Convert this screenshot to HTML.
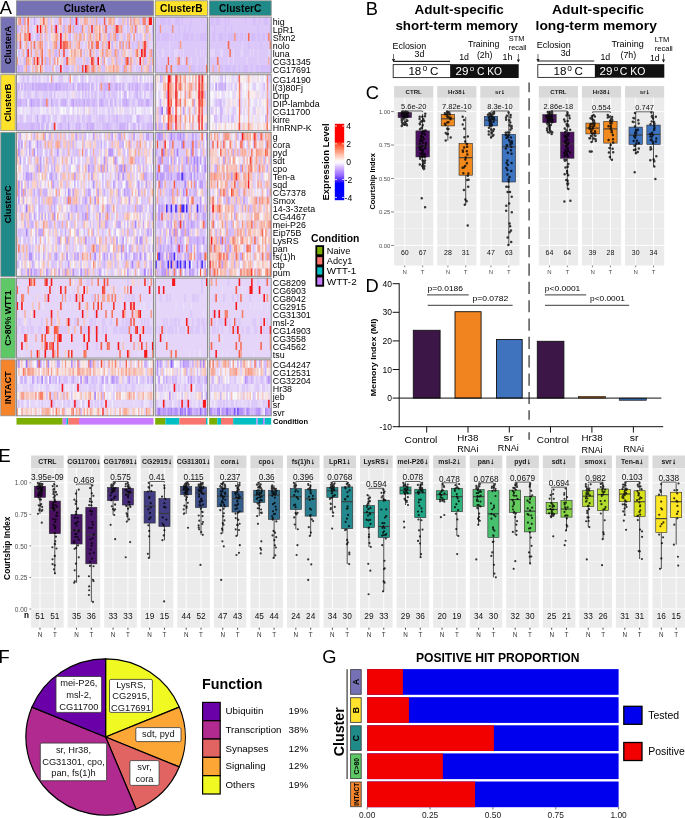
<!DOCTYPE html>
<html><head><meta charset="utf-8"><title>Figure</title>
<style>html,body{margin:0;padding:0;background:#fff}svg{display:block}text{font-family:"Liberation Sans",Arial,sans-serif}</style>
</head><body>
<svg width="685" height="818" viewBox="0 0 685 818">
<rect width="685" height="818" fill="#fff"/>
<rect x="16.5" y="17" width="137" height="56" fill="#dac4f9"/>
<rect x="155.2" y="17" width="52.3" height="56" fill="#dac4f9"/>
<rect x="209.2" y="17" width="62" height="56" fill="#dac4f9"/>
<rect x="16.5" y="74.7" width="137" height="56" fill="#dac4f9"/>
<rect x="155.2" y="74.7" width="52.3" height="56" fill="#dac4f9"/>
<rect x="209.2" y="74.7" width="62" height="56" fill="#dac4f9"/>
<rect x="16.5" y="132.4" width="137" height="144" fill="#dac4f9"/>
<rect x="155.2" y="132.4" width="52.3" height="144" fill="#dac4f9"/>
<rect x="209.2" y="132.4" width="62" height="144" fill="#dac4f9"/>
<rect x="16.5" y="278.1" width="137" height="80" fill="#dac4f9"/>
<rect x="155.2" y="278.1" width="52.3" height="80" fill="#dac4f9"/>
<rect x="209.2" y="278.1" width="62" height="80" fill="#dac4f9"/>
<rect x="16.5" y="359.8" width="137" height="56" fill="#dac4f9"/>
<rect x="155.2" y="359.8" width="52.3" height="56" fill="#dac4f9"/>
<rect x="209.2" y="359.8" width="62" height="56" fill="#dac4f9"/>
<g stroke-width="8" fill="none">
<path stroke="#f9dbd2" d="M16.5 21h1.56M28.95 21h1.56M106.8 21h1.56M128.59 21h1.56M35.18 29h1.56M52.31 29h1.56M58.53 29h1.56M97.45 29h1.56M22.73 37h1.56M42.97 37h1.56M102.12 37h1.56M86.56 45h1.56M109.91 45h1.56M78.77 53h1.56M88.11 53h1.56M99.01 53h1.56M119.25 53h1.56M127.03 53h1.56M21.17 61h1.56M30.51 61h1.56M35.18 61h1.56M106.8 69h1.56M151.94 69h1.56M88.11 110.7h1.56M156.74 78.7h1.54M164.43 78.7h1.54M162.89 94.7h1.54M173.66 94.7h1.54M195.19 94.7h3.08M155.2 102.7h1.54M162.89 102.7h1.54M182.89 102.7h1.54M204.42 102.7h1.54M170.58 110.7h1.54M176.74 110.7h1.54M155.2 118.7h1.54M185.96 118.7h1.54M205.96 118.7h1.54M199.81 126.7h1.54M246.4 78.7h1.55M257.25 78.7h1.55M257.25 94.7h1.55M244.85 102.7h1.55M218.5 126.7h1.55M230.9 126.7h1.55M234 126.7h1.55M246.4 126.7h1.55M263.45 126.7h3.1M39.85 136.4h1.56M52.31 136.4h1.56M77.22 136.4h1.56M97.45 136.4h1.56M74.1 144.4h1.56M86.56 144.4h3.11M92.78 144.4h1.56M127.03 144.4h1.56M131.7 144.4h1.56M141.05 144.4h1.56M150.39 144.4h1.56M99.01 152.4h1.56M133.26 152.4h1.56M18.06 160.4h1.56M56.98 160.4h1.56M88.11 160.4h1.56M58.53 168.4h1.56M144.16 168.4h1.56M42.97 176.4h1.56M94.34 176.4h3.11M116.14 176.4h1.56M19.61 184.4h1.56M38.3 184.4h1.56M61.65 184.4h1.56M133.26 184.4h1.56M147.27 184.4h1.56M150.39 184.4h1.56M25.84 192.4h1.56M28.95 192.4h1.56M49.19 192.4h1.56M100.57 192.4h1.56M30.51 200.4h1.56M77.22 200.4h1.56M92.78 200.4h1.56M108.35 200.4h1.56M116.14 200.4h1.56M123.92 200.4h1.56M130.15 200.4h1.56M18.06 208.4h1.56M60.09 208.4h1.56M103.68 208.4h1.56M111.47 208.4h1.56M142.6 208.4h1.56M39.85 216.4h1.56M97.45 216.4h1.56M100.57 216.4h1.56M109.91 216.4h1.56M148.83 216.4h1.56M21.17 224.4h3.11M86.56 224.4h1.56M120.81 224.4h1.56M36.74 232.4h1.56M53.86 232.4h1.56M78.77 232.4h1.56M119.25 232.4h1.56M144.16 232.4h1.56M95.9 240.4h1.56M114.58 240.4h1.56M127.03 240.4h1.56M50.75 248.4h1.56M74.1 248.4h1.56M85 248.4h1.56M103.68 248.4h1.56M64.76 256.4h1.56M72.55 256.4h1.56M78.77 256.4h1.56M116.14 256.4h3.11M148.83 256.4h1.56M41.41 264.4h1.56M69.43 264.4h1.56M74.1 264.4h1.56M78.77 264.4h1.56M83.44 264.4h1.56M86.56 264.4h1.56M113.02 264.4h1.56M19.61 272.4h1.56M41.41 272.4h1.56M56.98 272.4h1.56M106.8 272.4h1.56M165.97 136.4h1.54M185.96 136.4h1.54M199.81 136.4h1.54M190.58 168.4h1.54M179.81 192.4h1.54M179.81 200.4h1.54M193.66 208.4h1.54M184.43 224.4h1.54M190.58 232.4h1.54M182.89 256.4h1.54M209.2 136.4h1.55M249.5 144.4h1.55M213.85 152.4h1.55M252.6 152.4h1.55M268.1 152.4h1.55M212.3 160.4h3.1M226.25 160.4h1.55M238.65 160.4h1.55M261.9 160.4h1.55M260.35 168.4h1.55M213.85 200.4h1.55M210.75 208.4h1.55M229.35 208.4h1.55M238.65 208.4h1.55M221.6 216.4h1.55M227.8 216.4h1.55M240.2 216.4h3.1M258.8 216.4h1.55M223.15 224.4h1.55M265 224.4h1.55M241.75 232.4h1.55M246.4 232.4h1.55M251.05 232.4h1.55M257.25 232.4h1.55M243.3 240.4h1.55M220.05 248.4h1.55M210.75 256.4h1.55M213.85 256.4h1.55M263.45 256.4h1.55M258.8 264.4h1.55M263.45 264.4h4.65M232.45 272.4h1.55M235.55 272.4h1.55M133.26 282.1h1.56M137.93 282.1h1.56M109.91 290.1h1.56M36.74 298.1h1.56M119.25 298.1h1.56M56.98 322.1h1.56M49.19 330.1h1.56M92.78 330.1h1.56M85 338.1h1.56M53.86 363.8h1.56M116.14 363.8h1.56M122.36 363.8h1.56M133.26 363.8h1.56M25.84 371.8h1.56M41.41 371.8h1.56M44.52 371.8h1.56M61.65 371.8h1.56M70.99 371.8h1.56M85 371.8h1.56M97.45 371.8h3.11M102.12 371.8h1.56M106.8 371.8h1.56M109.91 371.8h1.56M123.92 371.8h1.56M127.03 371.8h1.56M142.6 371.8h1.56M120.81 379.8h1.56M24.28 395.8h1.56M28.95 395.8h1.56M33.62 395.8h1.56M67.88 395.8h1.56M92.78 395.8h1.56M125.48 395.8h1.56M131.7 395.8h1.56M139.49 395.8h3.11M151.94 395.8h1.56M22.73 411.8h3.11M33.62 411.8h1.56M38.3 411.8h1.56M77.22 411.8h1.56M95.9 411.8h1.56M105.24 411.8h1.56M128.59 411.8h1.56M151.94 411.8h1.56M198.27 363.8h1.54M201.35 363.8h1.54M165.97 371.8h1.54M175.2 371.8h1.54M182.89 371.8h1.54M155.2 395.8h1.54M184.43 395.8h3.08M195.19 395.8h1.54M246.4 363.8h1.55M238.65 371.8h1.55M241.75 371.8h1.55M255.7 371.8h1.55M269.65 371.8h1.55M216.95 379.8h1.55M213.85 395.8h3.1M218.5 395.8h1.55M237.1 395.8h1.55M240.2 395.8h1.55"/>
<path stroke="#f9aa93" d="M18.06 21h1.56M69.43 21h1.56M83.44 21h3.11M95.9 21h1.56M108.35 21h1.56M50.75 29h1.56M72.55 29h1.56M131.7 29h1.56M56.98 37h1.56M64.76 37h1.56M78.77 37h3.11M128.59 37h1.56M25.84 45h1.56M38.3 45h1.56M61.65 45h1.56M102.12 45h1.56M125.48 45h1.56M70.99 53h1.56M105.24 53h3.11M38.3 61h1.56M44.52 61h1.56M116.14 61h1.56M151.94 61h1.56M25.84 69h1.56M35.18 69h1.56M52.31 69h1.56M88.11 69h1.56M116.14 69h1.56M125.48 69h1.56M130.15 69h1.56M141.05 69h1.56M268.1 61h1.55M212.3 69h1.55M170.58 78.7h1.54M164.43 86.7h1.54M170.58 86.7h1.54M184.43 86.7h1.54M189.04 86.7h1.54M199.81 86.7h1.54M202.89 86.7h1.54M170.58 94.7h1.54M162.89 118.7h1.54M169.04 126.7h1.54M179.81 126.7h1.54M192.12 126.7h1.54M266.55 94.7h1.55M92.78 152.4h1.56M134.82 152.4h1.56M46.08 160.4h1.56M142.6 176.4h1.56M151.94 192.4h1.56M134.82 208.4h1.56M56.98 216.4h1.56M86.56 216.4h1.56M35.18 224.4h1.56M61.65 224.4h1.56M42.97 232.4h1.56M38.3 248.4h1.56M113.02 248.4h1.56M137.93 264.4h1.56M66.32 272.4h1.56M134.82 272.4h1.56M164.43 152.4h1.54M185.96 152.4h1.54M187.5 160.4h1.54M181.35 168.4h1.54M159.81 192.4h1.54M184.43 232.4h1.54M193.66 248.4h1.54M189.04 256.4h1.54M205.96 256.4h1.54M172.12 264.4h1.54M210.75 136.4h1.55M216.95 136.4h1.55M223.15 136.4h1.55M249.5 136.4h1.55M261.9 136.4h1.55M265 136.4h1.55M268.1 136.4h1.55M268.1 144.4h1.55M209.2 152.4h1.55M237.1 152.4h1.55M241.75 152.4h1.55M224.7 160.4h1.55M234 160.4h1.55M243.3 160.4h1.55M216.95 168.4h1.55M223.15 168.4h1.55M261.9 168.4h1.55M215.4 176.4h1.55M226.25 176.4h3.1M210.75 184.4h1.55M224.7 184.4h3.1M260.35 184.4h1.55M209.2 200.4h1.55M226.25 200.4h1.55M254.15 200.4h1.55M220.05 208.4h1.55M227.8 208.4h1.55M244.85 208.4h1.55M212.3 216.4h1.55M230.9 216.4h1.55M235.55 216.4h1.55M255.7 216.4h1.55M232.45 224.4h1.55M246.4 224.4h1.55M260.35 224.4h1.55M209.2 232.4h1.55M260.35 232.4h1.55M215.4 240.4h1.55M224.7 240.4h1.55M261.9 240.4h1.55M227.8 248.4h1.55M258.8 248.4h1.55M237.1 256.4h1.55M254.15 256.4h1.55M220.05 264.4h1.55M224.7 264.4h1.55M212.3 272.4h1.55M220.05 272.4h1.55M265 272.4h1.55M91.23 282.1h1.56M64.76 298.1h1.56M103.68 298.1h1.56M106.8 298.1h3.11M35.18 338.1h1.56M111.47 363.8h1.56M24.28 371.8h1.56M56.98 371.8h1.56M72.55 371.8h1.56M128.59 371.8h1.56M133.26 371.8h1.56M150.39 371.8h1.56M66.32 395.8h1.56M100.57 395.8h1.56M103.68 395.8h1.56M119.25 395.8h1.56M133.26 395.8h1.56M21.17 411.8h1.56M46.08 411.8h3.11M61.65 411.8h3.11M75.66 411.8h1.56M83.44 411.8h1.56M86.56 411.8h1.56M89.67 411.8h1.56M97.45 411.8h1.56M123.92 411.8h3.11M216.95 363.8h1.55M223.15 363.8h1.55M227.8 363.8h1.55M260.35 363.8h1.55M266.55 363.8h1.55M210.75 371.8h1.55M229.35 371.8h1.55M234 371.8h1.55M244.85 371.8h1.55M249.5 371.8h1.55"/>
<path stroke="#f98c70" d="M19.61 21h1.56M60.09 21h1.56M81.89 29h1.56M117.69 29h1.56M19.61 37h1.56M27.4 37h1.56M133.26 37h1.56M39.85 45h1.56M55.42 45h1.56M58.53 53h1.56M80.33 53h1.56M102.12 53h1.56M130.15 61h1.56M86.56 69h1.56M172.12 29h1.54M176.74 78.7h1.54M178.27 86.7h1.54M176.74 94.7h1.54M189.04 94.7h1.54M199.81 94.7h1.54M184.43 102.7h1.54M169.04 118.7h1.54M266.55 78.7h1.55M247.95 126.7h1.55M81.89 152.4h1.56M106.8 216.4h1.56M92.78 264.4h1.56M161.35 160.4h1.54M175.2 232.4h1.54M226.25 136.4h1.55M241.75 168.4h1.55M249.5 168.4h1.55M213.85 176.4h1.55M216.95 184.4h1.55M220.05 192.4h1.55M232.45 192.4h1.55M243.3 192.4h1.55M255.7 200.4h1.55M266.55 200.4h1.55M241.75 240.4h1.55M235.55 248.4h1.55M249.5 248.4h1.55M241.75 256.4h1.55M212.3 264.4h1.55M246.4 272.4h1.55M80.33 282.1h1.56M150.39 282.1h1.56M27.4 290.1h1.56M127.03 290.1h1.56M22.73 298.1h1.56M139.49 298.1h1.56M77.22 322.1h1.56M53.86 338.1h1.56M145.72 346.1h1.56M151.94 354.1h1.56M269.65 346.1h1.55M77.22 371.8h1.56"/>
<path stroke="#d5bef9" d="M21.17 21h1.56M47.64 21h1.56M63.2 21h1.56M72.55 21h1.56M91.23 21h1.56M94.34 21h1.56M99.01 21h1.56M105.24 21h1.56M119.25 21h1.56M123.92 21h1.56M139.49 21h1.56M18.06 29h1.56M56.98 29h1.56M74.1 29h4.67M92.78 29h1.56M103.68 29h1.56M113.02 29h1.56M127.03 29h1.56M136.38 29h1.56M144.16 29h1.56M38.3 37h1.56M41.41 37h1.56M44.52 37h1.56M86.56 37h1.56M92.78 37h1.56M100.57 37h1.56M106.8 37h1.56M117.69 37h1.56M123.92 37h1.56M130.15 37h1.56M136.38 37h1.56M139.49 37h1.56M145.72 37h1.56M151.94 37h1.56M27.4 45h1.56M44.52 45h1.56M56.98 45h1.56M94.34 45h1.56M105.24 45h1.56M116.14 45h1.56M127.03 45h1.56M131.7 45h1.56M136.38 45h1.56M18.06 53h1.56M44.52 53h1.56M53.86 53h1.56M83.44 53h1.56M95.9 53h1.56M111.47 53h3.11M120.81 53h1.56M32.07 61h1.56M47.64 61h1.56M52.31 61h1.56M63.2 61h3.11M86.56 61h1.56M114.58 61h1.56M119.25 61h1.56M123.92 61h1.56M144.16 61h3.11M150.39 61h1.56M16.5 69h1.56M19.61 69h1.56M28.95 69h1.56M44.52 69h3.11M49.19 69h1.56M55.42 69h1.56M63.2 69h3.11M67.88 69h1.56M72.55 69h1.56M78.77 69h1.56M83.44 69h1.56M102.12 69h3.11M139.49 69h1.56M150.39 69h1.56M159.81 21h6.15M167.51 21h3.08M175.2 21h4.61M181.35 21h1.54M190.58 21h1.54M158.28 29h1.54M170.58 29h1.54M178.27 29h1.54M184.43 29h1.54M189.04 29h1.54M205.96 29h1.54M156.74 37h3.08M161.35 37h7.69M170.58 37h1.54M175.2 37h1.54M178.27 37h1.54M182.89 37h6.15M190.58 37h3.08M196.73 37h1.54M199.81 37h7.69M178.27 45h1.54M155.2 69h1.54M161.35 69h1.54M164.43 69h1.54M169.04 69h1.54M176.74 69h12.31M190.58 69h4.61M198.27 69h1.54M201.35 69h1.54M210.75 21h3.1M215.4 21h4.65M224.7 21h1.55M227.8 21h1.55M244.85 21h1.55M252.6 21h3.1M258.8 21h1.55M263.45 21h4.65M213.85 29h1.55M224.7 29h1.55M230.9 29h1.55M257.25 29h1.55M269.65 29h1.55M212.3 37h3.1M218.5 37h4.65M224.7 37h1.55M227.8 37h6.2M235.55 37h3.1M240.2 37h3.1M244.85 37h1.55M251.05 37h4.65M257.25 37h3.1M261.9 37h3.1M266.55 37h1.55M247.95 45h1.55M260.35 45h1.55M213.85 69h3.1M220.05 69h3.1M224.7 69h6.2M232.45 69h3.1M238.65 69h1.55M243.3 69h4.65M251.05 69h1.55M255.7 69h3.1M260.35 69h10.85M22.73 78.7h1.56M27.4 78.7h1.56M81.89 78.7h1.56M139.49 78.7h1.56M16.5 86.7h1.56M25.84 86.7h6.23M33.62 86.7h1.56M47.64 86.7h1.56M53.86 86.7h1.56M61.65 86.7h1.56M64.76 86.7h1.56M69.43 86.7h1.56M80.33 86.7h1.56M83.44 86.7h1.56M86.56 86.7h1.56M92.78 86.7h1.56M95.9 86.7h1.56M99.01 86.7h1.56M102.12 86.7h1.56M111.47 86.7h1.56M137.93 86.7h3.11M144.16 86.7h1.56M27.4 94.7h1.56M35.18 94.7h1.56M50.75 94.7h1.56M53.86 94.7h1.56M81.89 94.7h1.56M85 94.7h1.56M88.11 94.7h1.56M91.23 94.7h1.56M94.34 94.7h1.56M108.35 94.7h1.56M113.02 94.7h1.56M119.25 94.7h1.56M125.48 94.7h1.56M134.82 94.7h1.56M139.49 94.7h1.56M144.16 94.7h1.56M150.39 94.7h1.56M21.17 102.7h4.67M28.95 102.7h1.56M35.18 102.7h1.56M41.41 102.7h1.56M47.64 102.7h1.56M52.31 102.7h1.56M55.42 102.7h3.11M60.09 102.7h1.56M77.22 102.7h1.56M80.33 102.7h3.11M91.23 102.7h1.56M94.34 102.7h3.11M105.24 102.7h3.11M111.47 102.7h1.56M119.25 102.7h1.56M133.26 102.7h1.56M139.49 102.7h1.56M142.6 102.7h1.56M148.83 102.7h1.56M19.61 118.7h1.56M41.41 118.7h1.56M44.52 118.7h1.56M47.64 118.7h1.56M63.2 118.7h3.11M67.88 118.7h1.56M77.22 118.7h1.56M81.89 118.7h1.56M88.11 118.7h3.11M99.01 118.7h1.56M102.12 118.7h1.56M108.35 118.7h1.56M113.02 118.7h1.56M127.03 118.7h1.56M130.15 118.7h1.56M150.39 118.7h1.56M18.06 126.7h12.45M33.62 126.7h4.67M42.97 126.7h1.56M47.64 126.7h1.56M52.31 126.7h1.56M58.53 126.7h1.56M61.65 126.7h1.56M64.76 126.7h1.56M77.22 126.7h1.56M88.11 126.7h1.56M102.12 126.7h4.67M108.35 126.7h3.11M116.14 126.7h1.56M134.82 126.7h1.56M142.6 126.7h1.56M148.83 126.7h1.56M151.94 126.7h1.56M161.35 78.7h1.54M204.42 94.7h1.54M158.28 110.7h1.54M172.12 110.7h1.54M193.66 110.7h1.54M159.81 118.7h1.54M172.12 126.7h1.54M221.6 78.7h1.55M224.7 78.7h1.55M268.1 78.7h1.55M223.15 86.7h1.55M263.45 86.7h1.55M215.4 102.7h1.55M218.5 102.7h1.55M268.1 102.7h1.55M221.6 110.7h1.55M213.85 118.7h3.1M227.8 118.7h1.55M230.9 118.7h3.1M18.06 136.4h1.56M55.42 136.4h1.56M64.76 136.4h1.56M80.33 136.4h1.56M83.44 136.4h3.11M142.6 136.4h1.56M60.09 144.4h1.56M66.32 144.4h1.56M69.43 144.4h1.56M83.44 144.4h1.56M97.45 144.4h1.56M103.68 144.4h1.56M120.81 144.4h1.56M130.15 144.4h1.56M137.93 144.4h1.56M25.84 152.4h1.56M39.85 152.4h1.56M46.08 152.4h1.56M49.19 152.4h1.56M63.2 152.4h1.56M72.55 152.4h1.56M75.66 152.4h3.11M89.67 152.4h1.56M123.92 152.4h1.56M127.03 152.4h1.56M151.94 152.4h1.56M24.28 160.4h1.56M42.97 160.4h1.56M49.19 160.4h1.56M89.67 160.4h1.56M106.8 160.4h1.56M142.6 160.4h1.56M151.94 160.4h1.56M27.4 168.4h1.56M35.18 168.4h1.56M47.64 168.4h1.56M63.2 168.4h1.56M114.58 168.4h1.56M127.03 168.4h1.56M139.49 168.4h1.56M145.72 168.4h1.56M22.73 176.4h1.56M35.18 176.4h1.56M52.31 176.4h1.56M60.09 176.4h1.56M114.58 176.4h1.56M130.15 176.4h1.56M150.39 176.4h1.56M36.74 184.4h1.56M56.98 184.4h1.56M64.76 184.4h1.56M77.22 184.4h1.56M102.12 184.4h1.56M105.24 184.4h1.56M117.69 184.4h1.56M120.81 184.4h1.56M136.38 184.4h1.56M141.05 184.4h1.56M148.83 184.4h1.56M36.74 192.4h1.56M64.76 192.4h1.56M69.43 192.4h1.56M85 192.4h3.11M119.25 192.4h1.56M125.48 192.4h1.56M147.27 192.4h1.56M41.41 200.4h1.56M55.42 200.4h1.56M70.99 200.4h1.56M78.77 200.4h1.56M81.89 200.4h3.11M111.47 200.4h1.56M117.69 200.4h3.11M141.05 200.4h1.56M147.27 200.4h1.56M19.61 208.4h1.56M33.62 208.4h1.56M39.85 208.4h3.11M74.1 208.4h1.56M80.33 208.4h3.11M116.14 208.4h1.56M127.03 208.4h3.11M137.93 208.4h1.56M148.83 208.4h1.56M24.28 216.4h1.56M35.18 216.4h1.56M83.44 216.4h1.56M108.35 216.4h1.56M122.36 216.4h1.56M139.49 216.4h1.56M150.39 216.4h1.56M50.75 224.4h1.56M64.76 224.4h1.56M70.99 224.4h1.56M81.89 224.4h1.56M89.67 224.4h1.56M123.92 224.4h1.56M148.83 224.4h1.56M18.06 232.4h3.11M60.09 232.4h1.56M75.66 232.4h1.56M83.44 232.4h1.56M102.12 232.4h1.56M114.58 232.4h1.56M123.92 232.4h1.56M128.59 232.4h1.56M131.7 232.4h1.56M19.61 240.4h1.56M24.28 240.4h1.56M27.4 240.4h1.56M44.52 240.4h1.56M88.11 240.4h1.56M111.47 240.4h1.56M125.48 240.4h1.56M134.82 240.4h1.56M32.07 248.4h1.56M88.11 248.4h1.56M125.48 248.4h1.56M137.93 248.4h1.56M144.16 248.4h1.56M148.83 248.4h1.56M151.94 248.4h1.56M19.61 256.4h1.56M24.28 256.4h1.56M32.07 256.4h1.56M35.18 256.4h1.56M47.64 256.4h1.56M56.98 256.4h1.56M75.66 256.4h1.56M102.12 256.4h1.56M123.92 256.4h1.56M128.59 256.4h1.56M141.05 256.4h1.56M52.31 264.4h1.56M58.53 264.4h1.56M80.33 264.4h1.56M114.58 264.4h1.56M130.15 264.4h1.56M145.72 264.4h1.56M36.74 272.4h3.11M47.64 272.4h1.56M61.65 272.4h1.56M69.43 272.4h1.56M83.44 272.4h1.56M142.6 272.4h1.56M164.43 136.4h1.54M169.04 136.4h1.54M172.12 136.4h1.54M181.35 136.4h1.54M159.81 144.4h1.54M170.58 144.4h1.54M178.27 144.4h1.54M184.43 144.4h1.54M187.5 144.4h1.54M196.73 144.4h1.54M199.81 144.4h1.54M205.96 144.4h1.54M156.74 152.4h1.54M169.04 152.4h1.54M199.81 152.4h3.08M162.89 160.4h4.61M175.2 160.4h1.54M182.89 160.4h3.08M189.04 160.4h1.54M162.89 168.4h1.54M170.58 168.4h1.54M173.66 168.4h1.54M184.43 168.4h1.54M201.35 168.4h1.54M155.2 176.4h1.54M158.28 176.4h1.54M169.04 176.4h1.54M173.66 176.4h3.08M179.81 176.4h1.54M185.96 176.4h1.54M199.81 176.4h1.54M155.2 184.4h1.54M169.04 184.4h1.54M178.27 184.4h1.54M185.96 184.4h1.54M198.27 184.4h1.54M204.42 184.4h1.54M158.28 192.4h1.54M165.97 192.4h1.54M173.66 192.4h3.08M178.27 192.4h1.54M184.43 192.4h1.54M204.42 192.4h3.08M158.28 200.4h1.54M161.35 200.4h1.54M169.04 200.4h1.54M196.73 200.4h1.54M204.42 200.4h1.54M169.04 208.4h1.54M187.5 208.4h1.54M159.81 216.4h1.54M165.97 216.4h1.54M172.12 216.4h1.54M175.2 216.4h3.08M184.43 216.4h1.54M190.58 216.4h1.54M198.27 216.4h1.54M201.35 216.4h1.54M156.74 224.4h1.54M159.81 224.4h3.08M165.97 224.4h1.54M176.74 224.4h1.54M185.96 224.4h1.54M205.96 224.4h1.54M162.89 232.4h3.08M199.81 232.4h3.08M155.2 240.4h1.54M173.66 240.4h1.54M181.35 240.4h3.08M192.12 240.4h1.54M195.19 240.4h1.54M199.81 240.4h3.08M155.2 248.4h1.54M165.97 248.4h1.54M169.04 248.4h1.54M172.12 248.4h1.54M189.04 248.4h1.54M198.27 248.4h1.54M204.42 248.4h3.08M162.89 256.4h1.54M178.27 256.4h1.54M185.96 256.4h1.54M202.89 256.4h1.54M164.43 264.4h1.54M173.66 264.4h1.54M187.5 264.4h1.54M158.28 272.4h1.54M172.12 272.4h1.54M181.35 272.4h1.54M193.66 272.4h1.54M257.25 136.4h1.55M252.6 144.4h1.55M265 144.4h1.55M238.65 152.4h1.55M227.8 160.4h1.55M258.8 160.4h1.55M269.65 160.4h1.55M209.2 168.4h1.55M213.85 168.4h1.55M244.85 168.4h1.55M257.25 168.4h1.55M257.25 176.4h1.55M261.9 176.4h1.55M209.2 192.4h1.55M223.15 200.4h3.1M240.2 200.4h1.55M251.05 208.4h1.55M209.2 216.4h1.55M215.4 216.4h1.55M213.85 224.4h1.55M252.6 224.4h1.55M227.8 232.4h1.55M230.9 232.4h3.1M223.15 240.4h1.55M255.7 240.4h1.55M252.6 248.4h1.55M268.1 248.4h1.55M265 256.4h1.55M28.95 363.8h1.56M74.1 363.8h1.56M91.23 363.8h1.56M103.68 363.8h1.56M119.25 363.8h1.56M19.61 379.8h1.56M25.84 379.8h1.56M46.08 379.8h1.56M52.31 379.8h1.56M63.2 379.8h4.67M70.99 379.8h1.56M83.44 379.8h1.56M91.23 379.8h3.11M95.9 379.8h1.56M100.57 379.8h1.56M114.58 379.8h1.56M117.69 379.8h1.56M127.03 379.8h1.56M131.7 379.8h1.56M142.6 379.8h1.56M150.39 379.8h1.56M100.57 387.8h1.56M46.08 395.8h1.56M70.99 395.8h1.56M18.06 403.8h1.56M100.57 403.8h1.56M161.35 363.8h1.54M165.97 363.8h1.54M195.19 363.8h1.54M196.73 371.8h1.54M193.66 379.8h1.54M196.73 379.8h1.54M155.2 387.8h1.54M158.28 387.8h1.54M161.35 387.8h1.54M178.27 387.8h1.54M184.43 387.8h1.54M199.81 387.8h1.54M181.35 395.8h1.54M192.12 411.8h1.54M198.27 411.8h1.54M202.89 411.8h1.54M218.5 363.8h1.55M255.7 363.8h1.55M263.45 363.8h3.1M260.35 379.8h3.1M269.65 379.8h1.55M210.75 387.8h1.55M223.15 387.8h1.55M226.25 387.8h1.55M226.25 395.8h1.55M252.6 395.8h1.55M223.15 403.8h1.55M212.3 411.8h1.55M215.4 411.8h1.55M235.55 411.8h1.55M249.5 411.8h1.55M252.6 411.8h1.55M260.35 411.8h1.55"/>
<path stroke="#c5a7f9" d="M22.73 21h1.56M33.62 21h1.56M63.2 29h1.56M108.35 37h1.56M18.06 69h1.56M32.07 86.7h1.56M38.3 86.7h1.56M44.52 86.7h1.56M49.19 86.7h1.56M58.53 86.7h1.56M72.55 86.7h1.56M81.89 86.7h1.56M116.14 86.7h1.56M119.25 86.7h1.56M128.59 86.7h1.56M136.38 86.7h1.56M19.61 102.7h1.56M50.75 102.7h1.56M64.76 102.7h1.56M83.44 102.7h1.56M100.57 102.7h1.56M125.48 102.7h1.56M145.72 102.7h3.11M36.74 118.7h1.56M67.88 126.7h1.56M86.56 126.7h1.56M91.23 126.7h1.56M119.25 126.7h1.56M159.81 78.7h1.54M159.81 102.7h1.54M193.66 102.7h1.54M165.97 110.7h1.54M158.28 126.7h1.54M165.97 126.7h1.54M205.96 126.7h1.54M224.7 86.7h1.55M19.61 136.4h1.56M44.52 136.4h1.56M145.72 136.4h1.56M100.57 144.4h1.56M122.36 144.4h1.56M28.95 152.4h1.56M36.74 152.4h1.56M70.99 160.4h1.56M53.86 168.4h1.56M92.78 168.4h1.56M103.68 168.4h1.56M106.8 168.4h1.56M49.19 176.4h1.56M55.42 176.4h1.56M145.72 176.4h1.56M21.17 184.4h1.56M27.4 184.4h1.56M74.1 184.4h1.56M125.48 184.4h3.11M24.28 192.4h1.56M33.62 192.4h1.56M38.3 192.4h1.56M117.69 192.4h1.56M127.03 192.4h1.56M22.73 200.4h1.56M38.3 200.4h1.56M53.86 200.4h1.56M66.32 200.4h1.56M38.3 208.4h1.56M53.86 208.4h1.56M139.49 208.4h1.56M28.95 216.4h1.56M33.62 216.4h1.56M41.41 216.4h1.56M44.52 216.4h1.56M81.89 216.4h1.56M24.28 224.4h1.56M32.07 224.4h1.56M99.01 224.4h1.56M117.69 224.4h3.11M142.6 224.4h1.56M38.3 232.4h4.67M64.76 232.4h1.56M77.22 232.4h1.56M92.78 232.4h1.56M35.18 240.4h1.56M95.9 248.4h1.56M128.59 248.4h1.56M42.97 256.4h1.56M74.1 256.4h1.56M106.8 256.4h1.56M109.91 256.4h1.56M120.81 256.4h1.56M32.07 264.4h1.56M150.39 264.4h1.56M33.62 272.4h3.11M86.56 272.4h1.56M156.74 136.4h1.54M173.66 136.4h1.54M176.74 136.4h3.08M195.19 136.4h1.54M169.04 144.4h1.54M190.58 144.4h1.54M155.2 152.4h1.54M173.66 152.4h1.54M173.66 160.4h1.54M178.27 160.4h1.54M190.58 160.4h1.54M164.43 168.4h4.61M178.27 168.4h1.54M189.04 168.4h1.54M167.51 176.4h1.54M196.73 176.4h1.54M161.35 184.4h1.54M170.58 192.4h1.54M195.19 192.4h1.54M176.74 208.4h1.54M190.58 208.4h1.54M205.96 208.4h1.54M170.58 216.4h1.54M179.81 216.4h1.54M187.5 216.4h1.54M196.73 216.4h1.54M204.42 216.4h1.54M167.51 224.4h1.54M178.27 224.4h1.54M187.5 224.4h1.54M192.12 224.4h1.54M204.42 224.4h1.54M176.74 232.4h1.54M182.89 232.4h1.54M158.28 240.4h1.54M164.43 240.4h1.54M189.04 240.4h1.54M162.89 248.4h1.54M167.51 248.4h1.54M170.58 248.4h1.54M172.12 256.4h1.54M176.74 256.4h1.54M184.43 256.4h1.54M196.73 256.4h3.08M175.2 264.4h1.54M178.27 264.4h1.54M199.81 264.4h1.54M175.2 272.4h1.54M184.43 272.4h1.54M196.73 272.4h1.54M232.45 152.4h1.55M215.4 168.4h1.55M266.55 168.4h1.55M226.25 192.4h1.55M235.55 200.4h1.55M241.75 208.4h1.55M234 216.4h1.55M224.7 224.4h1.55M227.8 240.4h1.55M227.8 256.4h1.55M234 264.4h1.55M58.53 363.8h1.56M144.16 363.8h1.56M36.74 379.8h1.56M58.53 379.8h1.56M72.55 379.8h1.56M85 379.8h1.56M106.8 379.8h1.56M116.14 379.8h1.56M151.94 379.8h1.56M179.81 363.8h1.54M184.43 363.8h4.61M192.12 363.8h1.54M165.97 379.8h1.54M187.5 379.8h1.54M201.35 395.8h1.54M161.35 411.8h1.54M172.12 411.8h1.54M182.89 411.8h1.54M195.19 411.8h3.08M201.35 411.8h1.54M205.96 411.8h1.54M237.1 363.8h1.55M240.2 363.8h1.55M246.4 379.8h1.55M213.85 411.8h1.55M224.7 411.8h1.55M243.3 411.8h1.55M268.1 411.8h1.55"/>
<path stroke="#f9967c" d="M24.28 21h1.56M130.15 21h1.56M133.26 21h1.56M44.52 29h1.56M99.01 29h1.56M114.58 37h1.56M78.77 45h1.56M122.36 45h1.56M30.51 53h1.56M114.58 53h1.56M142.6 53h1.56M150.39 53h1.56M16.5 61h1.56M25.84 61h1.56M56.98 61h1.56M91.23 69h1.56M113.02 69h1.56M159.81 29h1.54M234 37h1.55M50.75 78.7h1.56M69.43 78.7h1.56M100.57 86.7h1.56M184.43 78.7h1.54M195.19 78.7h1.54M184.43 94.7h1.54M202.89 94.7h1.54M176.74 102.7h1.54M192.12 102.7h1.54M179.81 118.7h1.54M189.04 118.7h1.54M170.58 126.7h1.54M266.55 86.7h1.55M247.95 94.7h1.55M266.55 102.7h1.55M266.55 118.7h1.55M69.43 200.4h1.56M122.36 248.4h1.56M81.89 256.4h1.56M89.67 256.4h1.56M190.58 184.4h1.54M193.66 184.4h1.54M190.58 256.4h1.54M193.66 256.4h1.54M224.7 136.4h1.55M243.3 136.4h1.55M241.75 144.4h1.55M255.7 152.4h1.55M251.05 160.4h1.55M226.25 168.4h1.55M247.95 168.4h1.55M243.3 176.4h1.55M257.25 184.4h1.55M258.8 200.4h1.55M261.9 200.4h1.55M221.6 224.4h1.55M241.75 224.4h1.55M240.2 240.4h1.55M210.75 248.4h1.55M234 248.4h1.55M249.5 272.4h1.55M254.15 272.4h1.55M258.8 272.4h1.55M61.65 298.1h1.56M94.34 298.1h1.56M97.45 298.1h1.56M150.39 314.1h1.56M133.26 346.1h1.56M30.51 354.1h1.56M215.4 282.1h1.55M64.76 363.8h1.56M27.4 371.8h1.56M47.64 371.8h1.56M21.17 395.8h1.56M35.18 395.8h1.56M128.59 395.8h1.56M145.72 411.8h1.56M232.45 363.8h1.55M243.3 363.8h1.55M235.55 371.8h1.55M247.95 371.8h1.55"/>
<path stroke="#e4d5f9" d="M25.84 21h1.56M32.07 21h1.56M36.74 21h3.11M67.88 21h1.56M78.77 21h1.56M81.89 21h1.56M88.11 21h1.56M151.94 21h1.56M22.73 29h1.56M25.84 29h1.56M32.07 29h3.11M42.97 29h1.56M49.19 29h1.56M123.92 29h3.11M148.83 29h1.56M21.17 37h1.56M47.64 37h1.56M58.53 37h1.56M119.25 37h1.56M125.48 37h1.56M134.82 37h1.56M137.93 37h1.56M150.39 37h1.56M28.95 45h1.56M32.07 45h1.56M42.97 45h1.56M80.33 45h1.56M89.67 45h1.56M99.01 45h1.56M113.02 45h1.56M123.92 45h1.56M130.15 45h1.56M148.83 45h4.67M19.61 53h1.56M28.95 53h1.56M32.07 53h1.56M42.97 53h1.56M46.08 53h1.56M60.09 53h1.56M67.88 53h1.56M81.89 53h1.56M94.34 53h1.56M128.59 53h1.56M147.27 53h1.56M18.06 61h1.56M39.85 61h1.56M50.75 61h1.56M60.09 61h1.56M81.89 61h1.56M94.34 61h1.56M106.8 61h1.56M137.93 61h1.56M42.97 69h1.56M61.65 69h1.56M69.43 69h1.56M120.81 69h1.56M133.26 69h3.11M169.04 45h1.54M156.74 53h1.54M161.35 53h3.08M169.04 53h1.54M173.66 53h4.61M179.81 53h1.54M182.89 53h1.54M195.19 53h1.54M199.81 53h1.54M202.89 53h1.54M158.28 61h1.54M173.66 61h1.54M181.35 61h3.08M190.58 61h1.54M196.73 61h1.54M204.42 61h1.54M241.75 45h1.55M209.2 53h6.2M220.05 53h3.1M232.45 53h1.55M240.2 53h3.1M249.5 53h1.55M252.6 53h1.55M257.25 53h1.55M268.1 53h3.1M227.8 61h1.55M232.45 61h1.55M246.4 61h1.55M257.25 61h1.55M19.61 78.7h3.11M24.28 78.7h3.11M33.62 78.7h1.56M39.85 78.7h1.56M42.97 78.7h1.56M46.08 78.7h1.56M72.55 78.7h1.56M75.66 78.7h1.56M83.44 78.7h3.11M88.11 78.7h1.56M92.78 78.7h3.11M97.45 78.7h3.11M103.68 78.7h1.56M106.8 78.7h1.56M109.91 78.7h3.11M114.58 78.7h1.56M122.36 78.7h4.67M131.7 78.7h1.56M134.82 78.7h1.56M141.05 78.7h1.56M144.16 78.7h1.56M147.27 78.7h1.56M150.39 78.7h1.56M22.73 86.7h1.56M120.81 86.7h1.56M141.05 86.7h1.56M148.83 86.7h1.56M18.06 94.7h1.56M22.73 94.7h1.56M25.84 94.7h1.56M30.51 94.7h1.56M33.62 94.7h1.56M38.3 94.7h4.67M47.64 94.7h1.56M56.98 94.7h3.11M61.65 94.7h3.11M67.88 94.7h1.56M74.1 94.7h4.67M83.44 94.7h1.56M86.56 94.7h1.56M92.78 94.7h1.56M105.24 94.7h3.11M109.91 94.7h1.56M122.36 94.7h1.56M130.15 94.7h1.56M137.93 94.7h1.56M141.05 94.7h1.56M148.83 94.7h1.56M39.85 102.7h1.56M49.19 102.7h1.56M116.14 102.7h3.11M130.15 102.7h1.56M134.82 102.7h3.11M16.5 110.7h1.56M22.73 110.7h1.56M32.07 110.7h3.11M36.74 110.7h3.11M46.08 110.7h3.11M50.75 110.7h3.11M55.42 110.7h3.11M66.32 110.7h3.11M77.22 110.7h1.56M89.67 110.7h1.56M94.34 110.7h1.56M99.01 110.7h1.56M102.12 110.7h3.11M106.8 110.7h1.56M113.02 110.7h1.56M116.14 110.7h1.56M119.25 110.7h1.56M123.92 110.7h4.67M144.16 110.7h1.56M151.94 110.7h1.56M18.06 118.7h1.56M22.73 118.7h1.56M33.62 118.7h1.56M38.3 118.7h3.11M46.08 118.7h1.56M52.31 118.7h1.56M60.09 118.7h1.56M66.32 118.7h1.56M69.43 118.7h1.56M74.1 118.7h3.11M85 118.7h1.56M91.23 118.7h4.67M97.45 118.7h1.56M105.24 118.7h3.11M109.91 118.7h1.56M122.36 118.7h1.56M144.16 118.7h4.67M39.85 126.7h1.56M70.99 126.7h1.56M74.1 126.7h1.56M81.89 126.7h1.56M94.34 126.7h1.56M100.57 126.7h1.56M113.02 126.7h1.56M193.66 86.7h1.54M158.28 94.7h1.54M185.96 94.7h1.54M205.96 94.7h1.54M158.28 102.7h1.54M155.2 110.7h1.54M202.89 110.7h1.54M181.35 118.7h1.54M232.45 78.7h1.55M237.1 78.7h1.55M269.65 78.7h1.55M212.3 86.7h1.55M227.8 86.7h1.55M234 86.7h1.55M252.6 86.7h1.55M261.9 86.7h1.55M221.6 94.7h1.55M232.45 94.7h3.1M240.2 94.7h1.55M261.9 94.7h1.55M213.85 102.7h1.55M227.8 102.7h1.55M240.2 102.7h1.55M255.7 102.7h1.55M258.8 102.7h1.55M269.65 102.7h1.55M212.3 110.7h1.55M227.8 110.7h1.55M243.3 110.7h1.55M252.6 110.7h1.55M216.95 118.7h1.55M221.6 118.7h1.55M224.7 118.7h1.55M268.1 118.7h1.55M32.07 136.4h1.56M47.64 136.4h1.56M61.65 136.4h1.56M69.43 136.4h1.56M74.1 136.4h1.56M88.11 136.4h1.56M100.57 136.4h1.56M136.38 136.4h3.11M27.4 144.4h1.56M30.51 144.4h1.56M35.18 144.4h1.56M41.41 144.4h3.11M53.86 144.4h1.56M61.65 144.4h1.56M99.01 144.4h1.56M133.26 144.4h3.11M142.6 144.4h1.56M24.28 152.4h1.56M53.86 152.4h1.56M58.53 152.4h1.56M64.76 152.4h1.56M69.43 152.4h3.11M83.44 152.4h1.56M91.23 152.4h1.56M147.27 152.4h1.56M58.53 160.4h1.56M63.2 160.4h1.56M81.89 160.4h3.11M125.48 160.4h1.56M144.16 160.4h1.56M24.28 168.4h1.56M33.62 168.4h1.56M41.41 168.4h1.56M52.31 168.4h1.56M61.65 168.4h1.56M64.76 168.4h1.56M86.56 168.4h1.56M109.91 168.4h1.56M147.27 168.4h1.56M24.28 176.4h1.56M36.74 176.4h1.56M56.98 176.4h1.56M66.32 176.4h1.56M69.43 176.4h1.56M85 176.4h1.56M97.45 176.4h1.56M108.35 176.4h1.56M133.26 176.4h1.56M148.83 176.4h1.56M44.52 184.4h1.56M55.42 184.4h1.56M81.89 184.4h1.56M85 184.4h1.56M94.34 184.4h1.56M97.45 184.4h1.56M131.7 184.4h1.56M142.6 184.4h1.56M151.94 184.4h1.56M27.4 192.4h1.56M52.31 192.4h1.56M78.77 192.4h3.11M92.78 192.4h1.56M122.36 192.4h1.56M130.15 192.4h1.56M148.83 192.4h1.56M91.23 200.4h1.56M113.02 200.4h3.11M133.26 200.4h1.56M145.72 200.4h1.56M151.94 200.4h1.56M21.17 208.4h1.56M24.28 208.4h1.56M44.52 208.4h3.11M52.31 208.4h1.56M55.42 208.4h1.56M66.32 208.4h1.56M94.34 208.4h1.56M119.25 208.4h3.11M130.15 208.4h1.56M144.16 208.4h1.56M19.61 216.4h1.56M64.76 216.4h3.11M80.33 216.4h1.56M103.68 216.4h1.56M113.02 216.4h1.56M117.69 216.4h1.56M120.81 216.4h1.56M144.16 216.4h1.56M147.27 216.4h1.56M16.5 224.4h1.56M25.84 224.4h1.56M38.3 224.4h1.56M41.41 224.4h1.56M52.31 224.4h1.56M55.42 224.4h1.56M78.77 224.4h3.11M94.34 224.4h3.11M108.35 224.4h4.67M139.49 224.4h1.56M150.39 224.4h1.56M16.5 232.4h1.56M24.28 232.4h1.56M28.95 232.4h1.56M95.9 232.4h1.56M99.01 232.4h3.11M103.68 232.4h3.11M113.02 232.4h1.56M125.48 232.4h1.56M18.06 240.4h1.56M25.84 240.4h1.56M32.07 240.4h1.56M38.3 240.4h1.56M42.97 240.4h1.56M52.31 240.4h3.11M69.43 240.4h3.11M81.89 240.4h1.56M86.56 240.4h1.56M89.67 240.4h1.56M92.78 240.4h1.56M103.68 240.4h1.56M106.8 240.4h3.11M119.25 240.4h1.56M130.15 240.4h1.56M144.16 240.4h1.56M16.5 248.4h1.56M24.28 248.4h1.56M30.51 248.4h1.56M36.74 248.4h1.56M47.64 248.4h1.56M56.98 248.4h1.56M60.09 248.4h1.56M63.2 248.4h1.56M67.88 248.4h1.56M70.99 248.4h1.56M75.66 248.4h1.56M78.77 248.4h1.56M81.89 248.4h1.56M100.57 248.4h1.56M21.17 256.4h1.56M44.52 256.4h1.56M58.53 256.4h1.56M88.11 256.4h1.56M95.9 256.4h1.56M150.39 256.4h1.56M25.84 264.4h1.56M30.51 264.4h1.56M66.32 264.4h1.56M75.66 264.4h1.56M105.24 264.4h1.56M141.05 264.4h3.11M89.67 272.4h3.11M95.9 272.4h1.56M108.35 272.4h3.11M113.02 272.4h1.56M128.59 272.4h3.11M133.26 272.4h1.56M136.38 272.4h1.56M193.66 136.4h1.54M179.81 144.4h1.54M159.81 152.4h1.54M178.27 152.4h1.54M193.66 152.4h1.54M198.27 160.4h1.54M205.96 160.4h1.54M175.2 168.4h1.54M185.96 168.4h1.54M164.43 176.4h1.54M162.89 184.4h1.54M172.12 184.4h1.54M181.35 192.4h1.54M187.5 192.4h1.54M165.97 200.4h1.54M182.89 200.4h1.54M198.27 200.4h1.54M192.12 208.4h1.54M195.19 208.4h1.54M198.27 208.4h1.54M199.81 216.4h1.54M155.2 224.4h1.54M162.89 224.4h1.54M195.19 224.4h1.54M155.2 232.4h4.61M193.66 232.4h1.54M198.27 232.4h1.54M169.04 240.4h1.54M204.42 240.4h1.54M181.35 256.4h1.54M185.96 264.4h1.54M198.27 264.4h1.54M170.58 272.4h1.54M187.5 272.4h1.54M221.6 136.4h1.55M230.9 136.4h1.55M240.2 136.4h1.55M263.45 136.4h1.55M209.2 144.4h1.55M215.4 144.4h1.55M238.65 144.4h1.55M246.4 152.4h1.55M249.5 152.4h1.55M209.2 160.4h1.55M241.75 160.4h1.55M265 168.4h1.55M221.6 176.4h1.55M224.7 176.4h1.55M240.2 176.4h1.55M254.15 176.4h1.55M269.65 176.4h1.55M215.4 184.4h1.55M254.15 184.4h1.55M261.9 184.4h1.55M241.75 192.4h1.55M246.4 192.4h1.55M249.5 192.4h1.55M260.35 192.4h1.55M237.1 208.4h1.55M210.75 216.4h1.55M216.95 224.4h1.55M257.25 224.4h1.55M268.1 232.4h1.55M244.85 248.4h1.55M254.15 248.4h1.55M229.35 256.4h1.55M229.35 264.4h1.55M241.75 264.4h1.55M252.6 264.4h1.55M226.25 272.4h1.55M238.65 272.4h1.55M16.5 282.1h12.45M35.18 282.1h9.34M47.64 282.1h3.11M53.86 282.1h15.57M70.99 282.1h1.56M74.1 282.1h4.67M81.89 282.1h4.67M89.67 282.1h1.56M92.78 282.1h4.67M99.01 282.1h4.67M105.24 282.1h1.56M108.35 282.1h18.68M128.59 282.1h3.11M134.82 282.1h3.11M139.49 282.1h4.67M145.72 282.1h1.56M151.94 282.1h1.56M18.06 290.1h9.34M28.95 290.1h12.45M42.97 290.1h6.23M50.75 290.1h4.67M56.98 290.1h3.11M61.65 290.1h3.11M67.88 290.1h1.56M70.99 290.1h6.23M78.77 290.1h3.11M85 290.1h1.56M89.67 290.1h12.45M105.24 290.1h4.67M111.47 290.1h1.56M116.14 290.1h6.23M128.59 290.1h1.56M131.7 290.1h17.12M150.39 290.1h1.56M16.5 298.1h4.67M24.28 298.1h12.45M38.3 298.1h6.23M49.19 298.1h12.45M66.32 298.1h3.11M70.99 298.1h3.11M77.22 298.1h1.56M80.33 298.1h1.56M83.44 298.1h7.78M95.9 298.1h1.56M99.01 298.1h3.11M105.24 298.1h1.56M109.91 298.1h1.56M113.02 298.1h1.56M116.14 298.1h3.11M120.81 298.1h4.67M127.03 298.1h1.56M130.15 298.1h1.56M134.82 298.1h4.67M141.05 298.1h12.45M18.06 306.1h3.11M24.28 306.1h7.78M33.62 306.1h3.11M39.85 306.1h1.56M44.52 306.1h15.57M61.65 306.1h3.11M66.32 306.1h3.11M70.99 306.1h3.11M75.66 306.1h3.11M80.33 306.1h4.67M88.11 306.1h3.11M94.34 306.1h3.11M102.12 306.1h10.9M114.58 306.1h6.23M122.36 306.1h1.56M125.48 306.1h1.56M128.59 306.1h1.56M134.82 306.1h4.67M141.05 306.1h1.56M145.72 306.1h4.67M151.94 306.1h1.56M16.5 314.1h3.11M21.17 314.1h3.11M25.84 314.1h4.67M32.07 314.1h1.56M35.18 314.1h15.57M52.31 314.1h4.67M58.53 314.1h23.35M83.44 314.1h3.11M88.11 314.1h6.23M97.45 314.1h7.78M106.8 314.1h1.56M109.91 314.1h1.56M113.02 314.1h9.34M125.48 314.1h6.23M133.26 314.1h1.56M141.05 314.1h9.34M151.94 314.1h1.56M16.5 322.1h1.56M21.17 322.1h3.11M25.84 322.1h3.11M30.51 322.1h10.9M42.97 322.1h3.11M47.64 322.1h3.11M52.31 322.1h1.56M55.42 322.1h1.56M60.09 322.1h6.23M70.99 322.1h3.11M78.77 322.1h4.67M85 322.1h4.67M92.78 322.1h1.56M95.9 322.1h6.23M105.24 322.1h4.67M111.47 322.1h4.67M117.69 322.1h4.67M123.92 322.1h1.56M131.7 322.1h1.56M134.82 322.1h6.23M142.6 322.1h1.56M145.72 322.1h1.56M148.83 322.1h4.67M18.06 330.1h3.11M24.28 330.1h3.11M28.95 330.1h1.56M33.62 330.1h4.67M41.41 330.1h3.11M50.75 330.1h3.11M69.43 330.1h3.11M75.66 330.1h4.67M91.23 330.1h1.56M99.01 330.1h3.11M103.68 330.1h1.56M106.8 330.1h6.23M117.69 330.1h1.56M131.7 330.1h1.56M137.93 330.1h1.56M144.16 330.1h1.56M151.94 330.1h1.56M16.5 338.1h7.78M28.95 338.1h6.23M36.74 338.1h4.67M42.97 338.1h1.56M46.08 338.1h7.78M55.42 338.1h1.56M63.2 338.1h6.23M72.55 338.1h10.9M86.56 338.1h1.56M89.67 338.1h6.23M97.45 338.1h7.78M106.8 338.1h14.01M122.36 338.1h7.78M131.7 338.1h1.56M134.82 338.1h4.67M141.05 338.1h12.45M16.5 346.1h4.67M22.73 346.1h3.11M27.4 346.1h14.01M42.97 346.1h1.56M47.64 346.1h1.56M53.86 346.1h3.11M58.53 346.1h24.91M85 346.1h1.56M88.11 346.1h7.78M97.45 346.1h3.11M102.12 346.1h4.67M109.91 346.1h7.78M119.25 346.1h3.11M123.92 346.1h9.34M134.82 346.1h3.11M139.49 346.1h1.56M142.6 346.1h3.11M147.27 346.1h4.67M16.5 354.1h4.67M22.73 354.1h7.78M32.07 354.1h4.67M39.85 354.1h4.67M46.08 354.1h6.23M55.42 354.1h1.56M58.53 354.1h6.23M72.55 354.1h9.34M86.56 354.1h32.69M120.81 354.1h6.23M130.15 354.1h7.78M139.49 354.1h4.67M147.27 354.1h4.67M155.2 282.1h16.92M175.2 282.1h26.15M202.89 282.1h3.08M155.2 290.1h3.08M159.81 290.1h3.08M164.43 290.1h36.92M202.89 290.1h4.61M155.2 298.1h4.61M161.35 298.1h4.61M167.51 298.1h1.54M170.58 298.1h13.84M185.96 298.1h6.15M195.19 298.1h1.54M198.27 298.1h9.23M155.2 306.1h3.08M159.81 306.1h15.38M176.74 306.1h6.15M184.43 306.1h6.15M192.12 306.1h15.38M155.2 314.1h35.38M192.12 314.1h10.77M204.42 314.1h3.08M155.2 322.1h7.69M164.43 322.1h1.54M167.51 322.1h3.08M172.12 322.1h1.54M176.74 322.1h1.54M179.81 322.1h6.15M189.04 322.1h3.08M193.66 322.1h3.08M199.81 322.1h1.54M204.42 322.1h1.54M156.74 330.1h1.54M159.81 330.1h1.54M165.97 330.1h1.54M173.66 330.1h1.54M176.74 330.1h3.08M181.35 330.1h1.54M184.43 330.1h3.08M193.66 330.1h1.54M199.81 330.1h3.08M205.96 330.1h1.54M156.74 338.1h3.08M161.35 338.1h4.61M167.51 338.1h39.99M155.2 346.1h10.77M167.51 346.1h39.99M155.2 354.1h15.38M173.66 354.1h1.54M176.74 354.1h12.31M190.58 354.1h3.08M195.19 354.1h3.08M201.35 354.1h6.15M209.2 282.1h1.55M212.3 282.1h3.1M216.95 282.1h10.85M229.35 282.1h9.3M240.2 282.1h10.85M252.6 282.1h4.65M258.8 282.1h6.2M268.1 282.1h3.1M209.2 290.1h12.4M223.15 290.1h12.4M237.1 290.1h4.65M243.3 290.1h1.55M246.4 290.1h3.1M252.6 290.1h6.2M260.35 290.1h10.85M209.2 298.1h4.65M216.95 298.1h6.2M224.7 298.1h7.75M234 298.1h3.1M238.65 298.1h1.55M241.75 298.1h7.75M251.05 298.1h12.4M265 298.1h1.55M268.1 298.1h3.1M209.2 306.1h26.35M238.65 306.1h10.85M251.05 306.1h3.1M255.7 306.1h1.55M258.8 306.1h1.55M261.9 306.1h4.65M268.1 306.1h3.1M209.2 314.1h3.1M215.4 314.1h3.1M220.05 314.1h4.65M227.8 314.1h13.95M243.3 314.1h27.9M209.2 322.1h1.55M212.3 322.1h1.55M215.4 322.1h3.1M223.15 322.1h1.55M227.8 322.1h1.55M230.9 322.1h3.1M237.1 322.1h1.55M240.2 322.1h12.4M255.7 322.1h4.65M261.9 322.1h1.55M265 322.1h1.55M268.1 322.1h3.1M209.2 330.1h3.1M215.4 330.1h1.55M218.5 330.1h3.1M223.15 330.1h6.2M230.9 330.1h1.55M238.65 330.1h3.1M243.3 330.1h3.1M249.5 330.1h4.65M257.25 330.1h3.1M261.9 330.1h1.55M265 330.1h1.55M268.1 330.1h1.55M210.75 338.1h7.75M220.05 338.1h1.55M223.15 338.1h15.5M240.2 338.1h29.45M209.2 346.1h1.55M212.3 346.1h23.25M237.1 346.1h3.1M241.75 346.1h18.6M261.9 346.1h7.75M209.2 354.1h6.2M216.95 354.1h4.65M223.15 354.1h3.1M227.8 354.1h10.85M241.75 354.1h10.85M254.15 354.1h17.05M55.42 363.8h1.56M95.9 363.8h1.56M106.8 363.8h1.56M128.59 363.8h1.56M136.38 363.8h1.56M108.35 371.8h1.56M28.95 379.8h1.56M39.85 379.8h1.56M50.75 379.8h1.56M61.65 379.8h1.56M69.43 379.8h1.56M75.66 379.8h1.56M89.67 379.8h1.56M99.01 379.8h1.56M109.91 379.8h1.56M133.26 379.8h3.11M144.16 379.8h1.56M148.83 379.8h1.56M16.5 387.8h1.56M22.73 387.8h4.67M28.95 387.8h1.56M36.74 387.8h1.56M39.85 387.8h1.56M44.52 387.8h1.56M55.42 387.8h1.56M63.2 387.8h1.56M70.99 387.8h1.56M75.66 387.8h1.56M80.33 387.8h6.23M88.11 387.8h1.56M91.23 387.8h1.56M95.9 387.8h1.56M102.12 387.8h1.56M105.24 387.8h4.67M113.02 387.8h1.56M117.69 387.8h1.56M120.81 387.8h4.67M127.03 387.8h4.67M134.82 387.8h1.56M137.93 387.8h3.11M142.6 387.8h1.56M150.39 387.8h1.56M64.76 395.8h1.56M136.38 395.8h1.56M16.5 403.8h1.56M22.73 403.8h1.56M25.84 403.8h1.56M30.51 403.8h4.67M38.3 403.8h1.56M44.52 403.8h1.56M47.64 403.8h3.11M56.98 403.8h4.67M64.76 403.8h3.11M69.43 403.8h1.56M77.22 403.8h3.11M83.44 403.8h1.56M86.56 403.8h1.56M89.67 403.8h1.56M95.9 403.8h1.56M102.12 403.8h1.56M106.8 403.8h4.67M113.02 403.8h6.23M120.81 403.8h12.45M134.82 403.8h6.23M142.6 403.8h1.56M148.83 403.8h1.56M151.94 403.8h1.56M64.76 411.8h1.56M103.68 411.8h1.56M144.16 411.8h1.56M164.43 363.8h1.54M181.35 363.8h1.54M190.58 363.8h1.54M155.2 371.8h1.54M173.66 371.8h1.54M189.04 371.8h1.54M192.12 371.8h1.54M205.96 371.8h1.54M164.43 379.8h1.54M170.58 379.8h1.54M176.74 379.8h1.54M184.43 379.8h1.54M202.89 379.8h1.54M169.04 387.8h1.54M176.74 387.8h1.54M181.35 387.8h3.08M185.96 387.8h3.08M205.96 387.8h1.54M159.81 395.8h1.54M175.2 395.8h1.54M187.5 395.8h1.54M190.58 395.8h1.54M204.42 395.8h1.54M159.81 403.8h3.08M165.97 403.8h3.08M173.66 403.8h4.61M179.81 403.8h1.54M190.58 403.8h1.54M193.66 403.8h1.54M199.81 403.8h3.08M205.96 403.8h1.54M185.96 411.8h1.54M220.05 363.8h1.55M216.95 371.8h1.55M240.2 371.8h1.55M220.05 379.8h1.55M230.9 379.8h3.1M235.55 379.8h1.55M243.3 379.8h1.55M257.25 379.8h3.1M263.45 379.8h1.55M209.2 387.8h1.55M215.4 387.8h1.55M218.5 387.8h4.65M229.35 387.8h7.75M244.85 387.8h1.55M247.95 387.8h1.55M254.15 387.8h1.55M258.8 387.8h1.55M266.55 387.8h1.55M209.2 395.8h1.55M229.35 395.8h1.55M241.75 395.8h1.55M212.3 403.8h1.55M215.4 403.8h3.1M221.6 403.8h1.55M224.7 403.8h1.55M227.8 403.8h3.1M237.1 403.8h4.65M243.3 403.8h4.65M257.25 403.8h3.1M261.9 403.8h1.55M265 403.8h1.55M220.05 411.8h1.55M261.9 411.8h1.55"/>
<path stroke="#f95b41" d="M27.4 21h1.56M103.68 21h1.56M41.41 61h1.56M167.51 61h1.54M108.35 86.7h1.56M201.35 110.7h1.54M156.74 144.4h1.54M158.28 184.4h1.54M173.66 184.4h1.54M161.35 216.4h1.54M156.74 256.4h1.54M199.81 272.4h1.54M223.15 144.4h1.55M254.15 144.4h1.55M220.05 152.4h1.55M247.95 176.4h1.55M223.15 192.4h1.55M223.15 256.4h1.55M44.52 282.1h1.56M103.68 290.1h1.56M100.57 306.1h1.56M130.15 322.1h1.56M133.26 322.1h1.56M53.86 330.1h3.11M80.33 330.1h1.56M134.82 330.1h1.56M41.41 338.1h1.56M44.52 338.1h1.56M44.52 346.1h1.56M56.98 346.1h1.56M100.57 346.1h1.56M235.55 290.1h1.55M210.75 322.1h1.55M234 322.1h1.55M235.55 346.1h1.55M238.65 354.1h1.55M125.48 363.8h1.56"/>
<path stroke="#dcc9f9" d="M30.51 21h1.56M35.18 21h1.56M49.19 21h1.56M53.86 21h4.67M64.76 21h3.11M74.1 21h1.56M97.45 21h1.56M100.57 21h3.11M114.58 21h1.56M117.69 21h1.56M120.81 21h1.56M131.7 21h1.56M141.05 21h1.56M145.72 21h1.56M19.61 29h1.56M28.95 29h3.11M47.64 29h1.56M61.65 29h1.56M66.32 29h1.56M70.99 29h1.56M78.77 29h1.56M85 29h3.11M89.67 29h1.56M106.8 29h4.67M122.36 29h1.56M128.59 29h1.56M133.26 29h1.56M30.51 37h3.11M35.18 37h1.56M49.19 37h1.56M61.65 37h1.56M67.88 37h1.56M72.55 37h1.56M77.22 37h1.56M81.89 37h1.56M111.47 37h1.56M122.36 37h1.56M141.05 37h1.56M147.27 37h1.56M18.06 45h1.56M21.17 45h1.56M35.18 45h1.56M46.08 45h1.56M49.19 45h3.11M58.53 45h1.56M70.99 45h1.56M74.1 45h1.56M81.89 45h1.56M85 45h1.56M100.57 45h1.56M133.26 45h3.11M139.49 45h3.11M147.27 45h1.56M21.17 53h1.56M33.62 53h1.56M38.3 53h1.56M50.75 53h1.56M56.98 53h1.56M61.65 53h1.56M64.76 53h3.11M86.56 53h1.56M91.23 53h1.56M97.45 53h1.56M103.68 53h1.56M131.7 53h3.11M139.49 53h1.56M145.72 53h1.56M19.61 61h1.56M22.73 61h1.56M42.97 61h1.56M75.66 61h6.23M85 61h1.56M88.11 61h1.56M95.9 61h1.56M108.35 61h3.11M117.69 61h1.56M122.36 61h1.56M128.59 61h1.56M133.26 61h3.11M22.73 69h1.56M33.62 69h1.56M47.64 69h1.56M50.75 69h1.56M56.98 69h3.11M70.99 69h1.56M75.66 69h1.56M80.33 69h1.56M89.67 69h1.56M95.9 69h1.56M100.57 69h1.56M119.25 69h1.56M127.03 69h1.56M131.7 69h1.56M136.38 69h3.11M142.6 69h1.56M155.2 21h4.61M165.97 21h1.54M170.58 21h4.61M179.81 21h1.54M182.89 21h7.69M192.12 21h15.38M155.2 29h3.08M161.35 29h9.23M173.66 29h4.61M179.81 29h4.61M185.96 29h3.08M190.58 29h15.38M155.2 37h1.54M159.81 37h1.54M169.04 37h1.54M172.12 37h3.08M176.74 37h1.54M179.81 37h3.08M189.04 37h1.54M193.66 37h3.08M198.27 37h1.54M155.2 45h13.84M170.58 45h7.69M181.35 45h26.15M155.2 53h1.54M158.28 53h3.08M164.43 53h4.61M170.58 53h3.08M178.27 53h1.54M181.35 53h1.54M184.43 53h10.77M196.73 53h3.08M201.35 53h1.54M204.42 53h3.08M155.2 61h3.08M159.81 61h7.69M169.04 61h4.61M175.2 61h1.54M179.81 61h1.54M184.43 61h1.54M187.5 61h3.08M192.12 61h4.61M198.27 61h6.15M205.96 61h1.54M156.74 69h4.61M162.89 69h1.54M167.51 69h1.54M172.12 69h4.61M195.19 69h3.08M199.81 69h1.54M202.89 69h3.08M209.2 21h1.55M213.85 21h1.55M220.05 21h4.65M226.25 21h1.55M229.35 21h15.5M246.4 21h6.2M255.7 21h3.1M260.35 21h3.1M268.1 21h3.1M209.2 29h4.65M215.4 29h9.3M226.25 29h4.65M232.45 29h24.8M258.8 29h10.85M209.2 37h3.1M215.4 37h3.1M223.15 37h1.55M226.25 37h1.55M238.65 37h1.55M243.3 37h1.55M246.4 37h1.55M249.5 37h1.55M255.7 37h1.55M260.35 37h1.55M265 37h1.55M269.65 37h1.55M209.2 45h18.6M229.35 45h12.4M243.3 45h4.65M249.5 45h10.85M261.9 45h7.75M215.4 53h4.65M223.15 53h6.2M230.9 53h1.55M234 53h6.2M243.3 53h6.2M251.05 53h1.55M254.15 53h3.1M258.8 53h9.3M209.2 61h7.75M218.5 61h9.3M229.35 61h3.1M234 61h12.4M247.95 61h9.3M258.8 61h9.3M269.65 61h1.55M209.2 69h3.1M216.95 69h1.55M223.15 69h1.55M230.9 69h1.55M235.55 69h3.1M240.2 69h3.1M247.95 69h3.1M252.6 69h3.1M258.8 69h1.55M32.07 78.7h1.56M35.18 78.7h1.56M38.3 78.7h1.56M47.64 78.7h1.56M52.31 78.7h1.56M58.53 78.7h4.67M67.88 78.7h1.56M74.1 78.7h1.56M80.33 78.7h1.56M89.67 78.7h1.56M95.9 78.7h1.56M100.57 78.7h3.11M113.02 78.7h1.56M133.26 78.7h1.56M136.38 78.7h1.56M67.88 86.7h1.56M70.99 86.7h1.56M74.1 86.7h1.56M113.02 86.7h1.56M117.69 86.7h1.56M123.92 86.7h1.56M127.03 86.7h1.56M130.15 86.7h1.56M133.26 86.7h1.56M142.6 86.7h1.56M19.61 94.7h1.56M24.28 94.7h1.56M28.95 94.7h1.56M36.74 94.7h1.56M42.97 94.7h4.67M49.19 94.7h1.56M66.32 94.7h1.56M78.77 94.7h1.56M95.9 94.7h1.56M99.01 94.7h4.67M111.47 94.7h1.56M114.58 94.7h3.11M128.59 94.7h1.56M133.26 94.7h1.56M151.94 94.7h1.56M53.86 102.7h1.56M66.32 102.7h1.56M69.43 102.7h1.56M74.1 102.7h1.56M85 102.7h1.56M89.67 102.7h1.56M103.68 102.7h1.56M128.59 102.7h1.56M131.7 102.7h1.56M144.16 102.7h1.56M150.39 102.7h3.11M30.51 110.7h1.56M72.55 110.7h1.56M83.44 110.7h1.56M92.78 110.7h1.56M95.9 110.7h1.56M108.35 110.7h1.56M111.47 110.7h1.56M131.7 110.7h1.56M134.82 110.7h1.56M16.5 118.7h1.56M21.17 118.7h1.56M25.84 118.7h6.23M35.18 118.7h1.56M49.19 118.7h1.56M53.86 118.7h3.11M61.65 118.7h1.56M70.99 118.7h3.11M78.77 118.7h1.56M83.44 118.7h1.56M86.56 118.7h1.56M95.9 118.7h1.56M100.57 118.7h1.56M103.68 118.7h1.56M111.47 118.7h1.56M114.58 118.7h1.56M117.69 118.7h4.67M123.92 118.7h3.11M128.59 118.7h1.56M139.49 118.7h4.67M148.83 118.7h1.56M50.75 126.7h1.56M56.98 126.7h1.56M63.2 126.7h1.56M66.32 126.7h1.56M69.43 126.7h1.56M72.55 126.7h1.56M80.33 126.7h1.56M83.44 126.7h3.11M95.9 126.7h4.67M111.47 126.7h1.56M114.58 126.7h1.56M117.69 126.7h1.56M125.48 126.7h1.56M130.15 126.7h3.11M141.05 126.7h1.56M144.16 126.7h3.11M205.96 102.7h1.54M187.5 110.7h1.54M205.96 110.7h1.54M158.28 118.7h1.54M164.43 126.7h1.54M182.89 126.7h1.54M190.58 126.7h1.54M204.42 126.7h1.54M209.2 78.7h1.55M220.05 78.7h1.55M209.2 86.7h1.55M230.9 86.7h1.55M235.55 86.7h1.55M240.2 86.7h1.55M254.15 86.7h1.55M268.1 86.7h1.55M268.1 94.7h1.55M216.95 102.7h1.55M223.15 102.7h1.55M210.75 110.7h1.55M215.4 110.7h1.55M232.45 110.7h3.1M240.2 110.7h1.55M254.15 110.7h1.55M268.1 110.7h1.55M215.4 126.7h1.55M53.86 136.4h1.56M58.53 136.4h1.56M67.88 136.4h1.56M78.77 136.4h1.56M95.9 136.4h1.56M99.01 136.4h1.56M103.68 136.4h1.56M106.8 136.4h1.56M109.91 136.4h1.56M122.36 136.4h1.56M128.59 136.4h3.11M148.83 136.4h4.67M19.61 144.4h1.56M25.84 144.4h1.56M38.3 144.4h1.56M46.08 144.4h1.56M52.31 144.4h1.56M75.66 144.4h1.56M91.23 144.4h1.56M95.9 144.4h1.56M105.24 144.4h1.56M108.35 144.4h3.11M113.02 144.4h1.56M145.72 144.4h1.56M148.83 144.4h1.56M19.61 152.4h1.56M30.51 152.4h1.56M38.3 152.4h1.56M41.41 152.4h1.56M44.52 152.4h1.56M55.42 152.4h1.56M61.65 152.4h1.56M66.32 152.4h1.56M74.1 152.4h1.56M86.56 152.4h1.56M94.34 152.4h4.67M100.57 152.4h1.56M103.68 152.4h1.56M113.02 152.4h1.56M116.14 152.4h1.56M122.36 152.4h1.56M136.38 152.4h1.56M139.49 152.4h1.56M142.6 152.4h1.56M22.73 160.4h1.56M27.4 160.4h1.56M30.51 160.4h1.56M33.62 160.4h1.56M38.3 160.4h1.56M47.64 160.4h1.56M50.75 160.4h1.56M55.42 160.4h1.56M74.1 160.4h1.56M77.22 160.4h3.11M85 160.4h1.56M92.78 160.4h1.56M95.9 160.4h1.56M100.57 160.4h1.56M123.92 160.4h1.56M127.03 160.4h1.56M136.38 160.4h1.56M141.05 160.4h1.56M22.73 168.4h1.56M25.84 168.4h1.56M42.97 168.4h1.56M67.88 168.4h3.11M75.66 168.4h1.56M81.89 168.4h1.56M89.67 168.4h1.56M117.69 168.4h1.56M128.59 168.4h1.56M133.26 168.4h1.56M136.38 168.4h1.56M150.39 168.4h1.56M32.07 176.4h1.56M46.08 176.4h1.56M53.86 176.4h1.56M77.22 176.4h1.56M105.24 176.4h1.56M119.25 176.4h1.56M123.92 176.4h3.11M136.38 176.4h1.56M147.27 176.4h1.56M151.94 176.4h1.56M25.84 184.4h1.56M30.51 184.4h1.56M39.85 184.4h1.56M53.86 184.4h1.56M63.2 184.4h1.56M67.88 184.4h1.56M88.11 184.4h1.56M109.91 184.4h1.56M114.58 184.4h1.56M119.25 184.4h1.56M32.07 192.4h1.56M41.41 192.4h1.56M56.98 192.4h1.56M102.12 192.4h1.56M106.8 192.4h1.56M113.02 192.4h1.56M139.49 192.4h1.56M142.6 192.4h1.56M32.07 200.4h3.11M44.52 200.4h1.56M56.98 200.4h1.56M60.09 200.4h1.56M63.2 200.4h1.56M86.56 200.4h1.56M106.8 200.4h1.56M134.82 200.4h1.56M142.6 200.4h3.11M16.5 208.4h1.56M42.97 208.4h1.56M47.64 208.4h1.56M61.65 208.4h1.56M69.43 208.4h1.56M72.55 208.4h1.56M77.22 208.4h3.11M83.44 208.4h3.11M95.9 208.4h1.56M105.24 208.4h1.56M109.91 208.4h1.56M117.69 208.4h1.56M122.36 208.4h3.11M131.7 208.4h3.11M145.72 208.4h1.56M150.39 208.4h1.56M30.51 216.4h1.56M49.19 216.4h1.56M72.55 216.4h3.11M78.77 216.4h1.56M92.78 216.4h1.56M102.12 216.4h1.56M111.47 216.4h1.56M119.25 216.4h1.56M142.6 216.4h1.56M28.95 224.4h1.56M47.64 224.4h1.56M56.98 224.4h1.56M60.09 224.4h1.56M63.2 224.4h1.56M69.43 224.4h1.56M72.55 224.4h1.56M77.22 224.4h1.56M92.78 224.4h1.56M130.15 224.4h1.56M133.26 224.4h1.56M21.17 232.4h3.11M27.4 232.4h1.56M49.19 232.4h1.56M52.31 232.4h1.56M56.98 232.4h1.56M61.65 232.4h1.56M67.88 232.4h1.56M86.56 232.4h1.56M109.91 232.4h1.56M120.81 232.4h1.56M130.15 232.4h1.56M136.38 232.4h3.11M141.05 232.4h3.11M145.72 232.4h1.56M148.83 232.4h1.56M22.73 240.4h1.56M28.95 240.4h1.56M72.55 240.4h1.56M78.77 240.4h1.56M91.23 240.4h1.56M102.12 240.4h1.56M120.81 240.4h1.56M19.61 248.4h1.56M27.4 248.4h1.56M44.52 248.4h1.56M52.31 248.4h1.56M58.53 248.4h1.56M64.76 248.4h1.56M69.43 248.4h1.56M72.55 248.4h1.56M80.33 248.4h1.56M86.56 248.4h1.56M89.67 248.4h1.56M106.8 248.4h1.56M123.92 248.4h1.56M139.49 248.4h3.11M147.27 248.4h1.56M18.06 256.4h1.56M27.4 256.4h1.56M50.75 256.4h1.56M63.2 256.4h1.56M69.43 256.4h3.11M80.33 256.4h1.56M91.23 256.4h3.11M105.24 256.4h1.56M111.47 256.4h1.56M127.03 256.4h1.56M145.72 256.4h1.56M18.06 264.4h1.56M21.17 264.4h1.56M33.62 264.4h1.56M38.3 264.4h1.56M46.08 264.4h1.56M50.75 264.4h1.56M53.86 264.4h3.11M61.65 264.4h1.56M64.76 264.4h1.56M88.11 264.4h3.11M97.45 264.4h1.56M100.57 264.4h3.11M111.47 264.4h1.56M116.14 264.4h1.56M122.36 264.4h3.11M133.26 264.4h3.11M139.49 264.4h1.56M148.83 264.4h1.56M22.73 272.4h3.11M32.07 272.4h1.56M42.97 272.4h1.56M49.19 272.4h1.56M55.42 272.4h1.56M74.1 272.4h4.67M81.89 272.4h1.56M94.34 272.4h1.56M97.45 272.4h1.56M100.57 272.4h1.56M103.68 272.4h1.56M111.47 272.4h1.56M119.25 272.4h1.56M139.49 272.4h3.11M155.2 136.4h1.54M167.51 136.4h1.54M175.2 136.4h1.54M184.43 136.4h1.54M187.5 136.4h4.61M196.73 136.4h3.08M202.89 136.4h1.54M158.28 144.4h1.54M173.66 144.4h4.61M185.96 144.4h1.54M189.04 144.4h1.54M193.66 144.4h1.54M158.28 152.4h1.54M175.2 152.4h1.54M179.81 152.4h6.15M196.73 152.4h1.54M156.74 160.4h1.54M179.81 160.4h1.54M192.12 160.4h1.54M202.89 160.4h1.54M155.2 168.4h1.54M159.81 168.4h1.54M187.5 168.4h1.54M198.27 168.4h1.54M202.89 168.4h1.54M205.96 168.4h1.54M172.12 176.4h1.54M187.5 176.4h1.54M195.19 176.4h1.54M198.27 176.4h1.54M201.35 176.4h1.54M204.42 176.4h1.54M165.97 184.4h3.08M170.58 184.4h1.54M176.74 184.4h1.54M179.81 184.4h4.61M192.12 184.4h1.54M202.89 184.4h1.54M161.35 192.4h1.54M164.43 192.4h1.54M167.51 192.4h1.54M190.58 192.4h3.08M202.89 192.4h1.54M155.2 200.4h1.54M159.81 200.4h1.54M162.89 200.4h1.54M167.51 200.4h1.54M170.58 200.4h1.54M176.74 200.4h1.54M181.35 200.4h1.54M193.66 200.4h3.08M205.96 200.4h1.54M155.2 208.4h1.54M172.12 208.4h3.08M184.43 208.4h1.54M201.35 208.4h1.54M156.74 216.4h1.54M162.89 216.4h1.54M169.04 216.4h1.54M185.96 216.4h1.54M193.66 216.4h1.54M205.96 216.4h1.54M169.04 224.4h1.54M181.35 224.4h1.54M189.04 224.4h1.54M198.27 224.4h1.54M170.58 232.4h1.54M179.81 232.4h1.54M189.04 232.4h1.54M192.12 232.4h1.54M202.89 232.4h3.08M161.35 240.4h3.08M167.51 240.4h1.54M172.12 240.4h1.54M178.27 240.4h1.54M205.96 240.4h1.54M161.35 248.4h1.54M164.43 248.4h1.54M175.2 248.4h1.54M182.89 248.4h1.54M199.81 248.4h1.54M202.89 248.4h1.54M195.19 256.4h1.54M201.35 256.4h1.54M156.74 264.4h3.08M165.97 264.4h1.54M181.35 264.4h1.54M192.12 264.4h4.61M202.89 264.4h1.54M159.81 272.4h1.54M178.27 272.4h1.54M185.96 272.4h1.54M202.89 272.4h1.54M218.5 136.4h1.55M258.8 136.4h1.55M210.75 144.4h1.55M221.6 144.4h1.55M234 144.4h1.55M243.3 144.4h1.55M246.4 144.4h1.55M226.25 152.4h1.55M235.55 152.4h1.55M218.5 160.4h1.55M252.6 176.4h1.55M260.35 176.4h1.55M227.8 184.4h3.1M235.55 184.4h1.55M252.6 184.4h1.55M263.45 184.4h1.55M269.65 184.4h1.55M212.3 192.4h1.55M268.1 192.4h1.55M229.35 200.4h1.55M232.45 200.4h1.55M244.85 200.4h3.1M257.25 200.4h1.55M209.2 208.4h1.55M235.55 208.4h1.55M246.4 208.4h1.55M257.25 208.4h1.55M263.45 208.4h1.55M216.95 216.4h1.55M223.15 216.4h1.55M249.5 216.4h1.55M227.8 224.4h3.1M238.65 224.4h1.55M244.85 224.4h1.55M218.5 232.4h1.55M224.7 232.4h1.55M235.55 232.4h1.55M252.6 240.4h1.55M212.3 248.4h1.55M221.6 248.4h1.55M230.9 248.4h1.55M243.3 248.4h1.55M266.55 248.4h1.55M234 256.4h1.55M238.65 256.4h1.55M252.6 256.4h1.55M260.35 256.4h1.55M238.65 264.4h1.55M210.75 272.4h1.55M227.8 272.4h1.55M255.7 272.4h1.55M86.56 282.1h3.11M127.03 282.1h1.56M147.27 282.1h1.56M46.08 298.1h1.56M63.2 298.1h1.56M69.43 298.1h1.56M74.1 298.1h1.56M91.23 298.1h3.11M125.48 298.1h1.56M128.59 298.1h1.56M131.7 298.1h3.11M94.34 314.1h1.56M18.06 322.1h3.11M28.95 322.1h1.56M41.41 322.1h1.56M53.86 322.1h1.56M69.43 322.1h1.56M74.1 322.1h3.11M89.67 322.1h3.11M94.34 322.1h1.56M102.12 322.1h3.11M109.91 322.1h1.56M122.36 322.1h1.56M125.48 322.1h4.67M141.05 322.1h1.56M144.16 322.1h1.56M147.27 322.1h1.56M16.5 330.1h1.56M21.17 330.1h3.11M27.4 330.1h1.56M30.51 330.1h3.11M38.3 330.1h3.11M44.52 330.1h1.56M58.53 330.1h9.34M72.55 330.1h1.56M81.89 330.1h6.23M89.67 330.1h1.56M94.34 330.1h1.56M97.45 330.1h1.56M102.12 330.1h1.56M105.24 330.1h1.56M113.02 330.1h4.67M119.25 330.1h9.34M130.15 330.1h1.56M133.26 330.1h1.56M139.49 330.1h1.56M145.72 330.1h6.23M83.44 346.1h1.56M95.9 346.1h1.56M201.35 282.1h1.54M201.35 290.1h1.54M159.81 298.1h1.54M165.97 298.1h1.54M169.04 298.1h1.54M184.43 298.1h1.54M192.12 298.1h3.08M196.73 298.1h1.54M190.58 314.1h1.54M162.89 322.1h1.54M165.97 322.1h1.54M170.58 322.1h1.54M173.66 322.1h3.08M178.27 322.1h1.54M187.5 322.1h1.54M192.12 322.1h1.54M196.73 322.1h3.08M201.35 322.1h3.08M205.96 322.1h1.54M155.2 330.1h1.54M158.28 330.1h1.54M162.89 330.1h3.08M167.51 330.1h6.15M175.2 330.1h1.54M179.81 330.1h1.54M182.89 330.1h1.54M189.04 330.1h4.61M195.19 330.1h4.61M202.89 330.1h3.08M227.8 282.1h1.55M257.25 282.1h1.55M265 282.1h1.55M213.85 298.1h1.55M223.15 298.1h1.55M232.45 298.1h1.55M237.1 298.1h1.55M249.5 298.1h1.55M212.3 314.1h1.55M213.85 322.1h1.55M218.5 322.1h4.65M226.25 322.1h1.55M229.35 322.1h1.55M235.55 322.1h1.55M238.65 322.1h1.55M252.6 322.1h3.1M260.35 322.1h1.55M266.55 322.1h1.55M212.3 330.1h3.1M216.95 330.1h1.55M221.6 330.1h1.55M229.35 330.1h1.55M234 330.1h3.1M241.75 330.1h1.55M246.4 330.1h3.1M254.15 330.1h3.1M263.45 330.1h1.55M266.55 330.1h1.55M16.5 363.8h1.56M42.97 363.8h1.56M97.45 363.8h1.56M145.72 371.8h1.56M33.62 379.8h1.56M38.3 379.8h1.56M53.86 379.8h1.56M60.09 379.8h1.56M74.1 379.8h1.56M77.22 379.8h1.56M94.34 379.8h1.56M122.36 379.8h1.56M139.49 379.8h3.11M30.51 387.8h3.11M46.08 387.8h3.11M58.53 387.8h1.56M78.77 387.8h1.56M89.67 387.8h1.56M92.78 387.8h3.11M99.01 387.8h1.56M116.14 387.8h1.56M119.25 387.8h1.56M125.48 387.8h1.56M131.7 387.8h3.11M50.75 395.8h3.11M61.65 395.8h1.56M113.02 395.8h1.56M21.17 403.8h1.56M27.4 403.8h1.56M41.41 403.8h1.56M52.31 403.8h3.11M63.2 403.8h1.56M67.88 403.8h1.56M72.55 403.8h1.56M75.66 403.8h1.56M81.89 403.8h1.56M91.23 403.8h1.56M94.34 403.8h1.56M97.45 403.8h1.56M141.05 403.8h1.56M150.39 403.8h1.56M158.28 363.8h1.54M189.04 363.8h1.54M159.81 371.8h1.54M162.89 371.8h1.54M176.74 371.8h1.54M179.81 371.8h1.54M199.81 371.8h1.54M167.51 379.8h3.08M173.66 379.8h1.54M179.81 379.8h1.54M189.04 379.8h1.54M192.12 379.8h1.54M199.81 379.8h3.08M159.81 387.8h1.54M164.43 387.8h1.54M167.51 387.8h1.54M175.2 387.8h1.54M195.19 387.8h4.61M201.35 387.8h1.54M204.42 387.8h1.54M172.12 395.8h1.54M155.2 403.8h3.08M164.43 403.8h1.54M169.04 403.8h3.08M178.27 403.8h1.54M182.89 403.8h4.61M189.04 403.8h1.54M198.27 403.8h1.54M155.2 411.8h1.54M178.27 411.8h1.54M229.35 363.8h1.55M251.05 363.8h1.55M263.45 371.8h1.55M210.75 379.8h1.55M221.6 379.8h1.55M229.35 379.8h1.55M234 379.8h1.55M247.95 379.8h3.1M252.6 379.8h1.55M255.7 379.8h1.55M213.85 387.8h1.55M216.95 387.8h1.55M227.8 387.8h1.55M237.1 387.8h1.55M241.75 387.8h3.1M246.4 387.8h1.55M255.7 387.8h3.1M261.9 387.8h3.1M254.15 395.8h1.55M218.5 403.8h3.1M226.25 403.8h1.55M230.9 403.8h3.1M235.55 403.8h1.55M247.95 403.8h1.55M251.05 403.8h6.2M263.45 403.8h1.55M266.55 403.8h1.55M244.85 411.8h1.55"/>
<path stroke="#f9c8b8" d="M39.85 21h1.56M46.08 21h1.56M50.75 21h1.56M80.33 21h1.56M89.67 21h1.56M92.78 21h1.56M111.47 21h1.56M136.38 21h1.56M147.27 21h1.56M60.09 29h1.56M111.47 29h1.56M18.06 37h1.56M46.08 37h1.56M74.1 37h1.56M94.34 37h1.56M105.24 37h1.56M148.83 37h1.56M24.28 45h1.56M36.74 45h1.56M75.66 45h1.56M103.68 45h1.56M47.64 53h1.56M52.31 53h1.56M77.22 53h1.56M92.78 53h1.56M100.57 53h1.56M108.35 53h3.11M122.36 53h1.56M28.95 61h1.56M70.99 61h1.56M83.44 61h1.56M100.57 61h1.56M111.47 61h1.56M24.28 69h1.56M105.24 69h1.56M111.47 69h1.56M114.58 69h1.56M145.72 69h1.56M162.89 78.7h1.54M182.89 78.7h1.54M189.04 78.7h1.54M176.74 86.7h1.54M187.5 86.7h1.54M192.12 86.7h1.54M164.43 94.7h1.54M172.12 94.7h1.54M187.5 94.7h1.54M202.89 102.7h1.54M156.74 110.7h1.54M178.27 118.7h1.54M196.73 118.7h1.54M247.95 86.7h1.55M224.7 126.7h1.55M243.3 126.7h1.55M249.5 126.7h1.55M25.84 136.4h1.56M30.51 136.4h1.56M50.75 136.4h1.56M56.98 136.4h1.56M63.2 136.4h1.56M70.99 136.4h3.11M114.58 136.4h1.56M131.7 136.4h1.56M63.2 144.4h3.11M67.88 144.4h1.56M70.99 144.4h1.56M89.67 144.4h1.56M117.69 144.4h1.56M125.48 144.4h1.56M144.16 144.4h1.56M78.77 152.4h1.56M117.69 152.4h3.11M130.15 152.4h1.56M28.95 160.4h1.56M35.18 160.4h1.56M52.31 160.4h1.56M64.76 160.4h1.56M128.59 160.4h1.56M44.52 168.4h1.56M56.98 168.4h1.56M94.34 168.4h1.56M97.45 168.4h3.11M105.24 168.4h1.56M137.93 168.4h1.56M33.62 176.4h1.56M61.65 176.4h1.56M70.99 176.4h1.56M75.66 176.4h1.56M92.78 176.4h1.56M127.03 176.4h3.11M141.05 176.4h1.56M24.28 184.4h1.56M47.64 184.4h1.56M66.32 184.4h1.56M95.9 184.4h1.56M128.59 184.4h3.11M30.51 192.4h1.56M74.1 192.4h1.56M83.44 192.4h1.56M116.14 192.4h1.56M134.82 192.4h1.56M141.05 192.4h1.56M35.18 200.4h1.56M42.97 200.4h1.56M46.08 200.4h1.56M102.12 200.4h1.56M120.81 200.4h1.56M32.07 208.4h1.56M58.53 208.4h1.56M86.56 208.4h1.56M25.84 216.4h1.56M70.99 216.4h1.56M95.9 216.4h1.56M125.48 216.4h1.56M136.38 216.4h1.56M44.52 224.4h1.56M100.57 224.4h1.56M103.68 224.4h1.56M151.94 224.4h1.56M30.51 232.4h1.56M55.42 232.4h1.56M77.22 240.4h1.56M80.33 240.4h1.56M100.57 240.4h1.56M109.91 240.4h1.56M55.42 248.4h1.56M66.32 248.4h1.56M94.34 248.4h1.56M105.24 248.4h1.56M114.58 248.4h1.56M142.6 248.4h1.56M25.84 256.4h1.56M83.44 256.4h1.56M24.28 264.4h1.56M47.64 264.4h1.56M109.91 264.4h1.56M136.38 264.4h1.56M144.16 264.4h1.56M28.95 272.4h1.56M63.2 272.4h1.56M67.88 272.4h1.56M92.78 272.4h1.56M162.89 136.4h1.54M155.2 144.4h1.54M172.12 152.4h1.54M172.12 160.4h1.54M172.12 168.4h1.54M189.04 208.4h1.54M204.42 208.4h1.54M167.51 216.4h1.54M181.35 216.4h1.54M165.97 232.4h1.54M196.73 232.4h1.54M187.5 240.4h1.54M156.74 248.4h1.54M159.81 264.4h1.54M224.7 144.4h1.55M230.9 144.4h1.55M235.55 144.4h1.55M258.8 144.4h1.55M261.9 144.4h1.55M212.3 152.4h1.55M221.6 152.4h1.55M247.95 152.4h1.55M261.9 152.4h1.55M269.65 152.4h1.55M210.75 160.4h1.55M216.95 160.4h1.55M257.25 160.4h1.55M268.1 160.4h1.55M229.35 168.4h1.55M232.45 168.4h1.55M255.7 168.4h1.55M238.65 176.4h1.55M246.4 176.4h1.55M251.05 176.4h1.55M258.8 176.4h1.55M209.2 184.4h1.55M212.3 184.4h1.55M220.05 184.4h3.1M240.2 184.4h1.55M246.4 184.4h1.55M265 184.4h1.55M268.1 184.4h1.55M216.95 192.4h1.55M221.6 192.4h1.55M227.8 192.4h1.55M234 192.4h1.55M247.95 192.4h1.55M210.75 200.4h1.55M234 200.4h1.55M237.1 200.4h3.1M252.6 200.4h1.55M263.45 200.4h1.55M213.85 208.4h3.1M226.25 208.4h1.55M218.5 216.4h1.55M226.25 216.4h1.55M237.1 216.4h1.55M265 216.4h1.55M269.65 216.4h1.55M243.3 224.4h1.55M255.7 224.4h1.55M258.8 224.4h1.55M238.65 232.4h1.55M254.15 232.4h1.55M266.55 232.4h1.55M269.65 232.4h1.55M213.85 240.4h1.55M229.35 240.4h1.55M249.5 240.4h1.55M216.95 248.4h1.55M212.3 256.4h1.55M215.4 256.4h1.55M224.7 256.4h1.55M230.9 256.4h1.55M249.5 256.4h1.55M258.8 256.4h1.55M210.75 264.4h1.55M230.9 264.4h3.1M244.85 264.4h1.55M251.05 264.4h1.55M215.4 272.4h1.55M221.6 272.4h3.1M234 272.4h1.55M241.75 272.4h1.55M32.07 306.1h1.56M56.98 314.1h1.56M134.82 314.1h1.56M58.53 322.1h1.56M83.44 322.1h1.56M67.88 330.1h1.56M25.84 346.1h1.56M41.41 346.1h1.56M122.36 346.1h1.56M137.93 346.1h1.56M21.17 363.8h1.56M30.51 363.8h1.56M61.65 363.8h1.56M18.06 371.8h1.56M55.42 371.8h1.56M64.76 371.8h1.56M80.33 371.8h1.56M83.44 371.8h1.56M88.11 371.8h1.56M94.34 371.8h1.56M114.58 371.8h1.56M122.36 371.8h1.56M130.15 371.8h1.56M139.49 371.8h3.11M19.61 395.8h1.56M27.4 395.8h1.56M30.51 395.8h3.11M55.42 395.8h1.56M85 395.8h1.56M97.45 395.8h1.56M127.03 395.8h1.56M137.93 395.8h1.56M148.83 395.8h1.56M25.84 411.8h1.56M30.51 411.8h1.56M56.98 411.8h1.56M114.58 411.8h1.56M127.03 411.8h1.56M133.26 411.8h1.56M141.05 411.8h1.56M167.51 363.8h1.54M161.35 371.8h1.54M215.4 363.8h1.55M226.25 363.8h1.55M249.5 363.8h1.55M268.1 363.8h1.55M220.05 371.8h1.55M254.15 371.8h1.55M243.3 395.8h1.55M249.5 395.8h1.55M261.9 395.8h1.55"/>
<path stroke="#f9d2c5" d="M41.41 21h1.56M44.52 21h1.56M125.48 21h1.56M83.44 29h1.56M139.49 29h1.56M142.6 29h1.56M52.31 37h3.11M63.2 37h1.56M66.32 37h1.56M91.23 37h1.56M97.45 37h1.56M120.81 37h1.56M52.31 45h1.56M72.55 45h1.56M114.58 45h1.56M72.55 53h1.56M75.66 53h1.56M85 53h1.56M130.15 53h1.56M137.93 53h1.56M61.65 61h1.56M69.43 61h1.56M89.67 61h1.56M113.02 61h1.56M120.81 61h1.56M131.7 61h1.56M136.38 61h1.56M147.27 61h1.56M74.1 69h1.56M128.59 69h1.56M144.16 69h1.56M178.27 78.7h1.54M155.2 86.7h1.54M165.97 86.7h1.54M181.35 86.7h1.54M205.96 86.7h1.54M190.58 94.7h1.54M184.43 110.7h1.54M156.74 118.7h1.54M173.66 118.7h1.54M176.74 118.7h1.54M156.74 126.7h1.54M162.89 126.7h1.54M178.27 126.7h1.54M189.04 126.7h1.54M241.75 126.7h1.55M251.05 126.7h1.55M257.25 126.7h1.55M16.5 136.4h1.56M35.18 136.4h1.56M41.41 136.4h1.56M81.89 136.4h1.56M94.34 136.4h1.56M105.24 136.4h1.56M139.49 136.4h3.11M49.19 144.4h1.56M94.34 144.4h1.56M114.58 144.4h3.11M21.17 152.4h1.56M105.24 152.4h1.56M141.05 152.4h1.56M144.16 152.4h3.11M148.83 152.4h1.56M86.56 160.4h1.56M18.06 168.4h3.11M46.08 168.4h1.56M55.42 168.4h1.56M66.32 168.4h1.56M16.5 176.4h1.56M38.3 176.4h1.56M64.76 176.4h1.56M78.77 176.4h1.56M109.91 176.4h1.56M131.7 176.4h1.56M139.49 176.4h1.56M32.07 184.4h4.67M80.33 184.4h1.56M83.44 184.4h1.56M99.01 184.4h1.56M108.35 184.4h1.56M77.22 192.4h1.56M99.01 192.4h1.56M111.47 192.4h1.56M150.39 192.4h1.56M21.17 200.4h1.56M25.84 200.4h1.56M64.76 200.4h1.56M95.9 200.4h1.56M109.91 200.4h1.56M125.48 200.4h1.56M27.4 208.4h1.56M92.78 208.4h1.56M22.73 216.4h1.56M27.4 216.4h1.56M50.75 216.4h1.56M63.2 216.4h1.56M123.92 216.4h1.56M128.59 216.4h1.56M133.26 216.4h1.56M36.74 224.4h1.56M97.45 224.4h1.56M102.12 224.4h1.56M114.58 224.4h1.56M47.64 232.4h1.56M74.1 232.4h1.56M97.45 232.4h1.56M122.36 232.4h1.56M133.26 232.4h1.56M47.64 240.4h1.56M55.42 240.4h1.56M74.1 240.4h1.56M133.26 240.4h1.56M142.6 240.4h1.56M21.17 248.4h1.56M35.18 248.4h1.56M102.12 248.4h1.56M119.25 248.4h1.56M22.73 256.4h1.56M85 256.4h1.56M113.02 256.4h1.56M28.95 264.4h1.56M60.09 264.4h1.56M99.01 264.4h1.56M106.8 264.4h3.11M117.69 264.4h1.56M25.84 272.4h1.56M70.99 272.4h1.56M117.69 272.4h1.56M120.81 272.4h1.56M148.83 272.4h1.56M161.35 144.4h1.54M201.35 144.4h1.54M187.5 152.4h1.54M155.2 160.4h1.54M181.35 160.4h1.54M176.74 168.4h1.54M195.19 168.4h1.54M205.96 184.4h1.54M162.89 192.4h1.54M196.73 192.4h1.54M164.43 208.4h1.54M164.43 216.4h1.54M173.66 216.4h1.54M178.27 216.4h1.54M201.35 224.4h1.54M185.96 240.4h1.54M167.51 256.4h1.54M169.04 272.4h1.54M215.4 136.4h1.55M229.35 136.4h1.55M260.35 144.4h1.55M210.75 152.4h1.55M215.4 152.4h1.55M223.15 152.4h1.55M263.45 152.4h1.55M215.4 160.4h1.55M221.6 160.4h1.55M254.15 160.4h1.55M210.75 168.4h1.55M227.8 168.4h1.55M238.65 168.4h1.55M243.3 168.4h1.55M246.4 168.4h1.55M268.1 168.4h1.55M232.45 184.4h1.55M241.75 184.4h1.55M251.05 184.4h1.55M258.8 184.4h1.55M251.05 192.4h1.55M230.9 200.4h1.55M241.75 200.4h1.55M251.05 200.4h1.55M265 200.4h1.55M221.6 208.4h1.55M240.2 208.4h1.55M243.3 208.4h1.55M255.7 208.4h1.55M260.35 208.4h1.55M265 208.4h1.55M246.4 216.4h3.1M263.45 216.4h1.55M268.1 216.4h1.55M235.55 224.4h1.55M213.85 232.4h1.55M216.95 232.4h1.55M252.6 232.4h1.55M258.8 232.4h1.55M212.3 240.4h1.55M230.9 240.4h1.55M235.55 240.4h1.55M244.85 240.4h1.55M263.45 240.4h1.55M269.65 240.4h1.55M232.45 248.4h1.55M237.1 248.4h1.55M221.6 256.4h1.55M255.7 256.4h1.55M213.85 264.4h1.55M235.55 264.4h3.1M257.25 264.4h1.55M131.7 282.1h1.56M85 306.1h1.56M86.56 314.1h1.56M141.05 330.1h1.56M64.76 354.1h1.56M50.75 363.8h1.56M72.55 363.8h1.56M94.34 363.8h1.56M102.12 363.8h1.56M151.94 363.8h1.56M33.62 371.8h3.11M67.88 371.8h1.56M113.02 371.8h1.56M131.7 371.8h1.56M136.38 371.8h3.11M147.27 371.8h3.11M42.97 395.8h1.56M60.09 395.8h1.56M117.69 395.8h1.56M147.27 395.8h1.56M27.4 411.8h1.56M99.01 411.8h1.56M109.91 411.8h1.56M131.7 411.8h1.56M193.66 363.8h1.54M172.12 371.8h1.54M193.66 371.8h1.54M201.35 371.8h3.08M198.27 395.8h3.08M221.6 363.8h1.55M241.75 363.8h1.55M244.85 363.8h1.55M209.2 371.8h1.55M224.7 371.8h1.55M237.1 371.8h1.55M257.25 371.8h1.55M261.9 371.8h1.55M246.4 395.8h1.55"/>
<path stroke="#f9684c" d="M42.97 21h1.56M69.43 29h1.56M105.24 29h1.56M19.61 45h1.56M66.32 45h1.56M95.9 45h3.11M41.41 53h1.56M33.62 61h1.56M39.85 69h1.56M247.95 37h1.55M227.8 45h1.55M170.58 102.7h1.54M238.65 78.7h1.55M238.65 102.7h1.55M182.89 144.4h1.54M192.12 144.4h1.54M185.96 192.4h1.54M202.89 224.4h1.54M204.42 256.4h1.54M260.35 136.4h1.55M212.3 144.4h1.55M216.95 144.4h1.55M240.2 144.4h1.55M265 152.4h1.55M234 184.4h1.55M218.5 208.4h1.55M212.3 224.4h1.55M261.9 232.4h1.55M221.6 240.4h1.55M254.15 240.4h1.55M246.4 248.4h1.55M218.5 256.4h1.55M213.85 272.4h1.55M106.8 282.1h1.56M16.5 290.1h1.56M92.78 306.1h1.56M131.7 314.1h1.56M137.93 314.1h1.56M116.14 322.1h1.56M47.64 330.1h1.56M56.98 338.1h1.56M49.19 346.1h1.56M106.8 346.1h1.56M56.98 354.1h1.56M165.97 346.1h1.54M175.2 354.1h1.54M266.55 282.1h1.55M215.4 298.1h1.55M238.65 338.1h1.55M210.75 346.1h1.55M260.35 346.1h1.55M77.22 363.8h1.56"/>
<path stroke="#ebe0f9" d="M52.31 21h1.56M61.65 21h1.56M116.14 21h1.56M38.3 29h1.56M100.57 29h1.56M141.05 29h1.56M150.39 29h1.56M33.62 37h1.56M70.99 37h1.56M131.7 37h1.56M22.73 45h1.56M83.44 45h1.56M117.69 45h1.56M24.28 53h1.56M125.48 53h1.56M55.42 61h1.56M99.01 61h1.56M141.05 61h1.56M30.51 69h1.56M28.95 78.7h3.11M36.74 78.7h1.56M44.52 78.7h1.56M53.86 78.7h4.67M63.2 78.7h4.67M77.22 78.7h1.56M91.23 78.7h1.56M105.24 78.7h1.56M119.25 78.7h3.11M127.03 78.7h4.67M151.94 78.7h1.56M19.61 86.7h1.56M75.66 86.7h1.56M89.67 86.7h1.56M94.34 86.7h1.56M97.45 86.7h1.56M125.48 86.7h1.56M32.07 94.7h1.56M52.31 94.7h1.56M55.42 94.7h1.56M60.09 94.7h1.56M64.76 94.7h1.56M69.43 94.7h3.11M89.67 94.7h1.56M97.45 94.7h1.56M131.7 94.7h1.56M145.72 94.7h3.11M58.53 102.7h1.56M67.88 102.7h1.56M97.45 102.7h1.56M108.35 102.7h1.56M113.02 102.7h1.56M120.81 102.7h1.56M18.06 110.7h1.56M25.84 110.7h4.67M35.18 110.7h1.56M42.97 110.7h1.56M58.53 110.7h1.56M80.33 110.7h3.11M91.23 110.7h1.56M100.57 110.7h1.56M109.91 110.7h1.56M128.59 110.7h1.56M141.05 110.7h3.11M147.27 110.7h3.11M32.07 118.7h1.56M56.98 118.7h3.11M80.33 118.7h1.56M131.7 118.7h1.56M151.94 118.7h1.56M44.52 126.7h1.56M55.42 126.7h1.56M136.38 126.7h1.56M139.49 126.7h1.56M159.81 86.7h1.54M204.42 86.7h1.54M155.2 94.7h1.54M159.81 94.7h1.54M165.97 102.7h1.54M181.35 110.7h1.54M192.12 110.7h1.54M204.42 110.7h1.54M193.66 118.7h1.54M181.35 126.7h1.54M193.66 126.7h1.54M218.5 78.7h1.55M230.9 78.7h1.55M234 78.7h3.1M252.6 78.7h1.55M261.9 78.7h1.55M210.75 86.7h1.55M216.95 86.7h1.55M229.35 86.7h1.55M258.8 86.7h3.1M213.85 94.7h3.1M223.15 94.7h1.55M227.8 94.7h1.55M255.7 94.7h1.55M260.35 94.7h1.55M263.45 94.7h3.1M209.2 102.7h1.55M221.6 102.7h1.55M224.7 102.7h1.55M232.45 102.7h1.55M237.1 102.7h1.55M241.75 102.7h3.1M249.5 102.7h1.55M254.15 102.7h1.55M209.2 110.7h1.55M218.5 110.7h1.55M223.15 110.7h1.55M230.9 110.7h1.55M235.55 110.7h1.55M246.4 110.7h1.55M261.9 110.7h1.55M209.2 118.7h1.55M218.5 118.7h1.55M223.15 118.7h1.55M226.25 118.7h1.55M234 118.7h3.1M243.3 118.7h1.55M251.05 118.7h1.55M255.7 118.7h1.55M258.8 118.7h1.55M240.2 126.7h1.55M89.67 136.4h1.56M116.14 136.4h1.56M127.03 136.4h1.56M134.82 136.4h1.56M144.16 136.4h1.56M78.77 144.4h1.56M47.64 152.4h1.56M52.31 152.4h1.56M80.33 152.4h1.56M69.43 160.4h1.56M139.49 160.4h1.56M95.9 168.4h1.56M19.61 176.4h1.56M86.56 176.4h1.56M89.67 176.4h1.56M106.8 176.4h1.56M111.47 176.4h1.56M28.95 184.4h1.56M91.23 184.4h1.56M35.18 192.4h1.56M105.24 192.4h1.56M108.35 192.4h1.56M16.5 200.4h1.56M36.74 200.4h1.56M39.85 200.4h1.56M88.11 200.4h1.56M35.18 208.4h1.56M89.67 208.4h1.56M125.48 208.4h1.56M18.06 216.4h1.56M60.09 216.4h1.56M89.67 216.4h1.56M94.34 216.4h1.56M19.61 224.4h1.56M33.62 224.4h1.56M88.11 224.4h1.56M63.2 232.4h1.56M66.32 232.4h1.56M85 232.4h1.56M36.74 240.4h1.56M147.27 240.4h3.11M33.62 248.4h1.56M133.26 248.4h3.11M36.74 256.4h1.56M52.31 256.4h1.56M97.45 256.4h1.56M130.15 256.4h1.56M137.93 256.4h1.56M44.52 264.4h1.56M63.2 264.4h1.56M70.99 264.4h1.56M77.22 264.4h1.56M85 264.4h1.56M119.25 264.4h3.11M128.59 264.4h1.56M116.14 272.4h1.56M151.94 272.4h1.56M204.42 152.4h1.54M164.43 200.4h1.54M173.66 248.4h1.54M184.43 248.4h1.54M195.19 272.4h1.54M234 136.4h1.55M238.65 136.4h1.55M232.45 144.4h1.55M216.95 152.4h1.55M229.35 152.4h1.55M252.6 160.4h1.55M237.1 168.4h1.55M240.2 192.4h1.55M254.15 192.4h1.55M244.85 216.4h1.55M240.2 224.4h1.55M251.05 248.4h1.55M251.05 256.4h1.55M216.95 264.4h1.55M52.31 282.1h1.56M148.83 282.1h1.56M41.41 290.1h1.56M55.42 290.1h1.56M66.32 290.1h1.56M69.43 290.1h1.56M81.89 290.1h1.56M88.11 290.1h1.56M114.58 290.1h1.56M122.36 290.1h1.56M125.48 290.1h1.56M151.94 290.1h1.56M22.73 306.1h1.56M36.74 306.1h1.56M41.41 306.1h3.11M64.76 306.1h1.56M69.43 306.1h1.56M74.1 306.1h1.56M91.23 306.1h1.56M99.01 306.1h1.56M120.81 306.1h1.56M127.03 306.1h1.56M139.49 306.1h1.56M142.6 306.1h3.11M150.39 306.1h1.56M19.61 314.1h1.56M108.35 314.1h1.56M27.4 338.1h1.56M61.65 338.1h1.56M69.43 338.1h1.56M120.81 338.1h1.56M133.26 338.1h1.56M21.17 354.1h1.56M66.32 354.1h1.56M69.43 354.1h1.56M81.89 354.1h1.56M137.93 354.1h1.56M158.28 306.1h1.54M175.2 306.1h1.54M182.89 306.1h1.54M190.58 306.1h1.54M202.89 314.1h1.54M155.2 338.1h1.54M165.97 338.1h1.54M172.12 354.1h1.54M189.04 354.1h1.54M193.66 354.1h1.54M198.27 354.1h3.08M221.6 290.1h1.55M241.75 290.1h1.55M244.85 290.1h1.55M237.1 306.1h1.55M249.5 306.1h1.55M254.15 306.1h1.55M257.25 306.1h1.55M260.35 306.1h1.55M266.55 306.1h1.55M209.2 338.1h1.55M221.6 338.1h1.55M221.6 354.1h1.55M226.25 354.1h1.55M252.6 354.1h1.55M32.07 363.8h1.56M86.56 363.8h1.56M120.81 363.8h1.56M123.92 363.8h1.56M131.7 363.8h1.56M147.27 363.8h1.56M16.5 379.8h1.56M22.73 379.8h1.56M30.51 379.8h1.56M35.18 379.8h1.56M67.88 379.8h1.56M88.11 379.8h1.56M97.45 379.8h1.56M123.92 379.8h3.11M130.15 379.8h1.56M145.72 379.8h1.56M18.06 387.8h4.67M27.4 387.8h1.56M33.62 387.8h3.11M41.41 387.8h3.11M49.19 387.8h6.23M56.98 387.8h1.56M60.09 387.8h1.56M66.32 387.8h1.56M69.43 387.8h1.56M74.1 387.8h1.56M86.56 387.8h1.56M97.45 387.8h1.56M109.91 387.8h1.56M114.58 387.8h1.56M136.38 387.8h1.56M141.05 387.8h1.56M144.16 387.8h6.23M81.89 395.8h1.56M99.01 395.8h1.56M106.8 395.8h1.56M111.47 395.8h1.56M19.61 403.8h1.56M35.18 403.8h3.11M39.85 403.8h1.56M42.97 403.8h1.56M46.08 403.8h1.56M55.42 403.8h1.56M70.99 403.8h1.56M92.78 403.8h1.56M99.01 403.8h1.56M103.68 403.8h1.56M119.25 403.8h1.56M133.26 403.8h1.56M145.72 403.8h3.11M113.02 411.8h1.56M130.15 411.8h1.56M150.39 411.8h1.56M169.04 363.8h1.54M187.5 371.8h1.54M156.74 379.8h1.54M178.27 379.8h1.54M182.89 379.8h1.54M195.19 379.8h1.54M156.74 387.8h1.54M162.89 387.8h1.54M165.97 387.8h1.54M170.58 387.8h3.08M179.81 387.8h1.54M189.04 387.8h1.54M192.12 387.8h1.54M161.35 395.8h3.08M173.66 395.8h1.54M178.27 395.8h1.54M192.12 395.8h3.08M158.28 403.8h1.54M192.12 403.8h1.54M195.19 403.8h3.08M213.85 363.8h1.55M215.4 371.8h1.55M221.6 371.8h1.55M226.25 379.8h1.55M238.65 379.8h1.55M254.15 379.8h1.55M265 379.8h1.55M212.3 387.8h1.55M224.7 387.8h1.55M238.65 387.8h3.1M249.5 387.8h4.65M265 387.8h1.55M268.1 387.8h3.1M268.1 395.8h1.55M209.2 403.8h3.1M234 403.8h1.55M241.75 403.8h1.55M249.5 403.8h1.55M260.35 403.8h1.55M269.65 403.8h1.55"/>
<path stroke="#f9b4a0" d="M58.53 21h1.56M86.56 21h1.56M113.02 21h1.56M21.17 29h1.56M24.28 29h1.56M88.11 29h1.56M119.25 29h1.56M147.27 29h1.56M16.5 37h1.56M39.85 37h1.56M75.66 37h1.56M83.44 37h1.56M95.9 37h1.56M113.02 37h1.56M127.03 37h1.56M77.22 45h1.56M106.8 45h1.56M137.93 45h1.56M145.72 45h1.56M22.73 53h1.56M35.18 53h1.56M39.85 53h1.56M49.19 53h1.56M116.14 53h1.56M49.19 61h1.56M142.6 61h1.56M36.74 69h1.56M147.27 69h1.56M176.74 61h1.54M218.5 69h1.55M202.89 78.7h1.54M178.27 102.7h1.54M189.04 110.7h1.54M199.81 110.7h1.54M247.95 78.7h1.55M247.95 102.7h1.55M247.95 110.7h1.55M247.95 118.7h1.55M36.74 136.4h1.56M123.92 136.4h1.56M44.52 144.4h1.56M47.64 144.4h1.56M55.42 144.4h1.56M58.53 144.4h1.56M136.38 144.4h1.56M16.5 152.4h1.56M32.07 152.4h1.56M50.75 152.4h1.56M67.88 152.4h1.56M137.93 152.4h1.56M36.74 160.4h1.56M61.65 160.4h1.56M113.02 160.4h1.56M38.3 168.4h1.56M85 168.4h1.56M122.36 168.4h1.56M72.55 176.4h1.56M16.5 184.4h1.56M50.75 184.4h1.56M58.53 192.4h1.56M131.7 192.4h1.56M144.16 192.4h1.56M47.64 200.4h1.56M75.66 200.4h1.56M28.95 208.4h1.56M21.17 216.4h1.56M105.24 216.4h1.56M127.03 216.4h1.56M66.32 224.4h1.56M88.11 232.4h1.56M91.23 232.4h1.56M108.35 232.4h1.56M127.03 232.4h1.56M39.85 240.4h1.56M60.09 240.4h1.56M64.76 240.4h1.56M67.88 240.4h1.56M99.01 240.4h1.56M105.24 240.4h1.56M22.73 248.4h1.56M25.84 248.4h1.56M61.65 256.4h1.56M86.56 256.4h1.56M99.01 256.4h1.56M125.48 264.4h1.56M39.85 272.4h1.56M53.86 272.4h1.56M85 272.4h1.56M123.92 272.4h1.56M169.04 168.4h1.54M164.43 184.4h1.54M156.74 200.4h1.54M189.04 216.4h1.54M175.2 224.4h1.54M156.74 240.4h1.54M165.97 272.4h1.54M235.55 136.4h1.55M269.65 136.4h1.55M247.95 144.4h1.55M255.7 144.4h1.55M269.65 144.4h1.55M224.7 152.4h1.55M227.8 152.4h1.55M230.9 152.4h1.55M243.3 152.4h3.1M258.8 152.4h3.1M229.35 160.4h1.55M246.4 160.4h1.55M221.6 168.4h1.55M235.55 168.4h1.55M209.2 176.4h1.55M212.3 176.4h1.55M216.95 176.4h1.55M220.05 176.4h1.55M232.45 176.4h1.55M244.85 176.4h1.55M266.55 184.4h1.55M224.7 192.4h1.55M237.1 192.4h1.55M261.9 192.4h1.55M260.35 200.4h1.55M224.7 208.4h1.55M247.95 208.4h1.55M254.15 208.4h1.55M258.8 208.4h1.55M220.05 216.4h1.55M254.15 224.4h1.55M263.45 224.4h1.55M220.05 232.4h1.55M247.95 232.4h3.1M251.05 240.4h1.55M215.4 248.4h1.55M226.25 248.4h1.55M265 248.4h1.55M216.95 256.4h1.55M246.4 256.4h1.55M215.4 264.4h1.55M223.15 264.4h1.55M243.3 264.4h1.55M249.5 264.4h1.55M224.7 272.4h1.55M229.35 272.4h1.55M260.35 272.4h1.55M78.77 282.1h1.56M77.22 290.1h1.56M86.56 290.1h1.56M113.02 290.1h1.56M123.92 290.1h1.56M44.52 298.1h1.56M78.77 298.1h1.56M38.3 306.1h1.56M131.7 306.1h1.56M24.28 314.1h1.56M46.08 322.1h1.56M66.32 322.1h1.56M128.59 354.1h1.56M141.05 363.8h1.56M30.51 371.8h1.56M81.89 371.8h1.56M86.56 371.8h1.56M92.78 371.8h1.56M103.68 371.8h1.56M120.81 371.8h1.56M63.2 395.8h1.56M116.14 395.8h1.56M142.6 395.8h1.56M150.39 395.8h1.56M41.41 411.8h1.56M44.52 411.8h1.56M52.31 411.8h1.56M137.93 411.8h1.56M213.85 371.8h1.55M232.45 371.8h1.55M246.4 371.8h1.55"/>
<path stroke="#cdb2f9" d="M70.99 21h1.56M77.22 21h1.56M127.03 21h1.56M16.5 29h1.56M53.86 29h1.56M80.33 29h1.56M151.94 29h1.56M36.74 37h1.56M69.43 37h1.56M116.14 37h1.56M16.5 45h1.56M111.47 45h1.56M120.81 45h1.56M25.84 53h1.56M55.42 53h1.56M117.69 53h1.56M151.94 53h1.56M24.28 61h1.56M46.08 61h1.56M102.12 61h1.56M21.17 69h1.56M27.4 69h1.56M66.32 69h1.56M122.36 69h1.56M148.83 69h1.56M18.06 86.7h1.56M21.17 86.7h1.56M24.28 86.7h1.56M35.18 86.7h3.11M39.85 86.7h4.67M46.08 86.7h1.56M50.75 86.7h3.11M56.98 86.7h1.56M60.09 86.7h1.56M63.2 86.7h1.56M66.32 86.7h1.56M77.22 86.7h3.11M85 86.7h1.56M88.11 86.7h1.56M91.23 86.7h1.56M103.68 86.7h4.67M109.91 86.7h1.56M114.58 86.7h1.56M122.36 86.7h1.56M131.7 86.7h1.56M134.82 86.7h1.56M145.72 86.7h3.11M150.39 86.7h3.11M16.5 94.7h1.56M103.68 94.7h1.56M123.92 94.7h1.56M136.38 94.7h1.56M16.5 102.7h3.11M25.84 102.7h1.56M32.07 102.7h3.11M36.74 102.7h3.11M42.97 102.7h3.11M61.65 102.7h3.11M70.99 102.7h1.56M75.66 102.7h1.56M78.77 102.7h1.56M86.56 102.7h3.11M92.78 102.7h1.56M99.01 102.7h1.56M102.12 102.7h1.56M109.91 102.7h1.56M114.58 102.7h1.56M122.36 102.7h3.11M127.03 102.7h1.56M137.93 102.7h1.56M141.05 102.7h1.56M42.97 118.7h1.56M116.14 118.7h1.56M136.38 118.7h3.11M16.5 126.7h1.56M30.51 126.7h3.11M38.3 126.7h1.56M41.41 126.7h1.56M46.08 126.7h1.56M60.09 126.7h1.56M75.66 126.7h1.56M78.77 126.7h1.56M89.67 126.7h1.56M92.78 126.7h1.56M106.8 126.7h1.56M120.81 126.7h4.67M127.03 126.7h1.56M133.26 126.7h1.56M137.93 126.7h1.56M147.27 126.7h1.56M150.39 126.7h1.56M165.97 94.7h1.54M159.81 110.7h1.54M159.81 126.7h3.08M218.5 86.7h4.65M220.05 102.7h1.55M220.05 110.7h1.55M220.05 118.7h1.55M265 118.7h1.55M33.62 136.4h1.56M49.19 136.4h1.56M117.69 136.4h1.56M39.85 144.4h1.56M72.55 144.4h1.56M119.25 144.4h1.56M85 152.4h1.56M53.86 160.4h1.56M91.23 160.4h1.56M116.14 160.4h1.56M134.82 160.4h1.56M137.93 160.4h1.56M50.75 168.4h1.56M77.22 168.4h1.56M91.23 168.4h1.56M142.6 168.4h1.56M28.95 176.4h1.56M102.12 176.4h1.56M42.97 192.4h4.67M89.67 192.4h1.56M103.68 192.4h1.56M128.59 192.4h1.56M52.31 200.4h1.56M50.75 208.4h1.56M70.99 208.4h1.56M88.11 208.4h1.56M97.45 208.4h1.56M108.35 208.4h1.56M136.38 208.4h1.56M141.05 208.4h1.56M151.94 208.4h1.56M38.3 216.4h1.56M47.64 216.4h1.56M88.11 216.4h1.56M30.51 224.4h1.56M49.19 224.4h1.56M58.53 224.4h1.56M106.8 224.4h1.56M116.14 224.4h1.56M127.03 224.4h1.56M35.18 232.4h1.56M150.39 232.4h1.56M56.98 240.4h1.56M94.34 240.4h1.56M28.95 248.4h1.56M97.45 248.4h1.56M108.35 248.4h1.56M116.14 248.4h1.56M130.15 248.4h1.56M38.3 256.4h1.56M53.86 256.4h1.56M114.58 256.4h1.56M134.82 256.4h3.11M16.5 264.4h1.56M103.68 264.4h1.56M21.17 272.4h1.56M147.27 272.4h1.56M162.89 144.4h1.54M202.89 144.4h1.54M167.51 152.4h1.54M195.19 152.4h1.54M205.96 152.4h1.54M167.51 160.4h1.54M195.19 160.4h1.54M156.74 168.4h1.54M182.89 168.4h1.54M192.12 168.4h1.54M165.97 176.4h1.54M184.43 176.4h1.54M189.04 176.4h1.54M202.89 176.4h1.54M175.2 184.4h1.54M169.04 192.4h1.54M189.04 192.4h1.54M193.66 192.4h1.54M185.96 200.4h1.54M159.81 208.4h1.54M162.89 208.4h1.54M167.51 208.4h1.54M202.89 208.4h1.54M158.28 224.4h1.54M193.66 224.4h1.54M196.73 224.4h1.54M159.81 232.4h1.54M185.96 232.4h1.54M176.74 240.4h1.54M190.58 240.4h1.54M193.66 240.4h1.54M198.27 240.4h1.54M158.28 248.4h1.54M179.81 248.4h1.54M187.5 248.4h1.54M179.81 256.4h1.54M156.74 272.4h1.54M190.58 272.4h1.54M237.1 136.4h1.55M263.45 160.4h1.55M237.1 184.4h1.55M218.5 192.4h1.55M238.65 192.4h1.55M266.55 192.4h1.55M216.95 200.4h1.55M234 208.4h1.55M249.5 208.4h1.55M230.9 224.4h1.55M215.4 232.4h1.55M229.35 232.4h1.55M244.85 232.4h1.55M216.95 240.4h1.55M226.25 240.4h1.55M78.77 363.8h1.56M145.72 363.8h1.56M21.17 379.8h1.56M24.28 379.8h1.56M44.52 379.8h1.56M55.42 379.8h1.56M105.24 379.8h1.56M136.38 379.8h1.56M147.27 379.8h1.56M56.98 395.8h1.56M102.12 395.8h1.56M80.33 411.8h1.56M185.96 371.8h1.54M162.89 379.8h1.54M172.12 379.8h1.54M175.2 379.8h1.54M198.27 379.8h1.54M204.42 379.8h1.54M165.97 411.8h1.54M193.66 411.8h1.54M258.8 363.8h1.55M265 371.8h1.55M212.3 379.8h1.55M218.5 379.8h1.55M251.05 379.8h1.55M266.55 379.8h1.55M220.05 395.8h1.55M230.9 411.8h1.55M251.05 411.8h1.55M254.15 411.8h1.55"/>
<path stroke="#f91818" d="M75.66 21h1.56M148.83 21h1.56M150.39 21h1.56M36.74 29h1.56M39.85 29h1.56M55.42 29h1.56M116.14 29h1.56M28.95 37h1.56M60.09 37h1.56M60.09 45h1.56M108.35 45h1.56M144.16 45h1.56M141.05 53h1.56M144.16 53h1.56M36.74 61h1.56M91.23 61h1.56M97.45 61h1.56M139.49 61h1.56M60.09 69h1.56M85 69h1.56M167.51 78.7h1.54M169.04 78.7h1.54M175.2 78.7h1.54M198.27 78.7h1.54M201.35 78.7h1.54M167.51 86.7h1.54M175.2 86.7h1.54M198.27 86.7h1.54M167.51 94.7h1.54M175.2 94.7h1.54M198.27 94.7h1.54M201.35 94.7h1.54M167.51 102.7h1.54M175.2 102.7h1.54M198.27 102.7h1.54M169.04 110.7h1.54M175.2 118.7h1.54M198.27 118.7h1.54M201.35 118.7h1.54M175.2 126.7h1.54M178.27 248.4h1.54M241.75 136.4h1.55M254.15 136.4h1.55M247.95 184.4h1.55M212.3 208.4h1.55M210.75 240.4h1.55M209.2 264.4h1.55M28.95 282.1h1.56M46.08 282.1h1.56M50.75 282.1h1.56M60.09 290.1h1.56M83.44 290.1h1.56M130.15 290.1h1.56M148.83 290.1h1.56M47.64 298.1h1.56M75.66 298.1h1.56M81.89 298.1h1.56M16.5 306.1h1.56M21.17 306.1h1.56M123.92 306.1h1.56M130.15 306.1h1.56M133.26 306.1h1.56M33.62 314.1h1.56M50.75 314.1h1.56M81.89 314.1h1.56M95.9 314.1h1.56M122.36 314.1h1.56M139.49 314.1h1.56M67.88 322.1h1.56M46.08 330.1h1.56M88.11 330.1h1.56M95.9 330.1h1.56M136.38 330.1h1.56M142.6 330.1h1.56M24.28 338.1h1.56M58.53 338.1h1.56M60.09 338.1h1.56M70.99 338.1h1.56M83.44 338.1h1.56M88.11 338.1h1.56M95.9 338.1h1.56M105.24 338.1h1.56M130.15 338.1h1.56M139.49 338.1h1.56M21.17 346.1h1.56M46.08 346.1h1.56M52.31 346.1h1.56M86.56 346.1h1.56M117.69 346.1h1.56M151.94 346.1h1.56M36.74 354.1h1.56M44.52 354.1h1.56M52.31 354.1h1.56M127.03 354.1h1.56M144.16 354.1h1.56M145.72 354.1h1.56M172.12 282.1h3.08M205.96 282.1h1.54M158.28 290.1h1.54M162.89 290.1h1.54M185.96 322.1h1.54M159.81 338.1h1.54M238.65 282.1h1.55M251.05 282.1h1.55M249.5 290.1h3.1M258.8 290.1h1.55M263.45 298.1h1.55M235.55 306.1h1.55M213.85 314.1h1.55M218.5 314.1h1.55M224.7 322.1h1.55M263.45 322.1h1.55M237.1 330.1h1.55M260.35 330.1h1.55M269.65 330.1h1.55M215.4 354.1h1.55M61.65 387.8h1.56M77.22 387.8h1.56M50.75 403.8h1.56M74.1 403.8h1.56M88.11 403.8h1.56M105.24 403.8h1.56M173.66 387.8h1.54M190.58 387.8h1.54M162.89 403.8h1.54M181.35 403.8h1.54M187.5 403.8h1.54M202.89 403.8h3.08M268.1 403.8h1.55"/>
<path stroke="#f9a188" d="M109.91 21h1.56M67.88 29h1.56M114.58 29h1.56M120.81 29h1.56M145.72 29h1.56M25.84 37h1.56M55.42 37h1.56M89.67 37h1.56M30.51 45h1.56M41.41 45h1.56M53.86 45h1.56M69.43 45h1.56M88.11 45h1.56M119.25 45h1.56M142.6 45h1.56M74.1 53h1.56M27.4 61h1.56M53.86 61h1.56M103.68 61h1.56M123.92 69h1.56M179.81 45h1.54M190.58 86.7h1.54M195.19 86.7h1.54M184.43 118.7h1.54M192.12 118.7h1.54M42.97 136.4h1.56M56.98 144.4h1.56M128.59 144.4h1.56M139.49 144.4h1.56M130.15 160.4h3.11M102.12 168.4h1.56M16.5 192.4h1.56M22.73 192.4h1.56M55.42 192.4h1.56M89.67 200.4h1.56M97.45 200.4h1.56M102.12 208.4h1.56M113.02 208.4h1.56M52.31 216.4h1.56M42.97 224.4h1.56M172.12 192.4h1.54M176.74 192.4h1.54M172.12 200.4h1.54M190.58 200.4h1.54M173.66 224.4h1.54M204.42 272.4h1.54M213.85 136.4h1.55M227.8 136.4h1.55M246.4 136.4h1.55M252.6 136.4h1.55M257.25 152.4h1.55M232.45 160.4h1.55M255.7 160.4h1.55M210.75 176.4h1.55M223.15 176.4h1.55M234 176.4h1.55M237.1 176.4h1.55M244.85 184.4h1.55M269.65 192.4h1.55M268.1 200.4h1.55M216.95 208.4h1.55M254.15 216.4h1.55M257.25 216.4h1.55M268.1 224.4h1.55M226.25 232.4h1.55M237.1 232.4h1.55M240.2 232.4h1.55M265 232.4h1.55M234 240.4h1.55M265 240.4h1.55M257.25 248.4h1.55M266.55 256.4h3.1M243.3 272.4h1.55M247.95 272.4h1.55M257.25 272.4h1.55M102.12 298.1h1.56M86.56 306.1h1.56M123.92 314.1h1.56M38.3 354.1h1.56M53.86 354.1h1.56M210.75 282.1h1.55M266.55 298.1h1.55M269.65 338.1h1.55M240.2 354.1h1.55M46.08 363.8h1.56M92.78 363.8h1.56M108.35 363.8h1.56M137.93 363.8h1.56M28.95 371.8h1.56M32.07 371.8h1.56M50.75 371.8h1.56M78.77 371.8h1.56M89.67 371.8h1.56M125.48 371.8h1.56M22.73 395.8h1.56M38.3 395.8h1.56M89.67 395.8h1.56M16.5 411.8h1.56M70.99 411.8h1.56M78.77 411.8h1.56M119.25 411.8h1.56M224.7 363.8h1.55M212.3 371.8h1.55M251.05 371.8h1.55"/>
<path stroke="#f9bfac" d="M122.36 21h1.56M134.82 21h1.56M137.93 21h1.56M41.41 29h1.56M46.08 29h1.56M64.76 29h1.56M94.34 29h3.11M102.12 29h1.56M130.15 29h1.56M88.11 37h1.56M103.68 37h1.56M109.91 37h1.56M144.16 37h1.56M67.88 45h1.56M92.78 45h1.56M36.74 53h1.56M123.92 53h1.56M134.82 53h1.56M148.83 53h1.56M67.88 61h1.56M72.55 61h3.11M148.83 61h1.56M32.07 69h1.56M41.41 69h1.56M77.22 69h1.56M94.34 69h1.56M97.45 69h3.11M108.35 69h3.11M117.69 69h1.56M189.04 69h1.54M192.12 78.7h1.54M199.81 78.7h1.54M162.89 86.7h1.54M172.12 86.7h1.54M179.81 94.7h1.54M179.81 110.7h1.54M195.19 110.7h1.54M172.12 118.7h1.54M199.81 118.7h1.54M176.74 126.7h1.54M184.43 126.7h1.54M60.09 136.4h1.56M108.35 136.4h1.56M120.81 136.4h1.56M24.28 144.4h1.56M50.75 144.4h1.56M81.89 144.4h1.56M111.47 144.4h1.56M128.59 152.4h1.56M16.5 160.4h1.56M66.32 160.4h1.56M94.34 160.4h1.56M105.24 160.4h1.56M122.36 160.4h1.56M133.26 160.4h1.56M145.72 160.4h1.56M78.77 168.4h1.56M116.14 168.4h1.56M125.48 168.4h1.56M130.15 168.4h1.56M41.41 176.4h1.56M44.52 176.4h1.56M63.2 176.4h1.56M67.88 176.4h1.56M83.44 176.4h1.56M88.11 176.4h1.56M60.09 184.4h1.56M106.8 184.4h1.56M39.85 192.4h1.56M75.66 192.4h1.56M95.9 192.4h1.56M109.91 192.4h1.56M49.19 200.4h3.11M72.55 200.4h3.11M136.38 200.4h1.56M148.83 200.4h1.56M49.19 208.4h1.56M77.22 216.4h1.56M116.14 216.4h1.56M27.4 224.4h1.56M46.08 224.4h1.56M53.86 224.4h1.56M74.1 224.4h1.56M83.44 224.4h1.56M131.7 224.4h1.56M137.93 224.4h1.56M147.27 224.4h1.56M69.43 232.4h1.56M16.5 240.4h1.56M83.44 240.4h1.56M113.02 240.4h1.56M145.72 240.4h1.56M42.97 248.4h1.56M91.23 248.4h1.56M99.01 248.4h1.56M117.69 248.4h1.56M131.7 248.4h1.56M136.38 248.4h1.56M49.19 256.4h1.56M42.97 264.4h1.56M94.34 264.4h1.56M127.03 264.4h1.56M50.75 272.4h1.56M88.11 272.4h1.56M198.27 144.4h1.54M165.97 152.4h1.54M170.58 152.4h1.54M202.89 152.4h1.54M187.5 184.4h1.54M156.74 192.4h1.54M201.35 192.4h1.54M173.66 200.4h1.54M178.27 208.4h1.54M155.2 216.4h1.54M195.19 216.4h1.54M172.12 232.4h1.54M159.81 240.4h1.54M175.2 240.4h1.54M169.04 264.4h1.54M155.2 272.4h1.54M244.85 136.4h1.55M247.95 136.4h1.55M255.7 136.4h1.55M266.55 136.4h1.55M220.05 144.4h1.55M234 152.4h1.55M240.2 152.4h1.55M260.35 160.4h1.55M265 160.4h1.55M218.5 168.4h1.55M230.9 168.4h1.55M234 168.4h1.55M254.15 168.4h1.55M263.45 168.4h1.55M218.5 176.4h1.55M229.35 176.4h1.55M249.5 176.4h1.55M268.1 176.4h1.55M213.85 184.4h1.55M230.9 184.4h1.55M238.65 184.4h1.55M243.3 184.4h1.55M235.55 192.4h1.55M244.85 192.4h1.55M218.5 200.4h3.1M230.9 208.4h3.1M252.6 208.4h1.55M266.55 208.4h1.55M269.65 208.4h1.55M224.7 216.4h1.55M251.05 216.4h1.55M266.55 216.4h1.55M210.75 224.4h1.55M226.25 224.4h1.55M237.1 224.4h1.55M247.95 224.4h3.1M261.9 224.4h1.55M266.55 224.4h1.55M210.75 232.4h1.55M234 232.4h1.55M243.3 232.4h1.55M209.2 240.4h1.55M218.5 240.4h1.55M237.1 240.4h1.55M246.4 240.4h1.55M257.25 240.4h1.55M268.1 240.4h1.55M218.5 248.4h1.55M238.65 248.4h1.55M261.9 248.4h1.55M269.65 248.4h1.55M209.2 256.4h1.55M232.45 256.4h1.55M243.3 256.4h1.55M226.25 264.4h1.55M247.95 264.4h1.55M261.9 264.4h1.55M230.9 272.4h1.55M244.85 272.4h1.55M268.1 272.4h1.55M32.07 282.1h1.56M136.38 314.1h1.56M74.1 330.1h1.56M27.4 363.8h1.56M130.15 363.8h1.56M38.3 371.8h1.56M42.97 371.8h1.56M46.08 371.8h1.56M69.43 371.8h1.56M111.47 371.8h1.56M117.69 371.8h1.56M134.82 371.8h1.56M151.94 371.8h1.56M25.84 395.8h1.56M53.86 395.8h1.56M80.33 395.8h1.56M88.11 395.8h1.56M130.15 395.8h1.56M35.18 411.8h1.56M42.97 411.8h1.56M49.19 411.8h1.56M58.53 411.8h1.56M91.23 411.8h1.56M106.8 411.8h1.56M122.36 411.8h1.56M147.27 411.8h3.11M196.73 363.8h1.54M204.42 363.8h1.54M184.43 371.8h1.54M190.58 371.8h1.54M204.42 371.8h1.54M269.65 363.8h1.55M230.9 371.8h1.55M252.6 371.8h1.55M260.35 371.8h1.55M230.9 395.8h1.55M257.25 395.8h1.55"/>
<path stroke="#f98064" d="M142.6 21h1.56M27.4 29h1.56M134.82 29h1.56M24.28 37h1.56M99.01 37h1.56M128.59 45h1.56M92.78 61h1.56M92.78 69h1.56M185.96 61h1.54M268.1 37h1.55M269.65 45h1.55M46.08 102.7h1.56M179.81 78.7h1.54M169.04 86.7h1.54M169.04 94.7h1.54M170.58 118.7h1.54M238.65 94.7h1.55M266.55 110.7h1.55M67.88 200.4h1.56M18.06 248.4h1.56M185.96 248.4h1.54M251.05 152.4h1.55M266.55 152.4h1.55M251.05 168.4h1.55M258.8 168.4h1.55M269.65 224.4h1.55M232.45 240.4h1.55M209.2 248.4h1.55M247.95 248.4h1.55M220.05 256.4h1.55M226.25 256.4h1.55M269.65 264.4h1.55M209.2 272.4h1.55M216.95 272.4h1.55M240.2 272.4h1.55M269.65 272.4h1.55M69.43 282.1h1.56M111.47 298.1h1.56M114.58 298.1h1.56M105.24 314.1h1.56M128.59 330.1h1.56M85 354.1h1.56M224.7 314.1h1.55M241.75 314.1h1.55M218.5 338.1h1.55M88.11 363.8h1.56M114.58 363.8h1.56M39.85 395.8h3.11M72.55 411.8h1.56"/>
<path stroke="#f97558" d="M144.16 21h1.56M33.62 45h1.56M64.76 45h1.56M91.23 45h1.56M89.67 53h1.56M136.38 53h1.56M125.48 61h1.56M178.27 61h1.54M165.97 69h1.54M170.58 69h1.54M205.96 69h1.54M229.35 53h1.55M216.95 61h1.55M179.81 86.7h1.54M169.04 102.7h1.54M179.81 102.7h1.54M199.81 102.7h1.54M238.65 86.7h1.55M238.65 110.7h1.55M238.65 118.7h1.55M266.55 126.7h1.55M92.78 248.4h1.56M201.35 136.4h1.54M172.12 144.4h1.54M192.12 152.4h1.54M192.12 200.4h1.54M179.81 208.4h1.54M173.66 272.4h1.54M179.81 272.4h1.54M229.35 144.4h1.55M266.55 144.4h1.55M212.3 200.4h1.55M251.05 224.4h1.55M213.85 248.4h1.55M235.55 256.4h1.55M261.9 256.4h1.55M218.5 264.4h1.55M266.55 272.4h1.55M30.51 282.1h1.56M97.45 282.1h1.56M21.17 298.1h1.56M111.47 314.1h1.56M50.75 322.1h1.56M56.98 330.1h1.56M25.84 338.1h1.56M50.75 346.1h1.56M108.35 346.1h1.56M83.44 354.1h1.56M119.25 354.1h1.56M170.58 354.1h1.54M240.2 298.1h1.55M226.25 314.1h1.55M240.2 346.1h1.55M22.73 371.8h1.56M49.19 395.8h1.56M55.42 411.8h1.56M209.2 363.8h1.55M212.3 363.8h1.55M254.15 363.8h1.55"/>
<path stroke="#f93524" d="M91.23 29h1.56M27.4 53h1.56M53.86 126.7h1.56M167.51 110.7h1.54M198.27 110.7h1.54M167.51 126.7h1.54M198.27 126.7h1.54M201.35 126.7h1.54M164.43 144.4h1.54M179.81 224.4h1.54M235.55 176.4h1.55M251.05 272.4h1.55M144.16 282.1h1.56M49.19 290.1h1.56M102.12 290.1h1.56M97.45 306.1h1.56M113.02 306.1h1.56M141.05 346.1h1.56M70.99 354.1h1.56M187.5 330.1h1.54M232.45 330.1h1.55M102.12 411.8h1.56"/>
<path stroke="#f9e5de" d="M137.93 29h1.56M50.75 37h1.56M85 37h1.56M142.6 37h1.56M47.64 45h1.56M69.43 53h1.56M58.53 61h1.56M38.3 69h1.56M72.55 94.7h1.56M120.81 110.7h1.56M155.2 78.7h1.54M181.35 78.7h1.54M205.96 78.7h1.54M173.66 86.7h1.54M182.89 86.7h1.54M185.96 86.7h1.54M196.73 86.7h1.54M192.12 94.7h1.54M185.96 102.7h3.08M190.58 102.7h1.54M195.19 102.7h3.08M190.58 110.7h1.54M164.43 118.7h1.54M202.89 118.7h1.54M195.19 126.7h1.54M202.89 126.7h1.54M249.5 78.7h1.55M246.4 94.7h1.55M229.35 102.7h1.55M234 102.7h1.55M265 102.7h1.55M226.25 110.7h1.55M257.25 110.7h1.55M252.6 118.7h1.55M257.25 118.7h1.55M269.65 118.7h1.55M212.3 126.7h1.55M220.05 126.7h1.55M237.1 126.7h1.55M244.85 126.7h1.55M252.6 126.7h1.55M258.8 126.7h1.55M269.65 126.7h1.55M21.17 136.4h1.56M38.3 136.4h1.56M85 144.4h1.56M22.73 152.4h1.56M60.09 152.4h1.56M106.8 152.4h1.56M120.81 152.4h1.56M44.52 160.4h1.56M97.45 160.4h1.56M109.91 160.4h1.56M120.81 160.4h1.56M148.83 160.4h1.56M30.51 168.4h3.11M83.44 168.4h1.56M113.02 168.4h1.56M81.89 176.4h1.56M120.81 176.4h1.56M58.53 184.4h1.56M69.43 184.4h1.56M144.16 184.4h1.56M19.61 192.4h1.56M50.75 192.4h1.56M70.99 192.4h1.56M114.58 192.4h1.56M136.38 192.4h1.56M58.53 200.4h1.56M127.03 200.4h1.56M30.51 208.4h1.56M100.57 208.4h1.56M16.5 216.4h1.56M42.97 216.4h1.56M69.43 216.4h1.56M134.82 216.4h1.56M137.93 216.4h1.56M39.85 224.4h1.56M85 224.4h1.56M91.23 224.4h1.56M128.59 224.4h1.56M141.05 224.4h1.56M144.16 224.4h1.56M44.52 232.4h1.56M50.75 232.4h1.56M30.51 240.4h1.56M46.08 248.4h1.56M53.86 248.4h1.56M145.72 248.4h1.56M16.5 256.4h1.56M46.08 256.4h1.56M60.09 256.4h1.56M22.73 264.4h1.56M151.94 264.4h1.56M44.52 272.4h1.56M189.04 152.4h1.54M199.81 192.4h1.54M175.2 200.4h1.54M182.89 216.4h1.54M161.35 232.4h1.54M175.2 256.4h1.54M213.85 144.4h1.55M218.5 144.4h1.55M254.15 152.4h1.55M212.3 168.4h1.55M220.05 168.4h1.55M269.65 168.4h1.55M241.75 176.4h1.55M255.7 176.4h1.55M263.45 176.4h1.55M223.15 184.4h1.55M249.5 184.4h1.55M213.85 192.4h1.55M252.6 192.4h1.55M257.25 192.4h1.55M249.5 200.4h1.55M261.9 208.4h1.55M213.85 216.4h1.55M232.45 216.4h1.55M218.5 224.4h3.1M223.15 232.4h1.55M255.7 232.4h1.55M258.8 240.4h1.55M240.2 248.4h1.55M260.35 248.4h1.55M247.95 256.4h1.55M246.4 264.4h1.55M255.7 264.4h1.55M72.55 282.1h1.56M30.51 314.1h1.56M24.28 322.1h1.56M19.61 363.8h1.56M67.88 363.8h3.11M81.89 363.8h3.11M105.24 363.8h1.56M109.91 363.8h1.56M113.02 363.8h1.56M117.69 363.8h1.56M21.17 371.8h1.56M36.74 371.8h1.56M52.31 371.8h1.56M58.53 371.8h3.11M63.2 371.8h1.56M66.32 371.8h1.56M74.1 371.8h3.11M95.9 371.8h1.56M119.25 371.8h1.56M81.89 379.8h1.56M119.25 379.8h1.56M16.5 395.8h1.56M44.52 395.8h1.56M47.64 395.8h1.56M58.53 395.8h1.56M74.1 395.8h3.11M78.77 395.8h1.56M83.44 395.8h1.56M86.56 395.8h1.56M145.72 395.8h1.56M28.95 411.8h1.56M67.88 411.8h1.56M81.89 411.8h1.56M88.11 411.8h1.56M92.78 411.8h1.56M111.47 411.8h1.56M134.82 411.8h1.56M142.6 411.8h1.56M169.04 371.8h1.54M178.27 371.8h1.54M167.51 395.8h1.54M170.58 395.8h1.54M243.3 371.8h1.55M268.1 371.8h1.55M209.2 379.8h1.55M223.15 379.8h1.55M240.2 379.8h1.55M221.6 395.8h3.1M247.95 395.8h1.55M265 395.8h3.1M269.65 395.8h1.55"/>
<path stroke="#f94b33" d="M63.2 45h1.56M63.2 53h1.56M66.32 61h1.56M127.03 61h1.56M81.89 69h1.56M201.35 86.7h1.54M201.35 102.7h1.54M175.2 110.7h1.54M167.51 118.7h1.54M238.65 126.7h1.55M161.35 152.4h1.54M158.28 168.4h1.54M249.5 160.4h1.55M230.9 192.4h1.55M33.62 282.1h1.56M103.68 282.1h1.56M64.76 290.1h1.56M60.09 306.1h1.56M78.77 306.1h1.56M67.88 354.1h1.56M161.35 330.1h1.54M38.3 363.8h1.56M100.57 363.8h1.56"/>
<path stroke="#f1ecf9" d="M16.5 53h1.56M105.24 61h1.56M53.86 69h1.56M18.06 78.7h1.56M41.41 78.7h1.56M108.35 78.7h1.56M116.14 78.7h1.56M145.72 78.7h1.56M148.83 78.7h1.56M21.17 94.7h1.56M80.33 94.7h1.56M117.69 94.7h1.56M142.6 94.7h1.56M27.4 102.7h1.56M19.61 110.7h3.11M24.28 110.7h1.56M39.85 110.7h3.11M44.52 110.7h1.56M53.86 110.7h1.56M63.2 110.7h1.56M74.1 110.7h3.11M86.56 110.7h1.56M97.45 110.7h1.56M105.24 110.7h1.56M114.58 110.7h1.56M122.36 110.7h1.56M130.15 110.7h1.56M133.26 110.7h1.56M137.93 110.7h1.56M145.72 110.7h1.56M24.28 118.7h1.56M50.75 118.7h1.56M133.26 118.7h3.11M49.19 126.7h1.56M128.59 126.7h1.56M165.97 78.7h1.54M173.66 78.7h1.54M185.96 78.7h1.54M158.28 86.7h1.54M161.35 86.7h1.54M182.89 94.7h1.54M193.66 94.7h1.54M161.35 102.7h1.54M181.35 102.7h1.54M164.43 110.7h1.54M185.96 110.7h1.54M187.5 118.7h1.54M173.66 126.7h1.54M196.73 126.7h1.54M212.3 78.7h1.55M215.4 78.7h3.1M227.8 78.7h1.55M244.85 78.7h1.55M255.7 78.7h1.55M260.35 78.7h1.55M265 78.7h1.55M226.25 86.7h1.55M232.45 86.7h1.55M246.4 86.7h1.55M251.05 86.7h1.55M255.7 86.7h1.55M265 86.7h1.55M209.2 94.7h1.55M218.5 94.7h1.55M224.7 94.7h1.55M235.55 94.7h1.55M241.75 94.7h3.1M258.8 94.7h1.55M269.65 94.7h1.55M212.3 102.7h1.55M235.55 102.7h1.55M246.4 102.7h1.55M252.6 102.7h1.55M260.35 102.7h1.55M224.7 110.7h1.55M229.35 110.7h1.55M241.75 110.7h1.55M249.5 110.7h3.1M258.8 110.7h1.55M263.45 110.7h3.1M269.65 110.7h1.55M229.35 118.7h1.55M237.1 118.7h1.55M244.85 118.7h3.1M249.5 118.7h1.55M254.15 118.7h1.55M261.9 118.7h1.55M255.7 126.7h1.55M24.28 136.4h1.56M125.48 136.4h1.56M32.07 144.4h1.56M77.22 144.4h1.56M80.33 144.4h1.56M102.12 144.4h1.56M151.94 144.4h1.56M32.07 160.4h1.56M41.41 160.4h1.56M67.88 160.4h1.56M102.12 160.4h1.56M117.69 160.4h1.56M18.06 176.4h1.56M99.01 176.4h3.11M103.68 176.4h1.56M113.02 176.4h1.56M46.08 184.4h1.56M70.99 184.4h1.56M78.77 184.4h1.56M86.56 184.4h1.56M89.67 184.4h1.56M100.57 184.4h1.56M103.68 184.4h1.56M111.47 184.4h1.56M139.49 184.4h1.56M63.2 192.4h1.56M94.34 192.4h1.56M145.72 192.4h1.56M27.4 200.4h1.56M99.01 200.4h1.56M67.88 208.4h1.56M99.01 208.4h1.56M75.66 216.4h1.56M91.23 216.4h1.56M114.58 216.4h1.56M122.36 224.4h1.56M136.38 224.4h1.56M58.53 232.4h1.56M80.33 232.4h3.11M94.34 232.4h1.56M106.8 232.4h1.56M50.75 240.4h1.56M150.39 240.4h1.56M41.41 248.4h1.56M150.39 248.4h1.56M39.85 256.4h1.56M67.88 256.4h1.56M122.36 256.4h1.56M131.7 256.4h1.56M49.19 264.4h1.56M95.9 264.4h1.56M16.5 272.4h1.56M78.77 272.4h1.56M105.24 272.4h1.56M145.72 272.4h1.56M167.51 144.4h1.54M201.35 160.4h1.54M179.81 168.4h1.54M192.12 176.4h1.54M156.74 184.4h1.54M205.96 232.4h1.54M192.12 248.4h1.54M195.19 248.4h1.54M212.3 136.4h1.55M226.25 144.4h1.55M257.25 144.4h1.55M263.45 144.4h1.55M240.2 160.4h1.55M244.85 160.4h1.55M266.55 160.4h1.55M255.7 184.4h1.55M255.7 192.4h1.55M258.8 192.4h1.55M269.65 200.4h1.55M243.3 216.4h1.55M209.2 224.4h1.55M212.3 232.4h1.55M223.15 248.4h1.55M268.1 264.4h1.55M22.73 363.8h3.11M44.52 363.8h1.56M60.09 363.8h1.56M75.66 363.8h1.56M99.01 363.8h1.56M142.6 363.8h1.56M91.23 371.8h1.56M27.4 379.8h1.56M42.97 379.8h1.56M56.98 379.8h1.56M78.77 379.8h1.56M103.68 379.8h1.56M108.35 379.8h1.56M38.3 387.8h1.56M64.76 387.8h1.56M67.88 387.8h1.56M72.55 387.8h1.56M111.47 387.8h1.56M151.94 387.8h1.56M69.43 395.8h1.56M134.82 395.8h1.56M24.28 403.8h1.56M28.95 403.8h1.56M61.65 403.8h1.56M85 403.8h1.56M111.47 403.8h1.56M144.16 403.8h1.56M36.74 411.8h1.56M39.85 411.8h1.56M60.09 411.8h1.56M74.1 411.8h1.56M108.35 411.8h1.56M116.14 411.8h1.56M120.81 411.8h1.56M139.49 411.8h1.56M176.74 363.8h3.08M158.28 371.8h1.54M195.19 371.8h1.54M181.35 379.8h1.54M185.96 379.8h1.54M193.66 387.8h1.54M202.89 387.8h1.54M158.28 395.8h1.54M165.97 395.8h1.54M182.89 395.8h1.54M189.04 395.8h1.54M172.12 403.8h1.54M234 363.8h1.55M252.6 363.8h1.55M257.25 363.8h1.55M218.5 371.8h1.55M227.8 371.8h1.55M213.85 379.8h1.55M237.1 379.8h1.55M260.35 387.8h1.55M210.75 395.8h3.1M216.95 395.8h1.55M244.85 395.8h1.55M258.8 395.8h1.55M263.45 395.8h1.55M213.85 403.8h1.55M263.45 411.8h1.55"/>
<path stroke="#f9eeeb" d="M16.5 78.7h1.56M137.93 78.7h1.56M49.19 110.7h1.56M78.77 110.7h1.56M85 110.7h1.56M117.69 110.7h1.56M158.28 78.7h1.54M172.12 78.7h1.54M187.5 78.7h1.54M193.66 78.7h1.54M196.73 78.7h1.54M181.35 94.7h1.54M164.43 102.7h1.54M172.12 102.7h3.08M162.89 110.7h1.54M196.73 110.7h1.54M182.89 118.7h1.54M195.19 118.7h1.54M204.42 118.7h1.54M185.96 126.7h3.08M213.85 78.7h1.55M229.35 78.7h1.55M240.2 78.7h4.65M251.05 78.7h1.55M254.15 78.7h1.55M237.1 86.7h1.55M241.75 86.7h1.55M269.65 86.7h1.55M216.95 94.7h1.55M237.1 94.7h1.55M249.5 94.7h6.2M226.25 102.7h1.55M230.9 102.7h1.55M261.9 102.7h1.55M213.85 110.7h1.55M244.85 110.7h1.55M255.7 110.7h1.55M260.35 110.7h1.55M240.2 118.7h1.55M209.2 126.7h1.55M213.85 126.7h1.55M223.15 126.7h1.55M227.8 126.7h1.55M235.55 126.7h1.55M254.15 126.7h1.55M260.35 126.7h3.1M22.73 136.4h1.56M27.4 136.4h1.56M46.08 136.4h1.56M66.32 136.4h1.56M91.23 136.4h1.56M113.02 136.4h1.56M16.5 144.4h1.56M33.62 144.4h1.56M27.4 152.4h1.56M114.58 152.4h1.56M131.7 152.4h1.56M150.39 152.4h1.56M60.09 160.4h1.56M72.55 160.4h1.56M99.01 160.4h1.56M108.35 160.4h1.56M111.47 160.4h1.56M150.39 160.4h1.56M28.95 168.4h1.56M60.09 168.4h1.56M74.1 168.4h1.56M108.35 168.4h1.56M111.47 168.4h1.56M131.7 168.4h1.56M141.05 168.4h1.56M21.17 176.4h1.56M58.53 176.4h1.56M80.33 176.4h1.56M134.82 176.4h1.56M41.41 184.4h3.11M116.14 184.4h1.56M47.64 192.4h1.56M61.65 192.4h1.56M81.89 192.4h1.56M120.81 192.4h1.56M19.61 200.4h1.56M24.28 200.4h1.56M28.95 200.4h1.56M61.65 200.4h1.56M80.33 200.4h1.56M131.7 200.4h1.56M137.93 200.4h1.56M150.39 200.4h1.56M22.73 208.4h1.56M63.2 208.4h3.11M114.58 208.4h1.56M32.07 216.4h1.56M46.08 216.4h1.56M58.53 216.4h1.56M61.65 216.4h1.56M130.15 216.4h1.56M141.05 216.4h1.56M18.06 224.4h1.56M75.66 224.4h1.56M33.62 232.4h1.56M134.82 232.4h1.56M151.94 232.4h1.56M49.19 240.4h1.56M63.2 240.4h1.56M131.7 240.4h1.56M137.93 240.4h1.56M151.94 240.4h1.56M39.85 248.4h1.56M49.19 248.4h1.56M83.44 248.4h1.56M33.62 256.4h1.56M41.41 256.4h1.56M108.35 256.4h1.56M142.6 256.4h1.56M35.18 264.4h3.11M56.98 264.4h1.56M81.89 264.4h1.56M147.27 264.4h1.56M52.31 272.4h1.56M60.09 272.4h1.56M114.58 272.4h1.56M125.48 272.4h1.56M131.7 272.4h1.56M165.97 144.4h1.54M205.96 176.4h1.54M189.04 184.4h1.54M184.43 200.4h1.54M189.04 200.4h1.54M201.35 200.4h3.08M156.74 208.4h1.54M192.12 216.4h1.54M164.43 224.4h1.54M172.12 224.4h1.54M199.81 224.4h1.54M167.51 232.4h1.54M178.27 232.4h1.54M195.19 232.4h1.54M165.97 240.4h1.54M164.43 256.4h1.54M192.12 256.4h1.54M220.05 136.4h1.55M232.45 136.4h1.55M251.05 136.4h1.55M220.05 160.4h1.55M247.95 160.4h1.55M252.6 168.4h1.55M266.55 176.4h1.55M210.75 192.4h1.55M263.45 192.4h3.1M247.95 200.4h1.55M268.1 208.4h1.55M252.6 216.4h1.55M261.9 216.4h1.55M247.95 240.4h1.55M266.55 240.4h1.55M241.75 248.4h1.55M255.7 248.4h1.55M263.45 248.4h1.55M227.8 264.4h1.55M260.35 264.4h1.55M218.5 272.4h1.55M252.6 272.4h1.55M263.45 272.4h1.55M41.41 363.8h1.56M52.31 363.8h1.56M63.2 363.8h1.56M66.32 363.8h1.56M80.33 363.8h1.56M85 363.8h1.56M127.03 363.8h1.56M139.49 363.8h1.56M150.39 363.8h1.56M19.61 371.8h1.56M49.19 371.8h1.56M53.86 371.8h1.56M116.14 371.8h1.56M144.16 371.8h1.56M18.06 395.8h1.56M36.74 395.8h1.56M72.55 395.8h1.56M91.23 395.8h1.56M95.9 395.8h1.56M109.91 395.8h1.56M122.36 395.8h3.11M144.16 395.8h1.56M32.07 411.8h1.56M66.32 411.8h1.56M69.43 411.8h1.56M85 411.8h1.56M94.34 411.8h1.56M100.57 411.8h1.56M117.69 411.8h1.56M162.89 363.8h1.54M167.51 371.8h1.54M198.27 371.8h1.54M159.81 379.8h1.54M156.74 395.8h1.54M164.43 395.8h1.54M176.74 395.8h1.54M179.81 395.8h1.54M196.73 395.8h1.54M210.75 363.8h1.55M235.55 363.8h1.55M238.65 363.8h1.55M261.9 363.8h1.55M226.25 371.8h1.55M266.55 371.8h1.55M215.4 379.8h1.55M224.7 395.8h1.55M238.65 395.8h1.55M260.35 395.8h1.55"/>
<path stroke="#f9f8f9" d="M49.19 78.7h1.56M70.99 78.7h1.56M78.77 78.7h1.56M86.56 78.7h1.56M117.69 78.7h1.56M142.6 78.7h1.56M120.81 94.7h1.56M127.03 94.7h1.56M60.09 110.7h3.11M64.76 110.7h1.56M69.43 110.7h3.11M136.38 110.7h1.56M139.49 110.7h1.56M150.39 110.7h1.56M190.58 78.7h1.54M204.42 78.7h1.54M156.74 86.7h1.54M156.74 94.7h1.54M161.35 94.7h1.54M178.27 94.7h1.54M156.74 102.7h1.54M189.04 102.7h1.54M173.66 110.7h1.54M178.27 110.7h1.54M161.35 118.7h1.54M165.97 118.7h1.54M190.58 118.7h1.54M210.75 78.7h1.55M223.15 78.7h1.55M226.25 78.7h1.55M258.8 78.7h1.55M263.45 78.7h1.55M213.85 86.7h1.55M243.3 86.7h3.1M249.5 86.7h1.55M257.25 86.7h1.55M210.75 94.7h3.1M220.05 94.7h1.55M226.25 94.7h1.55M229.35 94.7h3.1M244.85 94.7h1.55M210.75 102.7h1.55M251.05 102.7h1.55M257.25 102.7h1.55M263.45 102.7h1.55M216.95 110.7h1.55M237.1 110.7h1.55M210.75 118.7h3.1M241.75 118.7h1.55M260.35 118.7h1.55M263.45 118.7h1.55M210.75 126.7h1.55M216.95 126.7h1.55M221.6 126.7h1.55M226.25 126.7h1.55M229.35 126.7h1.55M232.45 126.7h1.55M268.1 126.7h1.55M28.95 136.4h1.56M86.56 136.4h1.56M102.12 136.4h1.56M22.73 144.4h1.56M106.8 144.4h1.56M123.92 144.4h1.56M147.27 144.4h1.56M35.18 152.4h1.56M42.97 152.4h1.56M88.11 152.4h1.56M102.12 152.4h1.56M125.48 152.4h1.56M21.17 160.4h1.56M25.84 160.4h1.56M75.66 160.4h1.56M80.33 160.4h1.56M119.25 160.4h1.56M147.27 160.4h1.56M16.5 168.4h1.56M21.17 168.4h1.56M49.19 168.4h1.56M70.99 168.4h3.11M80.33 168.4h1.56M134.82 168.4h1.56M148.83 168.4h1.56M151.94 168.4h1.56M39.85 176.4h1.56M47.64 176.4h1.56M137.93 176.4h1.56M22.73 184.4h1.56M49.19 184.4h1.56M72.55 184.4h1.56M75.66 184.4h1.56M122.36 184.4h3.11M134.82 184.4h1.56M53.86 192.4h1.56M60.09 192.4h1.56M66.32 192.4h1.56M91.23 192.4h1.56M133.26 192.4h1.56M100.57 200.4h1.56M103.68 200.4h3.11M122.36 200.4h1.56M139.49 200.4h1.56M36.74 208.4h1.56M56.98 208.4h1.56M91.23 208.4h1.56M147.27 208.4h1.56M36.74 216.4h1.56M55.42 216.4h1.56M131.7 216.4h1.56M145.72 216.4h1.56M67.88 224.4h1.56M113.02 224.4h1.56M125.48 224.4h1.56M145.72 224.4h1.56M32.07 232.4h1.56M46.08 232.4h1.56M70.99 232.4h3.11M89.67 232.4h1.56M111.47 232.4h1.56M116.14 232.4h3.11M139.49 232.4h1.56M21.17 240.4h1.56M33.62 240.4h1.56M41.41 240.4h1.56M46.08 240.4h1.56M61.65 240.4h1.56M75.66 240.4h1.56M97.45 240.4h1.56M117.69 240.4h1.56M123.92 240.4h1.56M128.59 240.4h1.56M61.65 248.4h1.56M77.22 248.4h1.56M109.91 248.4h3.11M127.03 248.4h1.56M100.57 256.4h1.56M119.25 256.4h1.56M147.27 256.4h1.56M151.94 256.4h1.56M19.61 264.4h1.56M27.4 264.4h1.56M39.85 264.4h1.56M72.55 264.4h1.56M91.23 264.4h1.56M18.06 272.4h1.56M102.12 272.4h1.56M122.36 272.4h1.56M137.93 272.4h1.56M204.42 136.4h1.54M204.42 144.4h1.54M198.27 152.4h1.54M169.04 160.4h1.54M176.74 160.4h1.54M161.35 168.4h1.54M199.81 168.4h1.54M196.73 184.4h1.54M155.2 192.4h1.54M198.27 192.4h1.54M178.27 200.4h1.54M184.43 240.4h1.54M201.35 248.4h1.54M155.2 256.4h1.54M190.58 264.4h1.54M205.96 264.4h1.54M176.74 272.4h1.54M182.89 272.4h1.54M198.27 272.4h1.54M201.35 272.4h1.54M227.8 144.4h1.55M237.1 144.4h1.55M244.85 144.4h1.55M251.05 144.4h1.55M218.5 152.4h1.55M230.9 160.4h1.55M235.55 160.4h3.1M224.7 168.4h1.55M265 176.4h1.55M218.5 184.4h1.55M215.4 192.4h1.55M229.35 192.4h1.55M215.4 200.4h1.55M221.6 200.4h1.55M223.15 208.4h1.55M229.35 216.4h1.55M238.65 216.4h1.55M260.35 216.4h1.55M215.4 224.4h1.55M234 224.4h1.55M221.6 232.4h1.55M263.45 232.4h1.55M238.65 240.4h1.55M260.35 240.4h1.55M244.85 256.4h1.55M257.25 256.4h1.55M240.2 264.4h1.55M254.15 264.4h1.55M237.1 272.4h1.55M261.9 272.4h1.55M33.62 363.8h3.11M49.19 363.8h1.56M134.82 363.8h1.56M148.83 363.8h1.56M16.5 371.8h1.56M39.85 371.8h1.56M100.57 371.8h1.56M105.24 371.8h1.56M18.06 379.8h1.56M47.64 379.8h1.56M137.93 379.8h1.56M103.68 387.8h1.56M77.22 395.8h1.56M105.24 395.8h1.56M108.35 395.8h1.56M114.58 395.8h1.56M120.81 395.8h1.56M80.33 403.8h1.56M18.06 411.8h3.11M50.75 411.8h1.56M53.86 411.8h1.56M136.38 411.8h1.56M155.2 363.8h1.54M173.66 363.8h3.08M205.96 363.8h1.54M164.43 371.8h1.54M170.58 371.8h1.54M181.35 371.8h1.54M155.2 379.8h1.54M161.35 379.8h1.54M202.89 395.8h1.54M230.9 363.8h1.55M247.95 363.8h1.55M223.15 371.8h1.55M258.8 371.8h1.55M224.7 379.8h1.55M227.8 379.8h1.55M241.75 379.8h1.55M227.8 395.8h1.55M232.45 395.8h4.65M251.05 395.8h1.55M255.7 395.8h1.55"/>
<path stroke="#bd9cf9" d="M55.42 86.7h1.56M30.51 102.7h1.56M72.55 102.7h1.56M182.89 110.7h1.54M155.2 126.7h1.54M215.4 86.7h1.55M75.66 136.4h1.56M92.78 136.4h1.56M111.47 136.4h1.56M119.25 136.4h1.56M133.26 136.4h1.56M147.27 136.4h1.56M18.06 144.4h1.56M21.17 144.4h1.56M28.95 144.4h1.56M36.74 144.4h1.56M56.98 152.4h1.56M108.35 152.4h1.56M111.47 152.4h1.56M19.61 160.4h1.56M39.85 160.4h1.56M36.74 168.4h1.56M39.85 168.4h1.56M100.57 168.4h1.56M119.25 168.4h1.56M27.4 176.4h1.56M30.51 176.4h1.56M50.75 176.4h1.56M74.1 176.4h1.56M91.23 176.4h1.56M117.69 176.4h1.56M144.16 176.4h1.56M52.31 184.4h1.56M113.02 184.4h1.56M137.93 184.4h1.56M145.72 184.4h1.56M18.06 192.4h1.56M21.17 192.4h1.56M72.55 192.4h1.56M88.11 192.4h1.56M97.45 192.4h1.56M123.92 192.4h1.56M137.93 192.4h1.56M18.06 200.4h1.56M85 200.4h1.56M128.59 200.4h1.56M75.66 208.4h1.56M106.8 208.4h1.56M67.88 216.4h1.56M99.01 216.4h1.56M151.94 216.4h1.56M105.24 224.4h1.56M147.27 232.4h1.56M58.53 240.4h1.56M66.32 240.4h1.56M116.14 240.4h1.56M122.36 240.4h1.56M136.38 240.4h1.56M141.05 240.4h1.56M55.42 256.4h1.56M77.22 256.4h1.56M103.68 256.4h1.56M125.48 256.4h1.56M133.26 256.4h1.56M144.16 256.4h1.56M67.88 264.4h1.56M58.53 272.4h1.56M64.76 272.4h1.56M99.01 272.4h1.56M127.03 272.4h1.56M159.81 136.4h3.08M182.89 136.4h1.54M192.12 136.4h1.54M195.19 144.4h1.54M158.28 160.4h1.54M170.58 160.4h1.54M199.81 160.4h1.54M204.42 160.4h1.54M193.66 168.4h1.54M159.81 176.4h4.61M170.58 176.4h1.54M193.66 176.4h1.54M159.81 184.4h1.54M195.19 184.4h1.54M199.81 184.4h3.08M187.5 200.4h1.54M199.81 200.4h1.54M161.35 208.4h1.54M199.81 208.4h1.54M202.89 216.4h1.54M170.58 224.4h1.54M190.58 224.4h1.54M169.04 232.4h1.54M181.35 232.4h1.54M187.5 232.4h1.54M179.81 240.4h1.54M196.73 240.4h1.54M159.81 248.4h1.54M176.74 248.4h1.54M190.58 248.4h1.54M196.73 248.4h1.54M161.35 256.4h1.54M165.97 256.4h1.54M187.5 256.4h1.54M161.35 264.4h3.08M204.42 264.4h1.54M161.35 272.4h3.08M167.51 272.4h1.54M192.12 272.4h1.54M223.15 160.4h1.55M240.2 168.4h1.55M230.9 176.4h1.55M227.8 200.4h1.55M243.3 200.4h1.55M224.7 248.4h1.55M229.35 248.4h1.55M240.2 256.4h1.55M221.6 264.4h1.55M39.85 363.8h1.56M56.98 363.8h1.56M32.07 379.8h1.56M102.12 379.8h1.56M113.02 379.8h1.56M128.59 379.8h1.56M159.81 363.8h1.54M172.12 363.8h1.54M156.74 371.8h1.54M158.28 379.8h1.54M190.58 379.8h1.54M205.96 379.8h1.54M205.96 395.8h1.54M156.74 411.8h1.54M159.81 411.8h1.54M164.43 411.8h1.54M169.04 411.8h1.54M173.66 411.8h1.54M176.74 411.8h1.54M223.15 411.8h1.55M227.8 411.8h1.55M232.45 411.8h1.55M255.7 411.8h1.55M266.55 411.8h1.55M269.65 411.8h1.55"/>
<path stroke="#956ef9" d="M161.35 110.7h1.54M25.84 363.8h1.56M158.28 411.8h1.54M179.81 411.8h1.54M199.81 411.8h1.54"/>
<path stroke="#b490f9" d="M18.06 152.4h1.56M33.62 152.4h1.56M109.91 152.4h1.56M103.68 160.4h1.56M114.58 160.4h1.56M88.11 168.4h1.56M120.81 168.4h1.56M25.84 176.4h1.56M122.36 176.4h1.56M18.06 184.4h1.56M92.78 184.4h1.56M94.34 200.4h1.56M53.86 216.4h1.56M85 216.4h1.56M85 240.4h1.56M139.49 240.4h1.56M120.81 248.4h1.56M28.95 256.4h3.11M66.32 256.4h1.56M139.49 256.4h1.56M27.4 272.4h1.56M30.51 272.4h1.56M46.08 272.4h1.56M72.55 272.4h1.56M80.33 272.4h1.56M150.39 272.4h1.56M179.81 136.4h1.54M205.96 136.4h1.54M190.58 152.4h1.54M159.81 160.4h1.54M185.96 160.4h1.54M176.74 176.4h3.08M190.58 176.4h1.54M182.89 192.4h1.54M158.28 208.4h1.54M158.28 216.4h1.54M182.89 224.4h1.54M173.66 232.4h1.54M202.89 240.4h1.54M181.35 248.4h1.54M159.81 256.4h1.54M169.04 256.4h1.54M199.81 256.4h1.54M182.89 264.4h1.54M196.73 264.4h1.54M164.43 272.4h1.54M189.04 272.4h1.54M205.96 272.4h1.54M220.05 240.4h1.55M269.65 256.4h1.55M18.06 363.8h1.56M36.74 363.8h1.56M70.99 363.8h1.56M49.19 379.8h1.56M80.33 379.8h1.56M86.56 379.8h1.56M111.47 379.8h1.56M182.89 363.8h1.54M199.81 363.8h1.54M169.04 395.8h1.54M162.89 411.8h1.54M167.51 411.8h1.54M190.58 411.8h1.54M244.85 379.8h1.55M268.1 379.8h1.55M210.75 411.8h1.55M221.6 411.8h1.55M229.35 411.8h1.55M238.65 411.8h4.65M247.95 411.8h1.55M257.25 411.8h3.1"/>
<path stroke="#aa85f9" d="M123.92 168.4h1.56M67.88 192.4h1.56M134.82 224.4h1.56M25.84 232.4h1.56M94.34 256.4h1.56M131.7 264.4h1.56M158.28 136.4h1.54M170.58 136.4h1.54M181.35 144.4h1.54M162.89 152.4h1.54M193.66 160.4h1.54M196.73 160.4h1.54M196.73 168.4h1.54M204.42 168.4h1.54M156.74 176.4h1.54M182.89 176.4h1.54M184.43 184.4h1.54M170.58 240.4h1.54M170.58 256.4h1.54M47.64 363.8h1.56M89.67 363.8h1.56M41.41 379.8h1.56M94.34 395.8h1.56M156.74 363.8h1.54M202.89 363.8h1.54M170.58 411.8h1.54M175.2 411.8h1.54M204.42 411.8h1.54M209.2 411.8h1.55M216.95 411.8h1.55M246.4 411.8h1.55M265 411.8h1.55"/>
<path stroke="#a179f9" d="M25.84 208.4h1.56M144.16 272.4h1.56M176.74 152.4h1.54M181.35 411.8h1.54M184.43 411.8h1.54M187.5 411.8h3.08M218.5 411.8h1.55"/>
<path stroke="#4029f9" d="M181.35 176.4h1.54M165.97 208.4h1.54M170.58 208.4h1.54M175.2 208.4h1.54M181.35 208.4h3.08M185.96 208.4h1.54M196.73 208.4h1.54M158.28 256.4h1.54M173.66 256.4h1.54M155.2 264.4h1.54M167.51 264.4h1.54M170.58 264.4h1.54M176.74 264.4h1.54M179.81 264.4h1.54M184.43 264.4h1.54M189.04 264.4h1.54M201.35 264.4h1.54"/>
<path stroke="#8a61f9" d="M170.58 363.8h1.54M226.25 411.8h1.55"/>
<path stroke="#7c56f9" d="M234 411.8h1.55"/>
<path stroke="#6d49f9" d="M237.1 411.8h1.55"/>
</g>
<rect x="16.5" y="17" width="137" height="56" fill="none" stroke="#8c8c8c" stroke-width="1"/>
<rect x="155.2" y="17" width="52.3" height="56" fill="none" stroke="#8c8c8c" stroke-width="1"/>
<rect x="209.2" y="17" width="62" height="56" fill="none" stroke="#8c8c8c" stroke-width="1"/>
<rect x="0.8" y="17" width="14.4" height="56" fill="#7671b5" stroke="#8c8c8c" stroke-width="0.8"/>
<text font-size="9.2" text-anchor="middle" font-weight="bold" transform="translate(10.9 45) rotate(-90)">ClusterA</text>
<text x="272.8" y="24.85" font-size="8.9">hig</text>
<text x="272.8" y="32.85" font-size="8.9">LpR1</text>
<text x="272.8" y="40.85" font-size="8.9">Sfxn2</text>
<text x="272.8" y="48.85" font-size="8.9">nolo</text>
<text x="272.8" y="56.85" font-size="8.9">luna</text>
<text x="272.8" y="64.85" font-size="8.9">CG31345</text>
<text x="272.8" y="72.85" font-size="8.9">CG17691</text>
<rect x="16.5" y="74.7" width="137" height="56" fill="none" stroke="#8c8c8c" stroke-width="1"/>
<rect x="155.2" y="74.7" width="52.3" height="56" fill="none" stroke="#8c8c8c" stroke-width="1"/>
<rect x="209.2" y="74.7" width="62" height="56" fill="none" stroke="#8c8c8c" stroke-width="1"/>
<rect x="0.8" y="74.7" width="14.4" height="56" fill="#ffe22b" stroke="#8c8c8c" stroke-width="0.8"/>
<text font-size="9.2" text-anchor="middle" font-weight="bold" transform="translate(10.9 102.7) rotate(-90)">ClusterB</text>
<text x="272.8" y="82.55" font-size="8.9">CG14190</text>
<text x="272.8" y="90.55" font-size="8.9">l(3)80Fj</text>
<text x="272.8" y="98.55" font-size="8.9">Drip</text>
<text x="272.8" y="106.55" font-size="8.9">DIP-lambda</text>
<text x="272.8" y="114.55" font-size="8.9">CG11700</text>
<text x="272.8" y="122.55" font-size="8.9">kirre</text>
<text x="272.8" y="130.55" font-size="8.9">HnRNP-K</text>
<rect x="16.5" y="132.4" width="137" height="144" fill="none" stroke="#8c8c8c" stroke-width="1"/>
<rect x="155.2" y="132.4" width="52.3" height="144" fill="none" stroke="#8c8c8c" stroke-width="1"/>
<rect x="209.2" y="132.4" width="62" height="144" fill="none" stroke="#8c8c8c" stroke-width="1"/>
<rect x="0.8" y="132.4" width="14.4" height="144" fill="#1f8a87" stroke="#8c8c8c" stroke-width="0.8"/>
<text font-size="9.2" text-anchor="middle" font-weight="bold" transform="translate(10.9 204.4) rotate(-90)">ClusterC</text>
<text x="272.8" y="140.25" font-size="8.9">g</text>
<text x="272.8" y="148.25" font-size="8.9">cora</text>
<text x="272.8" y="156.25" font-size="8.9">pyd</text>
<text x="272.8" y="164.25" font-size="8.9">sdt</text>
<text x="272.8" y="172.25" font-size="8.9">cpo</text>
<text x="272.8" y="180.25" font-size="8.9">Ten-a</text>
<text x="272.8" y="188.25" font-size="8.9">sqd</text>
<text x="272.8" y="196.25" font-size="8.9">CG7378</text>
<text x="272.8" y="204.25" font-size="8.9">Smox</text>
<text x="272.8" y="212.25" font-size="8.9">14-3-3zeta</text>
<text x="272.8" y="220.25" font-size="8.9">CG4467</text>
<text x="272.8" y="228.25" font-size="8.9">mei-P26</text>
<text x="272.8" y="236.25" font-size="8.9">Eip75B</text>
<text x="272.8" y="244.25" font-size="8.9">LysRS</text>
<text x="272.8" y="252.25" font-size="8.9">pan</text>
<text x="272.8" y="260.25" font-size="8.9">fs(1)h</text>
<text x="272.8" y="268.25" font-size="8.9">ctp</text>
<text x="272.8" y="276.25" font-size="8.9">pum</text>
<rect x="16.5" y="278.1" width="137" height="80" fill="none" stroke="#8c8c8c" stroke-width="1"/>
<rect x="155.2" y="278.1" width="52.3" height="80" fill="none" stroke="#8c8c8c" stroke-width="1"/>
<rect x="209.2" y="278.1" width="62" height="80" fill="none" stroke="#8c8c8c" stroke-width="1"/>
<rect x="0.8" y="278.1" width="14.4" height="80" fill="#5ec867" stroke="#8c8c8c" stroke-width="0.8"/>
<text font-size="9.2" text-anchor="middle" font-weight="bold" textLength="55.4" lengthAdjust="spacingAndGlyphs" transform="translate(10.9 318.1) rotate(-90)">C&gt;80% WTT1</text>
<text x="272.8" y="285.95" font-size="8.9">CG8209</text>
<text x="272.8" y="293.95" font-size="8.9">CG6903</text>
<text x="272.8" y="301.95" font-size="8.9">CG8042</text>
<text x="272.8" y="309.95" font-size="8.9">CG2915</text>
<text x="272.8" y="317.95" font-size="8.9">CG31301</text>
<text x="272.8" y="325.95" font-size="8.9">msl-2</text>
<text x="272.8" y="333.95" font-size="8.9">CG14903</text>
<text x="272.8" y="341.95" font-size="8.9">CG3558</text>
<text x="272.8" y="349.95" font-size="8.9">CG4562</text>
<text x="272.8" y="357.95" font-size="8.9">tsu</text>
<rect x="16.5" y="359.8" width="137" height="56" fill="none" stroke="#8c8c8c" stroke-width="1"/>
<rect x="155.2" y="359.8" width="52.3" height="56" fill="none" stroke="#8c8c8c" stroke-width="1"/>
<rect x="209.2" y="359.8" width="62" height="56" fill="none" stroke="#8c8c8c" stroke-width="1"/>
<rect x="0.8" y="359.8" width="14.4" height="56" fill="#f5842a" stroke="#8c8c8c" stroke-width="0.8"/>
<text font-size="9.2" text-anchor="middle" font-weight="bold" transform="translate(10.9 387.8) rotate(-90)">INTACT</text>
<text x="272.8" y="367.65" font-size="8.9">CG44247</text>
<text x="272.8" y="375.65" font-size="8.9">CG12531</text>
<text x="272.8" y="383.65" font-size="8.9">CG32204</text>
<text x="272.8" y="391.65" font-size="8.9">Hr38</text>
<text x="272.8" y="399.65" font-size="8.9">jeb</text>
<text x="272.8" y="407.65" font-size="8.9">sr</text>
<text x="272.8" y="415.65" font-size="8.9">svr</text>
<rect x="16.5" y="0.8" width="137" height="14.6" fill="#7671b5" stroke="#8c8c8c" stroke-width="0.8"/>
<text x="85" y="11.7" font-size="10.2" text-anchor="middle" font-weight="bold">ClusterA</text>
<rect x="155.2" y="0.8" width="52.3" height="14.6" fill="#ffe22b" stroke="#8c8c8c" stroke-width="0.8"/>
<text x="181.35" y="11.7" font-size="10.2" text-anchor="middle" font-weight="bold">ClusterB</text>
<rect x="209.2" y="0.8" width="62" height="14.6" fill="#1f8a87" stroke="#8c8c8c" stroke-width="0.8"/>
<text x="240.2" y="11.7" font-size="10.2" text-anchor="middle" font-weight="bold">ClusterC</text>
<rect x="16.5" y="418" width="46.1" height="6.6" fill="#7cae00"/>
<rect x="62.6" y="418" width="3.8" height="6.6" fill="#c77cff"/>
<rect x="66.4" y="418" width="1.8" height="6.6" fill="#00bfc4"/>
<rect x="68.2" y="418" width="10.8" height="6.6" fill="#f8766d"/>
<rect x="79" y="418" width="74.5" height="6.6" fill="#c77cff"/>
<rect x="155.2" y="418" width="10.2" height="6.6" fill="#7cae00"/>
<rect x="165.4" y="418" width="14" height="6.6" fill="#00bfc4"/>
<rect x="179.4" y="418" width="26.6" height="6.6" fill="#f8766d"/>
<rect x="206" y="418" width="1.5" height="6.6" fill="#00bfc4"/>
<rect x="209.2" y="418" width="8.1" height="6.6" fill="#7cae00"/>
<rect x="217.3" y="418" width="3.7" height="6.6" fill="#00bfc4"/>
<rect x="221" y="418" width="12.2" height="6.6" fill="#f8766d"/>
<rect x="233.2" y="418" width="23.3" height="6.6" fill="#00bfc4"/>
<rect x="256.5" y="418" width="1.2" height="6.6" fill="#c77cff"/>
<rect x="257.7" y="418" width="5.3" height="6.6" fill="#00bfc4"/>
<rect x="263" y="418" width="1.7" height="6.6" fill="#c77cff"/>
<rect x="264.7" y="418" width="6.5" height="6.6" fill="#00bfc4"/>
<text x="273" y="424.4" font-size="7.5" font-weight="bold" textLength="35" lengthAdjust="spacingAndGlyphs">Condition</text>
<text x="-0.2" y="13.7" font-size="18.3">A</text>
<defs><linearGradient id="cb" x1="0" y1="0" x2="0" y2="1">
<stop offset="0" stop-color="#ff0000"/>
<stop offset="0.03" stop-color="#ff0000"/>
<stop offset="0.05" stop-color="#ff0000"/>
<stop offset="0.07" stop-color="#ff0000"/>
<stop offset="0.1" stop-color="#ff0000"/>
<stop offset="0.12" stop-color="#ff0000"/>
<stop offset="0.15" stop-color="#ff0000"/>
<stop offset="0.17" stop-color="#ff0000"/>
<stop offset="0.2" stop-color="#ff0000"/>
<stop offset="0.23" stop-color="#ff0000"/>
<stop offset="0.25" stop-color="#ff381d"/>
<stop offset="0.28" stop-color="#ff5535"/>
<stop offset="0.3" stop-color="#ff6c4b"/>
<stop offset="0.33" stop-color="#ff8161"/>
<stop offset="0.35" stop-color="#ff9577"/>
<stop offset="0.38" stop-color="#ffa88d"/>
<stop offset="0.4" stop-color="#ffbaa4"/>
<stop offset="0.42" stop-color="#ffccbb"/>
<stop offset="0.45" stop-color="#ffded3"/>
<stop offset="0.47" stop-color="#fff0eb"/>
<stop offset="0.5" stop-color="#fdfcff"/>
<stop offset="0.53" stop-color="#f1e6ff"/>
<stop offset="0.55" stop-color="#e3d0ff"/>
<stop offset="0.57" stop-color="#d5baff"/>
<stop offset="0.6" stop-color="#c6a5ff"/>
<stop offset="0.62" stop-color="#b690ff"/>
<stop offset="0.65" stop-color="#a57bff"/>
<stop offset="0.68" stop-color="#9265ff"/>
<stop offset="0.7" stop-color="#7c4fff"/>
<stop offset="0.72" stop-color="#6138ff"/>
<stop offset="0.75" stop-color="#3a1cff"/>
<stop offset="0.78" stop-color="#0000ff"/>
<stop offset="0.8" stop-color="#0000ff"/>
<stop offset="0.82" stop-color="#0000ff"/>
<stop offset="0.85" stop-color="#0000ff"/>
<stop offset="0.88" stop-color="#0000ff"/>
<stop offset="0.9" stop-color="#0000ff"/>
<stop offset="0.93" stop-color="#0000ff"/>
<stop offset="0.95" stop-color="#0000ff"/>
<stop offset="0.97" stop-color="#0000ff"/>
<stop offset="1" stop-color="#0000ff"/>
</linearGradient></defs>
<rect x="334.8" y="123.8" width="9.4" height="76.4" fill="url(#cb)"/>
<line x1="334.8" y1="126" x2="337" y2="126" stroke="#fff" stroke-width="0.8"/>
<line x1="342" y1="126" x2="344.2" y2="126" stroke="#fff" stroke-width="0.8"/>
<text x="346.2" y="129.1" font-size="8.6">4</text>
<line x1="334.8" y1="143.85" x2="337" y2="143.85" stroke="#fff" stroke-width="0.8"/>
<line x1="342" y1="143.85" x2="344.2" y2="143.85" stroke="#fff" stroke-width="0.8"/>
<text x="346.2" y="146.95" font-size="8.6">2</text>
<line x1="334.8" y1="161.7" x2="337" y2="161.7" stroke="#fff" stroke-width="0.8"/>
<line x1="342" y1="161.7" x2="344.2" y2="161.7" stroke="#fff" stroke-width="0.8"/>
<text x="346.2" y="164.8" font-size="8.6">0</text>
<line x1="334.8" y1="179.55" x2="337" y2="179.55" stroke="#fff" stroke-width="0.8"/>
<line x1="342" y1="179.55" x2="344.2" y2="179.55" stroke="#fff" stroke-width="0.8"/>
<text x="344.6" y="182.65" font-size="8.6">-2</text>
<line x1="334.8" y1="197.4" x2="337" y2="197.4" stroke="#fff" stroke-width="0.8"/>
<line x1="342" y1="197.4" x2="344.2" y2="197.4" stroke="#fff" stroke-width="0.8"/>
<text x="344.6" y="200.5" font-size="8.6">-4</text>
<text font-size="8.9" text-anchor="middle" font-weight="bold" textLength="77" lengthAdjust="spacingAndGlyphs" transform="translate(329 162) rotate(-90)">Expression  Level</text>
<text x="311" y="241.7" font-size="10.2" font-weight="bold" textLength="48.4" lengthAdjust="spacingAndGlyphs">Condition</text>
<rect x="315.4" y="245.2" width="8.7" height="41.5" fill="#000"/>
<rect x="317.2" y="247" width="5.1" height="7.3" fill="#7cae00"/>
<text x="326.8" y="254" font-size="9.2">Naive</text>
<rect x="317.2" y="257.15" width="5.1" height="7.3" fill="#f8766d"/>
<text x="326.8" y="264.2" font-size="9.2">Adcy1</text>
<rect x="317.2" y="267.3" width="5.1" height="7.3" fill="#00bfc4"/>
<text x="326.8" y="274.4" font-size="9.2" textLength="29.4" lengthAdjust="spacingAndGlyphs">WTT-1</text>
<rect x="317.2" y="277.45" width="5.1" height="7.3" fill="#c77cff"/>
<text x="326.8" y="284.6" font-size="9.2" textLength="29.9" lengthAdjust="spacingAndGlyphs">WTT-2</text>
<text x="365.7" y="15" font-size="18.3">B</text>
<text x="459.2" y="13.8" font-size="12.6" text-anchor="middle" font-weight="bold" textLength="89.4" lengthAdjust="spacingAndGlyphs">Adult-specific</text>
<text x="456.7" y="30.4" font-size="12.6" text-anchor="middle" font-weight="bold" textLength="122.5" lengthAdjust="spacingAndGlyphs">short-term memory</text>
<text x="598" y="13.7" font-size="12.6" text-anchor="middle" font-weight="bold" textLength="92" lengthAdjust="spacingAndGlyphs">Adult-specific</text>
<text x="596.2" y="30.2" font-size="12.6" text-anchor="middle" font-weight="bold" textLength="121.3" lengthAdjust="spacingAndGlyphs">long-term memory</text>
<text x="392.5" y="49" font-size="8.8" textLength="33.7" lengthAdjust="spacingAndGlyphs">Eclosion</text>
<text x="414.6" y="57.4" font-size="8.8">3d</text>
<line x1="393.5" y1="54" x2="393.5" y2="61.3" stroke="#333" stroke-width="0.7"/><path d="M393.5 62.3l-1.6 -3.2h3.2z" fill="#222"/>
<line x1="393.5" y1="61.4" x2="450" y2="61.4" stroke="#222" stroke-width="1.3"/>
<rect x="393.2" y="64.6" width="57.5" height="13" fill="#fff" stroke="#222" stroke-width="0.9"/>
<rect x="450.5" y="64.2" width="68.2" height="13.8" fill="#111"/>
<text x="408.4" y="75.3" font-size="11.6">18</text>
<text x="422.4" y="71.4" font-size="8.4">o</text>
<text x="429.9" y="75.3" font-size="11.6">C</text>
<text x="455.5" y="75.3" font-size="11.6" fill="#fff">29</text>
<text x="469.8" y="71.4" font-size="8" fill="#fff">o</text>
<text x="477" y="75.3" font-size="11.6" fill="#fff" textLength="25" lengthAdjust="spacingAndGlyphs">C KO</text>
<text x="459.2" y="59.9" font-size="8.8">1d</text>
<text x="467.9" y="46.9" font-size="8.8" textLength="31.4" lengthAdjust="spacingAndGlyphs">Training</text>
<text x="476.9" y="57.7" font-size="8.8">(2h)</text>
<text x="502.6" y="59.9" font-size="8.8">1h</text>
<line x1="518.4" y1="54" x2="518.4" y2="61.6" stroke="#333" stroke-width="0.7"/><path d="M518.4 62.6l-1.6 -3.2h3.2z" fill="#222"/>
<text x="508.8" y="40.9" font-size="7.4">STM</text>
<text x="508.8" y="50" font-size="7.4">recall</text>
<text x="536.7" y="47.8" font-size="8.8" textLength="34" lengthAdjust="spacingAndGlyphs">Eclosion</text>
<text x="560.7" y="55.8" font-size="8.8">3d</text>
<line x1="538" y1="54" x2="538" y2="61.3" stroke="#333" stroke-width="0.7"/><path d="M538 62.3l-1.6 -3.2h3.2z" fill="#222"/>
<line x1="538" y1="61" x2="594.2" y2="61" stroke="#222" stroke-width="1"/>
<rect x="537.8" y="64.6" width="57.5" height="12.8" fill="#fff" stroke="#222" stroke-width="0.9"/>
<rect x="595" y="64.2" width="69.3" height="13.5" fill="#111"/>
<text x="553.5" y="75.3" font-size="11.6">18</text>
<text x="567.2" y="71.4" font-size="8.4">o</text>
<text x="574.6" y="75.3" font-size="11.6">C</text>
<text x="599.6" y="75.3" font-size="11.6" fill="#fff">29</text>
<text x="613.8" y="71.4" font-size="8" fill="#fff">o</text>
<text x="619.8" y="75.3" font-size="11.6" fill="#fff" textLength="25.5" lengthAdjust="spacingAndGlyphs">C KO</text>
<text x="600.4" y="59.9" font-size="8.8">1d</text>
<text x="611.4" y="46.9" font-size="8.8" textLength="32.3" lengthAdjust="spacingAndGlyphs">Training</text>
<text x="620.5" y="57.7" font-size="8.8">(7h)</text>
<text x="649.9" y="60.5" font-size="8.8">1d</text>
<line x1="663.5" y1="54" x2="663.5" y2="61.8" stroke="#333" stroke-width="0.7"/><path d="M663.5 62.8l-1.6 -3.2h3.2z" fill="#222"/>
<text x="654.8" y="41.6" font-size="7.5">LTM</text>
<text x="654.8" y="50.9" font-size="7.5">recall</text>
<text x="365.8" y="98.5" font-size="18.3">C</text>
<rect x="394.1" y="86.1" width="39.2" height="11.7" fill="#d9d9d9"/>
<rect x="394.1" y="97.8" width="39.2" height="167.7" fill="#ebebeb"/>
<line x1="394.1" y1="245.4" x2="433.3" y2="245.4" stroke="#fff" stroke-width="0.9"/><line x1="394.1" y1="228.68" x2="433.3" y2="228.68" stroke="#fff" stroke-width="0.45"/><line x1="394.1" y1="211.95" x2="433.3" y2="211.95" stroke="#fff" stroke-width="0.9"/><line x1="394.1" y1="195.22" x2="433.3" y2="195.22" stroke="#fff" stroke-width="0.45"/><line x1="394.1" y1="178.5" x2="433.3" y2="178.5" stroke="#fff" stroke-width="0.9"/><line x1="394.1" y1="161.78" x2="433.3" y2="161.78" stroke="#fff" stroke-width="0.45"/><line x1="394.1" y1="145.05" x2="433.3" y2="145.05" stroke="#fff" stroke-width="0.9"/><line x1="394.1" y1="128.32" x2="433.3" y2="128.32" stroke="#fff" stroke-width="0.45"/><line x1="394.1" y1="111.6" x2="433.3" y2="111.6" stroke="#fff" stroke-width="0.9"/><line x1="404.79" y1="97.8" x2="404.79" y2="265.5" stroke="#fff" stroke-width="0.9"/><line x1="422.61" y1="97.8" x2="422.61" y2="265.5" stroke="#fff" stroke-width="0.9"/>
<text x="413.7" y="94.15" font-size="6.1" text-anchor="middle" font-weight="bold" fill="#1a1a1a">CTRL</text>
<line x1="404.79" y1="111.5" x2="404.79" y2="112.6" stroke="#222" stroke-width="0.8"/>
<line x1="404.79" y1="117.6" x2="404.79" y2="126" stroke="#222" stroke-width="0.8"/>
<rect x="398.11" y="112.6" width="13.36" height="5" fill="#4b0f62" stroke="#2a2a2a" stroke-width="0.6"/>
<line x1="398.11" y1="114.6" x2="411.47" y2="114.6" stroke="#3a3a3a" stroke-width="1.1"/>
<line x1="422.61" y1="113.8" x2="422.61" y2="130.9" stroke="#222" stroke-width="0.8"/>
<line x1="422.61" y1="156.9" x2="422.61" y2="169" stroke="#222" stroke-width="0.8"/>
<rect x="415.93" y="130.9" width="13.36" height="26" fill="#4b0f62" stroke="#2a2a2a" stroke-width="0.6"/>
<line x1="415.93" y1="145.9" x2="429.29" y2="145.9" stroke="#3a3a3a" stroke-width="1.1"/>
<path d="M401.75 126h0M406.96 125.16h0M404.58 124.67h0M402.41 124.46h0M406.32 123.95h0M402.84 122.94h0M401.99 122.34h0M405.42 122.3h0M407.32 120.64h0M401.76 120.52h0M406.74 120.3h0M402.81 119.54h0M402.19 118.78h0M401.71 118.74h0M403.47 118.37h0M406.24 117.36h0M404.75 117.22h0M407.05 117.09h0M402.98 116.75h0M403.61 116.68h0M403.24 116.44h0M407.85 116.27h0M407.61 116.07h0M403.77 115.91h0M404.38 115.77h0M403.6 115.46h0M406.37 115.43h0M401.85 114.95h0M402.02 114.88h0M404.18 114.72h0M403.16 114.54h0M407 114.47h0M406.34 114.4h0M405.08 114.02h0M405.82 114.01h0M406.02 113.98h0M406.59 113.7h0M407.53 113.68h0M402.55 113.42h0M405.6 113.35h0M402.51 113.34h0M404.43 113.16h0M406.62 112.98h0M407.32 112.81h0M406.45 112.57h0M401.82 112.53h0M403.89 112.52h0M402.63 112.5h0M407.98 112.4h0M402.51 112.2h0M403.15 112.18h0M403.88 112.13h0M401.98 112.09h0M407.16 112.06h0M405.66 111.84h0M402.61 111.81h0M404.78 111.79h0M402.09 111.72h0M405.5 111.68h0M403.07 111.5h0M423.83 169h0M424.18 168.57h0M422.99 167.04h0M424.42 166.15h0M422.28 165.96h0M423.03 164.65h0M419.81 164.42h0M422.96 164.08h0M424.62 163h0M423.92 162.11h0M424.55 161.12h0M422.58 160.44h0M425.05 160.43h0M420.1 158.84h0M425.01 157.37h0M421.79 156.76h0M419.99 156.75h0M423.37 156.41h0M422.32 154.88h0M422.15 154.6h0M424.86 154.4h0M420.29 153.4h0M423.36 153.4h0M422.06 151.5h0M422.79 150.96h0M422.61 150.14h0M420.27 149.66h0M422.69 149.54h0M424.93 148.34h0M420.5 148.14h0M419.48 147.84h0M419.84 146.75h0M422.35 145.9h0M425.65 145.45h0M419.69 143.82h0M425.75 142.9h0M422.84 142.78h0M420.18 141.01h0M422.09 140.68h0M420.74 138.98h0M423.98 138.92h0M422.87 136.93h0M421.25 136.86h0M421.04 135.63h0M424.96 134.44h0M424.31 133.86h0M422.2 133.51h0M422 132.03h0M424.13 130.99h0M425.62 130.55h0M419.92 129.2h0M420.43 128.93h0M421.73 127.83h0M422.66 125.15h0M419.87 124.13h0M419.75 123.45h0M420.81 121.73h0M421.88 121.15h0M424.14 121.05h0M423.31 119.22h0M419.6 118.94h0M419.7 116.85h0M422.3 116.72h0M425.01 116.25h0M425.27 113.8h0M421.75 198.3h0M425.09 207.3h0" stroke="#000" stroke-opacity="0.78" stroke-width="2.5" stroke-linecap="round" fill="none"/>
<path d="M404.79 112.2v-1.2H422.61v1.2" stroke="#222" stroke-width="0.7" fill="none"/>
<text x="413.7" y="108.9" font-size="7.5" text-anchor="middle" fill="#111">5.6e-20</text>
<text x="404.79" y="254.8" font-size="7" text-anchor="middle" fill="#111">60</text>
<text x="422.61" y="254.8" font-size="7" text-anchor="middle" fill="#111">67</text>
<line x1="404.79" y1="265.5" x2="404.79" y2="267.3" stroke="#333" stroke-width="0.6"/>
<text x="404.79" y="273.8" font-size="6" text-anchor="middle" fill="#4d4d4d">N</text>
<line x1="422.61" y1="265.5" x2="422.61" y2="267.3" stroke="#333" stroke-width="0.6"/>
<text x="422.61" y="273.8" font-size="6" text-anchor="middle" fill="#4d4d4d">T</text>
<rect x="437.2" y="86.1" width="39.2" height="11.7" fill="#d9d9d9"/>
<rect x="437.2" y="97.8" width="39.2" height="167.7" fill="#ebebeb"/>
<line x1="437.2" y1="245.4" x2="476.4" y2="245.4" stroke="#fff" stroke-width="0.9"/><line x1="437.2" y1="228.68" x2="476.4" y2="228.68" stroke="#fff" stroke-width="0.45"/><line x1="437.2" y1="211.95" x2="476.4" y2="211.95" stroke="#fff" stroke-width="0.9"/><line x1="437.2" y1="195.22" x2="476.4" y2="195.22" stroke="#fff" stroke-width="0.45"/><line x1="437.2" y1="178.5" x2="476.4" y2="178.5" stroke="#fff" stroke-width="0.9"/><line x1="437.2" y1="161.78" x2="476.4" y2="161.78" stroke="#fff" stroke-width="0.45"/><line x1="437.2" y1="145.05" x2="476.4" y2="145.05" stroke="#fff" stroke-width="0.9"/><line x1="437.2" y1="128.32" x2="476.4" y2="128.32" stroke="#fff" stroke-width="0.45"/><line x1="437.2" y1="111.6" x2="476.4" y2="111.6" stroke="#fff" stroke-width="0.9"/><line x1="447.89" y1="97.8" x2="447.89" y2="265.5" stroke="#fff" stroke-width="0.9"/><line x1="465.71" y1="97.8" x2="465.71" y2="265.5" stroke="#fff" stroke-width="0.9"/>
<text x="448.09" y="94.15" font-size="6.1" font-weight="bold" fill="#1a1a1a">Hr38</text>
<text x="462.05" y="94.27" font-size="6.71" font-weight="bold" fill="#111" textLength="3.35" lengthAdjust="spacingAndGlyphs" font-family="DejaVu Sans, sans-serif" stroke="#111" stroke-width="0.25">↓</text>
<line x1="447.89" y1="111.5" x2="447.89" y2="114.3" stroke="#222" stroke-width="0.8"/>
<line x1="447.89" y1="125.9" x2="447.89" y2="140.6" stroke="#222" stroke-width="0.8"/>
<rect x="441.21" y="114.3" width="13.36" height="11.6" fill="#f28a1e" stroke="#2a2a2a" stroke-width="0.6"/>
<line x1="441.21" y1="118.8" x2="454.57" y2="118.8" stroke="#3a3a3a" stroke-width="1.1"/>
<line x1="465.71" y1="116.8" x2="465.71" y2="143.4" stroke="#222" stroke-width="0.8"/>
<line x1="465.71" y1="175.2" x2="465.71" y2="204.8" stroke="#222" stroke-width="0.8"/>
<rect x="459.03" y="143.4" width="13.36" height="31.8" fill="#f28a1e" stroke="#2a2a2a" stroke-width="0.6"/>
<line x1="459.03" y1="157.7" x2="472.39" y2="157.7" stroke="#3a3a3a" stroke-width="1.1"/>
<path d="M445.71 140.6h0M450.69 137.39h0M447.82 134.11h0M446.82 133.93h0M445.77 132.9h0M448.49 129.03h0M447.24 128.67h0M445.5 125h0M444.9 123.63h0M447.2 122.48h0M448.42 122.35h0M448.01 122.27h0M450.45 119.34h0M450.53 118.55h0M450.68 117.76h0M449.81 117.69h0M447.75 116.93h0M448.04 116.75h0M447.23 116.4h0M447.25 115.59h0M444.96 114.29h0M449.8 114.27h0M446.27 113.52h0M444.88 113.3h0M447.68 112.95h0M449.29 112.42h0M447.48 112.05h0M447.02 111.5h0M464.78 204.8h0M466.71 201.33h0M465.34 199.56h0M463.89 190.11h0M468.2 186.75h0M467.28 179.94h0M468.54 179.63h0M467.77 175.82h0M468.38 173.6h0M463.33 173.18h0M462.61 167.65h0M463.78 167.4h0M465.15 165.96h0M466.91 163.28h0M465.32 159.57h0M465.79 157.49h0M467.38 154.55h0M462.96 151.64h0M466.85 151.16h0M462.82 150.57h0M464.1 147.58h0M467.13 146.86h0M466.88 143.93h0M465.1 141.41h0M464.39 137.27h0M467.81 136.58h0M464.27 128.75h0M462.71 124.61h0M464.09 120h0M462.64 116.8h0M467.7 225.4h0" stroke="#000" stroke-opacity="0.78" stroke-width="2.5" stroke-linecap="round" fill="none"/>
<path d="M447.89 112.2v-1.2H465.71v1.2" stroke="#222" stroke-width="0.7" fill="none"/>
<text x="456.8" y="108.9" font-size="7.5" text-anchor="middle" fill="#111">7.82e-10</text>
<text x="447.89" y="254.8" font-size="7" text-anchor="middle" fill="#111">28</text>
<text x="465.71" y="254.8" font-size="7" text-anchor="middle" fill="#111">31</text>
<line x1="447.89" y1="265.5" x2="447.89" y2="267.3" stroke="#333" stroke-width="0.6"/>
<text x="447.89" y="273.8" font-size="6" text-anchor="middle" fill="#4d4d4d">N</text>
<line x1="465.71" y1="265.5" x2="465.71" y2="267.3" stroke="#333" stroke-width="0.6"/>
<text x="465.71" y="273.8" font-size="6" text-anchor="middle" fill="#4d4d4d">T</text>
<rect x="480.3" y="86.1" width="39.2" height="11.7" fill="#d9d9d9"/>
<rect x="480.3" y="97.8" width="39.2" height="167.7" fill="#ebebeb"/>
<line x1="480.3" y1="245.4" x2="519.5" y2="245.4" stroke="#fff" stroke-width="0.9"/><line x1="480.3" y1="228.68" x2="519.5" y2="228.68" stroke="#fff" stroke-width="0.45"/><line x1="480.3" y1="211.95" x2="519.5" y2="211.95" stroke="#fff" stroke-width="0.9"/><line x1="480.3" y1="195.22" x2="519.5" y2="195.22" stroke="#fff" stroke-width="0.45"/><line x1="480.3" y1="178.5" x2="519.5" y2="178.5" stroke="#fff" stroke-width="0.9"/><line x1="480.3" y1="161.78" x2="519.5" y2="161.78" stroke="#fff" stroke-width="0.45"/><line x1="480.3" y1="145.05" x2="519.5" y2="145.05" stroke="#fff" stroke-width="0.9"/><line x1="480.3" y1="128.32" x2="519.5" y2="128.32" stroke="#fff" stroke-width="0.45"/><line x1="480.3" y1="111.6" x2="519.5" y2="111.6" stroke="#fff" stroke-width="0.9"/><line x1="490.99" y1="97.8" x2="490.99" y2="265.5" stroke="#fff" stroke-width="0.9"/><line x1="508.81" y1="97.8" x2="508.81" y2="265.5" stroke="#fff" stroke-width="0.9"/>
<text x="495.09" y="94.15" font-size="6.1" font-weight="bold" fill="#1a1a1a">sr</text>
<text x="501.26" y="94.27" font-size="6.71" font-weight="bold" fill="#111" textLength="3.35" lengthAdjust="spacingAndGlyphs" font-family="DejaVu Sans, sans-serif" stroke="#111" stroke-width="0.25">↓</text>
<line x1="490.99" y1="112" x2="490.99" y2="116.3" stroke="#222" stroke-width="0.8"/>
<line x1="490.99" y1="125.9" x2="490.99" y2="137.6" stroke="#222" stroke-width="0.8"/>
<rect x="484.31" y="116.3" width="13.36" height="9.6" fill="#3d74c1" stroke="#2a2a2a" stroke-width="0.6"/>
<line x1="484.31" y1="120.1" x2="497.67" y2="120.1" stroke="#3a3a3a" stroke-width="1.1"/>
<line x1="508.81" y1="112.6" x2="508.81" y2="134.4" stroke="#222" stroke-width="0.8"/>
<line x1="508.81" y1="182" x2="508.81" y2="244.9" stroke="#222" stroke-width="0.8"/>
<rect x="502.13" y="134.4" width="13.36" height="47.6" fill="#3d74c1" stroke="#2a2a2a" stroke-width="0.6"/>
<line x1="502.13" y1="146.9" x2="515.49" y2="146.9" stroke="#3a3a3a" stroke-width="1.1"/>
<path d="M491.09 137.6h0M492.97 135.8h0M493.41 134.97h0M488.77 134.58h0M491.74 132.92h0M491.82 132.58h0M488.76 131.42h0M493.13 131.08h0M491.33 129.4h0M493.95 129.28h0M488.98 127.8h0M491.15 125.79h0M489.86 125.54h0M491.9 125.31h0M491.68 124.33h0M491.07 123.8h0M489.87 123.6h0M491.02 123.21h0M490.17 122.31h0M493.49 121.73h0M490.74 121.47h0M490.83 121.45h0M489.45 120.97h0M489.42 119.9h0M493.9 119.62h0M489.8 119.15h0M493.35 118.91h0M491.6 118.87h0M494.07 118.77h0M488.84 117.86h0M493.82 117.68h0M492.73 117.45h0M491.43 117.05h0M492.33 116.96h0M492.41 116.66h0M490.66 116.14h0M491.85 115.86h0M489.25 115.29h0M487.93 114.73h0M492.12 114.48h0M490.83 114.44h0M493.59 114.12h0M489.48 113.37h0M493.03 113.27h0M494.1 112.91h0M493.54 112.65h0M493.96 112h0M508.4 244.9h0M511.22 242.12h0M507.66 237.52h0M509.6 232.25h0M511.03 230.61h0M510.16 226.28h0M509.58 223.56h0M511.82 212.29h0M506.17 210.79h0M506.26 205.75h0M509.14 203.4h0M511.72 196.64h0M510 192.11h0M507.59 192.05h0M506.3 186.86h0M508.48 186.65h0M508.68 181.48h0M508.61 179.58h0M509.57 176.9h0M507.36 174.58h0M511.24 171.01h0M507.45 170.08h0M506.29 167.88h0M507.84 165.11h0M511.6 162.96h0M506.63 162.92h0M507.39 160.41h0M511.54 153.86h0M507.84 152.87h0M511 150.14h0M505.9 148.41h0M511.3 146.82h0M507.13 145.8h0M506.76 145.31h0M510.36 144.48h0M511.94 143.38h0M511.75 142.62h0M510.42 142.37h0M511.46 141.42h0M511.93 141.39h0M509.15 140.16h0M506.53 138.05h0M511.05 137.4h0M508.14 137.22h0M507.61 136.04h0M508.81 135.32h0M505.83 135.02h0M505.73 132.84h0M507.3 132.46h0M509.42 132.42h0M510.41 129.8h0M511.74 128.21h0M510.85 126.49h0M511.63 125.89h0M509.68 125.18h0M510.31 122.52h0M509.37 120.2h0M506.13 119.65h0M506.01 117.41h0M510.47 117.25h0M506.9 115.87h0M510.66 115.03h0M508.58 112.6h0" stroke="#000" stroke-opacity="0.78" stroke-width="2.5" stroke-linecap="round" fill="none"/>
<path d="M490.99 112.2v-1.2H508.81v1.2" stroke="#222" stroke-width="0.7" fill="none"/>
<text x="499.9" y="108.9" font-size="7.5" text-anchor="middle" fill="#111">8.3e-10</text>
<text x="490.99" y="254.8" font-size="7" text-anchor="middle" fill="#111">47</text>
<text x="508.81" y="254.8" font-size="7" text-anchor="middle" fill="#111">63</text>
<line x1="490.99" y1="265.5" x2="490.99" y2="267.3" stroke="#333" stroke-width="0.6"/>
<text x="490.99" y="273.8" font-size="6" text-anchor="middle" fill="#4d4d4d">N</text>
<line x1="508.81" y1="265.5" x2="508.81" y2="267.3" stroke="#333" stroke-width="0.6"/>
<text x="508.81" y="273.8" font-size="6" text-anchor="middle" fill="#4d4d4d">T</text>
<rect x="538.8" y="86.1" width="39.2" height="11.7" fill="#d9d9d9"/>
<rect x="538.8" y="97.8" width="39.2" height="167.7" fill="#ebebeb"/>
<line x1="538.8" y1="245.4" x2="578" y2="245.4" stroke="#fff" stroke-width="0.9"/><line x1="538.8" y1="228.68" x2="578" y2="228.68" stroke="#fff" stroke-width="0.45"/><line x1="538.8" y1="211.95" x2="578" y2="211.95" stroke="#fff" stroke-width="0.9"/><line x1="538.8" y1="195.22" x2="578" y2="195.22" stroke="#fff" stroke-width="0.45"/><line x1="538.8" y1="178.5" x2="578" y2="178.5" stroke="#fff" stroke-width="0.9"/><line x1="538.8" y1="161.78" x2="578" y2="161.78" stroke="#fff" stroke-width="0.45"/><line x1="538.8" y1="145.05" x2="578" y2="145.05" stroke="#fff" stroke-width="0.9"/><line x1="538.8" y1="128.32" x2="578" y2="128.32" stroke="#fff" stroke-width="0.45"/><line x1="538.8" y1="111.6" x2="578" y2="111.6" stroke="#fff" stroke-width="0.9"/><line x1="549.49" y1="97.8" x2="549.49" y2="265.5" stroke="#fff" stroke-width="0.9"/><line x1="567.31" y1="97.8" x2="567.31" y2="265.5" stroke="#fff" stroke-width="0.9"/>
<text x="558.4" y="94.15" font-size="6.1" text-anchor="middle" font-weight="bold" fill="#1a1a1a">CTRL</text>
<line x1="549.49" y1="111.5" x2="549.49" y2="114.6" stroke="#222" stroke-width="0.8"/>
<line x1="549.49" y1="122.6" x2="549.49" y2="133.9" stroke="#222" stroke-width="0.8"/>
<rect x="542.81" y="114.6" width="13.36" height="8" fill="#4b0f62" stroke="#2a2a2a" stroke-width="0.6"/>
<line x1="542.81" y1="118" x2="556.17" y2="118" stroke="#3a3a3a" stroke-width="1.1"/>
<line x1="567.31" y1="112.6" x2="567.31" y2="132.1" stroke="#222" stroke-width="0.8"/>
<line x1="567.31" y1="158.2" x2="567.31" y2="189" stroke="#222" stroke-width="0.8"/>
<rect x="560.63" y="132.1" width="13.36" height="26.1" fill="#4b0f62" stroke="#2a2a2a" stroke-width="0.6"/>
<line x1="560.63" y1="143.9" x2="573.99" y2="143.9" stroke="#3a3a3a" stroke-width="1.1"/>
<path d="M551.66 133.9h0M551.28 132.74h0M552.27 132.23h0M547.96 132.15h0M550.78 131.13h0M547.1 130.34h0M549.72 129.57h0M547 128.46h0M549.75 128.25h0M549.76 127.29h0M548.51 126.3h0M548.53 125.72h0M550.84 125.08h0M549.37 125.02h0M548.9 124.18h0M547.01 123.43h0M548.1 122.82h0M551.71 122.46h0M552.51 122.08h0M548.68 121.78h0M551.86 121.32h0M551.88 120.92h0M547.69 120.83h0M548.04 120.67h0M550.75 120.44h0M548.25 120.03h0M552.4 119.81h0M548.63 119.31h0M550.96 118.75h0M550.82 118.64h0M547.66 118.57h0M551.83 118.46h0M548.39 118.15h0M547 117.71h0M546.61 117.54h0M549.18 117.26h0M550.34 117.16h0M548.03 116.96h0M551.68 116.52h0M548 116.37h0M551.71 116.19h0M546.5 115.97h0M547.97 115.78h0M547.31 115.71h0M549.16 115.31h0M548.54 115.1h0M548.82 114.67h0M551.74 114.47h0M550 114.46h0M550.17 114.19h0M548.79 114.09h0M551.46 114.02h0M549.5 113.68h0M551.07 113.62h0M552.14 113.41h0M550.21 113.31h0M549.08 113.18h0M547.98 112.59h0M552.13 112.46h0M551.19 112.28h0M551.41 112.25h0M547.71 112.02h0M549.09 111.94h0M551.95 111.5h0M568.35 189h0M567.8 184.52h0M567.4 183.85h0M568.13 183.39h0M567.63 180.65h0M566.26 180.09h0M568.22 175.26h0M564.64 174.36h0M567.17 173.01h0M567.01 171.07h0M565.47 167.58h0M567.74 166.85h0M568.4 163.98h0M564.91 160.72h0M566.01 160h0M564.51 159.85h0M567.93 156.37h0M564.63 155.81h0M565.58 155.29h0M566.98 154.88h0M567 153.4h0M564.32 152.9h0M570.17 152.59h0M565.58 151.66h0M568.01 150.9h0M565.53 149.7h0M567.92 148.61h0M566.37 146.83h0M566.15 146.03h0M567.15 145.08h0M567.86 144.34h0M567.94 143.69h0M568.52 142.96h0M565.83 142.77h0M564.7 141.38h0M565.73 141.24h0M566.2 140.51h0M568 139.67h0M566.76 138.39h0M566.1 137.07h0M564.74 136.95h0M567.93 135.63h0M564.81 135.46h0M567.42 134.77h0M568.51 133.67h0M568.1 133.64h0M565.13 132.19h0M566.39 130.59h0M570.13 129.67h0M564.69 128.6h0M568.45 126.16h0M566.9 125.6h0M568.04 124.65h0M566.63 124.32h0M564.9 121.45h0M567.71 120.89h0M564.15 119.38h0M569.64 118.14h0M569.22 115.77h0M566.5 115.44h0M567.55 114.04h0M567.49 112.6h0M570.38 200.8h0M564.39 201.5h0" stroke="#000" stroke-opacity="0.78" stroke-width="2.5" stroke-linecap="round" fill="none"/>
<path d="M549.49 112.2v-1.2H567.31v1.2" stroke="#222" stroke-width="0.7" fill="none"/>
<text x="558.4" y="108.9" font-size="7.5" text-anchor="middle" fill="#111">2.86e-18</text>
<text x="549.49" y="254.8" font-size="7" text-anchor="middle" fill="#111">64</text>
<text x="567.31" y="254.8" font-size="7" text-anchor="middle" fill="#111">64</text>
<line x1="549.49" y1="265.5" x2="549.49" y2="267.3" stroke="#333" stroke-width="0.6"/>
<text x="549.49" y="273.8" font-size="6" text-anchor="middle" fill="#4d4d4d">N</text>
<line x1="567.31" y1="265.5" x2="567.31" y2="267.3" stroke="#333" stroke-width="0.6"/>
<text x="567.31" y="273.8" font-size="6" text-anchor="middle" fill="#4d4d4d">T</text>
<rect x="581.9" y="86.1" width="39.2" height="11.7" fill="#d9d9d9"/>
<rect x="581.9" y="97.8" width="39.2" height="167.7" fill="#ebebeb"/>
<line x1="581.9" y1="245.4" x2="621.1" y2="245.4" stroke="#fff" stroke-width="0.9"/><line x1="581.9" y1="228.68" x2="621.1" y2="228.68" stroke="#fff" stroke-width="0.45"/><line x1="581.9" y1="211.95" x2="621.1" y2="211.95" stroke="#fff" stroke-width="0.9"/><line x1="581.9" y1="195.22" x2="621.1" y2="195.22" stroke="#fff" stroke-width="0.45"/><line x1="581.9" y1="178.5" x2="621.1" y2="178.5" stroke="#fff" stroke-width="0.9"/><line x1="581.9" y1="161.78" x2="621.1" y2="161.78" stroke="#fff" stroke-width="0.45"/><line x1="581.9" y1="145.05" x2="621.1" y2="145.05" stroke="#fff" stroke-width="0.9"/><line x1="581.9" y1="128.32" x2="621.1" y2="128.32" stroke="#fff" stroke-width="0.45"/><line x1="581.9" y1="111.6" x2="621.1" y2="111.6" stroke="#fff" stroke-width="0.9"/><line x1="592.59" y1="97.8" x2="592.59" y2="265.5" stroke="#fff" stroke-width="0.9"/><line x1="610.41" y1="97.8" x2="610.41" y2="265.5" stroke="#fff" stroke-width="0.9"/>
<text x="592.79" y="94.15" font-size="6.1" font-weight="bold" fill="#1a1a1a">Hr38</text>
<text x="606.75" y="94.27" font-size="6.71" font-weight="bold" fill="#111" textLength="3.35" lengthAdjust="spacingAndGlyphs" font-family="DejaVu Sans, sans-serif" stroke="#111" stroke-width="0.25">↓</text>
<line x1="592.59" y1="115.1" x2="592.59" y2="123.1" stroke="#222" stroke-width="0.8"/>
<line x1="592.59" y1="133.9" x2="592.59" y2="142.1" stroke="#222" stroke-width="0.8"/>
<rect x="585.91" y="123.1" width="13.36" height="10.8" fill="#f28a1e" stroke="#2a2a2a" stroke-width="0.6"/>
<line x1="585.91" y1="128.1" x2="599.27" y2="128.1" stroke="#3a3a3a" stroke-width="1.1"/>
<line x1="610.41" y1="115.1" x2="610.41" y2="121.3" stroke="#222" stroke-width="0.8"/>
<line x1="610.41" y1="143.1" x2="610.41" y2="159.7" stroke="#222" stroke-width="0.8"/>
<rect x="603.73" y="121.3" width="13.36" height="21.8" fill="#f28a1e" stroke="#2a2a2a" stroke-width="0.6"/>
<line x1="603.73" y1="128.9" x2="617.09" y2="128.9" stroke="#3a3a3a" stroke-width="1.1"/>
<path d="M591.47 142.1h0M595.78 140.97h0M595.59 139.27h0M593.68 138.51h0M590.25 138.27h0M589.43 138.26h0M590.99 136.02h0M595.44 135.65h0M594.54 135.38h0M592.13 133.55h0M594.26 133.2h0M595.17 132.78h0M591.31 132.21h0M594.99 131.2h0M591.12 130.99h0M591.49 130.14h0M589.68 128.76h0M590.42 128.69h0M592.92 128.47h0M589.54 127.53h0M592.88 126.48h0M590.48 126h0M594.18 125.71h0M590.21 124.88h0M590.72 124.52h0M591.11 124.08h0M593.12 123.87h0M594.57 123.69h0M594.21 121.97h0M594.13 121.31h0M593.75 120.23h0M592.87 119.75h0M591.58 118.71h0M590.54 118.21h0M594.92 116.47h0M592.01 116.34h0M593.55 115.1h0M589.83 151.4h0M591.7 151.6h0M611.92 159.7h0M609.9 156.97h0M608.89 152.44h0M613.17 152.3h0M612.61 148.8h0M609.48 147.99h0M610.73 144.94h0M613.16 142.52h0M608.6 140.01h0M613.03 139.35h0M612.87 135.03h0M611.86 132.2h0M611.6 132.11h0M611.59 130.42h0M610.69 128.39h0M610.94 127.68h0M608.47 126.19h0M610.81 126h0M611.52 123.42h0M610.32 123.15h0M611.56 122.01h0M610.14 120.8h0M612.35 120.15h0M611.82 119.11h0M607.78 117.5h0M612.13 117.1h0M609.03 116.77h0M607.73 115.1h0" stroke="#000" stroke-opacity="0.78" stroke-width="2.5" stroke-linecap="round" fill="none"/>
<path d="M592.59 113v-1.2H610.41v1.2" stroke="#222" stroke-width="0.7" fill="none"/>
<text x="601.5" y="109.7" font-size="7.5" text-anchor="middle" fill="#111">0.554</text>
<text x="592.59" y="254.8" font-size="7" text-anchor="middle" fill="#111">39</text>
<text x="610.41" y="254.8" font-size="7" text-anchor="middle" fill="#111">28</text>
<line x1="592.59" y1="265.5" x2="592.59" y2="267.3" stroke="#333" stroke-width="0.6"/>
<text x="592.59" y="273.8" font-size="6" text-anchor="middle" fill="#4d4d4d">N</text>
<line x1="610.41" y1="265.5" x2="610.41" y2="267.3" stroke="#333" stroke-width="0.6"/>
<text x="610.41" y="273.8" font-size="6" text-anchor="middle" fill="#4d4d4d">T</text>
<rect x="625" y="86.1" width="39.2" height="11.7" fill="#d9d9d9"/>
<rect x="625" y="97.8" width="39.2" height="167.7" fill="#ebebeb"/>
<line x1="625" y1="245.4" x2="664.2" y2="245.4" stroke="#fff" stroke-width="0.9"/><line x1="625" y1="228.68" x2="664.2" y2="228.68" stroke="#fff" stroke-width="0.45"/><line x1="625" y1="211.95" x2="664.2" y2="211.95" stroke="#fff" stroke-width="0.9"/><line x1="625" y1="195.22" x2="664.2" y2="195.22" stroke="#fff" stroke-width="0.45"/><line x1="625" y1="178.5" x2="664.2" y2="178.5" stroke="#fff" stroke-width="0.9"/><line x1="625" y1="161.78" x2="664.2" y2="161.78" stroke="#fff" stroke-width="0.45"/><line x1="625" y1="145.05" x2="664.2" y2="145.05" stroke="#fff" stroke-width="0.9"/><line x1="625" y1="128.32" x2="664.2" y2="128.32" stroke="#fff" stroke-width="0.45"/><line x1="625" y1="111.6" x2="664.2" y2="111.6" stroke="#fff" stroke-width="0.9"/><line x1="635.69" y1="97.8" x2="635.69" y2="265.5" stroke="#fff" stroke-width="0.9"/><line x1="653.51" y1="97.8" x2="653.51" y2="265.5" stroke="#fff" stroke-width="0.9"/>
<text x="639.79" y="94.15" font-size="6.1" font-weight="bold" fill="#1a1a1a">sr</text>
<text x="645.96" y="94.27" font-size="6.71" font-weight="bold" fill="#111" textLength="3.35" lengthAdjust="spacingAndGlyphs" font-family="DejaVu Sans, sans-serif" stroke="#111" stroke-width="0.25">↓</text>
<line x1="635.69" y1="113.1" x2="635.69" y2="127.1" stroke="#222" stroke-width="0.8"/>
<line x1="635.69" y1="144.4" x2="635.69" y2="153.2" stroke="#222" stroke-width="0.8"/>
<rect x="629.01" y="127.1" width="13.36" height="17.3" fill="#3d74c1" stroke="#2a2a2a" stroke-width="0.6"/>
<line x1="629.01" y1="135.1" x2="642.37" y2="135.1" stroke="#3a3a3a" stroke-width="1.1"/>
<line x1="653.51" y1="112.6" x2="653.51" y2="125.1" stroke="#222" stroke-width="0.8"/>
<line x1="653.51" y1="144.4" x2="653.51" y2="166.5" stroke="#222" stroke-width="0.8"/>
<rect x="646.83" y="125.1" width="13.36" height="19.3" fill="#3d74c1" stroke="#2a2a2a" stroke-width="0.6"/>
<line x1="646.83" y1="134.4" x2="660.19" y2="134.4" stroke="#3a3a3a" stroke-width="1.1"/>
<path d="M635.87 153.2h0M637.77 151.89h0M633.99 150.09h0M635.45 149.45h0M638.82 148.6h0M634.43 145.74h0M635.08 145.68h0M636.38 143.58h0M638.86 142.93h0M633.66 140.93h0M636.91 140.67h0M635.14 137.87h0M635.06 137.21h0M634.13 136.35h0M635.47 135.83h0M636.17 133.33h0M635 133.28h0M635.73 131.15h0M636.56 130.58h0M637.94 129.77h0M636.08 129.76h0M634.94 126.39h0M638.64 123.48h0M633.6 122.09h0M632.78 121.87h0M638.3 120.14h0M634.19 118.31h0M633.46 118.04h0M634.96 113.1h0M634.69 172.2h0M654.34 166.5h0M654.36 161.15h0M650.32 160.22h0M653.64 159.49h0M656.32 156.27h0M650.49 149.55h0M651.19 148.88h0M650.68 147.3h0M653.1 143.29h0M652.77 141.64h0M655.88 141.62h0M650.73 139.93h0M651.59 139.55h0M656.31 138.47h0M650.43 136.6h0M651.97 136.38h0M652.83 135.05h0M650.31 134.12h0M652.15 132.79h0M654.17 130.1h0M654.25 129.81h0M654.21 129.09h0M654.47 128.05h0M654.24 125.91h0M650.53 124.17h0M654.5 123.74h0M654.05 121.89h0M651.7 121.62h0M652.99 118.39h0M651.83 116.74h0M655.86 116.73h0M652.09 115.83h0M651.35 112.6h0M655.41 179h0" stroke="#000" stroke-opacity="0.78" stroke-width="2.5" stroke-linecap="round" fill="none"/>
<path d="M635.69 113v-1.2H653.51v1.2" stroke="#222" stroke-width="0.7" fill="none"/>
<text x="644.6" y="109.7" font-size="7.5" text-anchor="middle" fill="#111">0.747</text>
<text x="635.69" y="254.8" font-size="7" text-anchor="middle" fill="#111">30</text>
<text x="653.51" y="254.8" font-size="7" text-anchor="middle" fill="#111">34</text>
<line x1="635.69" y1="265.5" x2="635.69" y2="267.3" stroke="#333" stroke-width="0.6"/>
<text x="635.69" y="273.8" font-size="6" text-anchor="middle" fill="#4d4d4d">N</text>
<line x1="653.51" y1="265.5" x2="653.51" y2="267.3" stroke="#333" stroke-width="0.6"/>
<text x="653.51" y="273.8" font-size="6" text-anchor="middle" fill="#4d4d4d">T</text>
<text x="390.2" y="247.5" font-size="5.8" text-anchor="end" fill="#4d4d4d">0.00</text>
<line x1="391" y1="245.4" x2="394.1" y2="245.4" stroke="#333" stroke-width="0.6"/>
<text x="390.2" y="214.05" font-size="5.8" text-anchor="end" fill="#4d4d4d">0.25</text>
<line x1="391" y1="211.95" x2="394.1" y2="211.95" stroke="#333" stroke-width="0.6"/>
<text x="390.2" y="180.6" font-size="5.8" text-anchor="end" fill="#4d4d4d">0.50</text>
<line x1="391" y1="178.5" x2="394.1" y2="178.5" stroke="#333" stroke-width="0.6"/>
<text x="390.2" y="147.15" font-size="5.8" text-anchor="end" fill="#4d4d4d">0.75</text>
<line x1="391" y1="145.05" x2="394.1" y2="145.05" stroke="#333" stroke-width="0.6"/>
<text x="390.2" y="113.7" font-size="5.8" text-anchor="end" fill="#4d4d4d">1.00</text>
<line x1="391" y1="111.6" x2="394.1" y2="111.6" stroke="#333" stroke-width="0.6"/>
<text font-size="7.5" text-anchor="middle" font-weight="bold" textLength="56.4" lengthAdjust="spacingAndGlyphs" transform="translate(375.2 181.4) rotate(-90)">Courtship Index</text>
<path d="M529.1 82.4V92.2M529.1 98.3V419.8" stroke="#555" stroke-width="1.5" stroke-dasharray="12.2 6.15" fill="none"/>
<line x1="529.1" y1="432.2" x2="529.1" y2="439.7" stroke="#555" stroke-width="1.5"/>
<text x="365.6" y="292.2" font-size="18.3">D</text>
<rect x="413.3" y="330.3" width="26.8" height="67.8" fill="#3c1646" stroke="#111" stroke-width="0.9"/>
<rect x="455" y="311.7" width="26.1" height="86.4" fill="#f1841f" stroke="#111" stroke-width="0.9"/>
<rect x="496.5" y="339.5" width="25.7" height="58.6" fill="#3f73bd" stroke="#111" stroke-width="0.9"/>
<rect x="537.3" y="341.3" width="26.6" height="56.8" fill="#3c1646" stroke="#111" stroke-width="0.9"/>
<rect x="578.3" y="396.3" width="27.3" height="1.8" fill="#b3641c" stroke="#222" stroke-width="0.6"/>
<rect x="619.2" y="398.1" width="27.3" height="2.2" fill="#2f5f9e" stroke="#222" stroke-width="0.6"/>
<line x1="399.2" y1="283.2" x2="399.2" y2="427.2" stroke="#111" stroke-width="1"/>
<line x1="398.7" y1="426.7" x2="663.2" y2="426.7" stroke="#111" stroke-width="1"/>
<line x1="399.2" y1="398.1" x2="661.4" y2="398.1" stroke="#111" stroke-width="1"/>
<line x1="392.7" y1="283.7" x2="399.2" y2="283.7" stroke="#111" stroke-width="1"/>
<text x="391.9" y="286.8" font-size="8.5" text-anchor="end">40</text>
<line x1="392.7" y1="312.3" x2="399.2" y2="312.3" stroke="#111" stroke-width="1"/>
<text x="391.9" y="315.4" font-size="8.5" text-anchor="end">30</text>
<line x1="392.7" y1="340.9" x2="399.2" y2="340.9" stroke="#111" stroke-width="1"/>
<text x="391.9" y="344" font-size="8.5" text-anchor="end">20</text>
<line x1="392.7" y1="369.5" x2="399.2" y2="369.5" stroke="#111" stroke-width="1"/>
<text x="391.9" y="372.6" font-size="8.5" text-anchor="end">10</text>
<line x1="392.7" y1="398.1" x2="399.2" y2="398.1" stroke="#111" stroke-width="1"/>
<text x="391.9" y="401.2" font-size="8.5" text-anchor="end">0</text>
<line x1="392.7" y1="426.7" x2="399.2" y2="426.7" stroke="#111" stroke-width="1"/>
<text x="391.9" y="429.8" font-size="8.5" text-anchor="end">-10</text>
<line x1="426.7" y1="426.7" x2="426.7" y2="432.6" stroke="#111" stroke-width="1"/>
<line x1="468" y1="426.7" x2="468" y2="432.6" stroke="#111" stroke-width="1"/>
<line x1="509.3" y1="426.7" x2="509.3" y2="432.6" stroke="#111" stroke-width="1"/>
<line x1="550.5" y1="426.7" x2="550.5" y2="432.6" stroke="#111" stroke-width="1"/>
<line x1="591.9" y1="426.7" x2="591.9" y2="432.6" stroke="#111" stroke-width="1"/>
<line x1="633.4" y1="426.7" x2="633.4" y2="432.6" stroke="#111" stroke-width="1"/>
<text font-size="7.6" text-anchor="middle" font-weight="bold" textLength="77.7" lengthAdjust="spacingAndGlyphs" transform="translate(376.2 357.3) rotate(-90)">Memory Index (MI)</text>
<text x="404.6" y="443.3" font-size="9.2" textLength="32.8" lengthAdjust="spacingAndGlyphs" font-family="DejaVu Sans, Liberation Sans, sans-serif">Control</text>
<text x="457.3" y="440.8" font-size="9.2" textLength="21.1" lengthAdjust="spacingAndGlyphs" font-family="DejaVu Sans, Liberation Sans, sans-serif">Hr38</text>
<text x="457.3" y="452" font-size="9.2" textLength="21.1" lengthAdjust="spacingAndGlyphs" font-family="DejaVu Sans, Liberation Sans, sans-serif">RNAi</text>
<text x="503.6" y="440.8" font-size="9.2" textLength="9.8" lengthAdjust="spacingAndGlyphs" font-family="DejaVu Sans, Liberation Sans, sans-serif">sr</text>
<text x="497.7" y="450.7" font-size="9.2" textLength="21.1" lengthAdjust="spacingAndGlyphs" font-family="DejaVu Sans, Liberation Sans, sans-serif">RNAi</text>
<text x="536.8" y="443.3" font-size="9.2" textLength="32.1" lengthAdjust="spacingAndGlyphs" font-family="DejaVu Sans, Liberation Sans, sans-serif">Control</text>
<text x="581.5" y="441.3" font-size="9.2" textLength="21.1" lengthAdjust="spacingAndGlyphs" font-family="DejaVu Sans, Liberation Sans, sans-serif">Hr38</text>
<text x="581.5" y="452.5" font-size="9.2" textLength="21.1" lengthAdjust="spacingAndGlyphs" font-family="DejaVu Sans, Liberation Sans, sans-serif">RNAi</text>
<text x="629.7" y="440.8" font-size="9.2" textLength="8.7" lengthAdjust="spacingAndGlyphs" font-family="DejaVu Sans, Liberation Sans, sans-serif">sr</text>
<text x="623.5" y="452" font-size="9.2" textLength="20.5" lengthAdjust="spacingAndGlyphs" font-family="DejaVu Sans, Liberation Sans, sans-serif">RNAi</text>
<text x="427.5" y="291.1" font-size="7.8" textLength="35.5" lengthAdjust="spacingAndGlyphs">p=0.0186</text>
<line x1="427" y1="294.9" x2="468.7" y2="294.9" stroke="#222" stroke-width="0.9"/>
<text x="472.4" y="301" font-size="7.8" textLength="36" lengthAdjust="spacingAndGlyphs">p=0.0782</text>
<line x1="427.7" y1="305.3" x2="512.6" y2="305.3" stroke="#222" stroke-width="0.9"/>
<text x="544.8" y="291.1" font-size="7.8" textLength="35.5" lengthAdjust="spacingAndGlyphs">p&lt;0.0001</text>
<line x1="544.8" y1="294.9" x2="586.2" y2="294.9" stroke="#222" stroke-width="0.9"/>
<text x="590" y="301" font-size="7.8" textLength="35" lengthAdjust="spacingAndGlyphs">p&lt;0.0001</text>
<line x1="545" y1="305.3" x2="629.2" y2="305.3" stroke="#222" stroke-width="0.9"/>
<text x="-1.4" y="461.9" font-size="18.3">E</text>
<rect x="31.1" y="455.5" width="32.6" height="12.7" fill="#d9d9d9"/>
<rect x="31.1" y="468.2" width="32.6" height="159.5" fill="#ebebeb"/>
<line x1="31.1" y1="609" x2="63.7" y2="609" stroke="#fff" stroke-width="0.9"/><line x1="31.1" y1="593.23" x2="63.7" y2="593.23" stroke="#fff" stroke-width="0.45"/><line x1="31.1" y1="577.45" x2="63.7" y2="577.45" stroke="#fff" stroke-width="0.9"/><line x1="31.1" y1="561.67" x2="63.7" y2="561.67" stroke="#fff" stroke-width="0.45"/><line x1="31.1" y1="545.9" x2="63.7" y2="545.9" stroke="#fff" stroke-width="0.9"/><line x1="31.1" y1="530.12" x2="63.7" y2="530.12" stroke="#fff" stroke-width="0.45"/><line x1="31.1" y1="514.35" x2="63.7" y2="514.35" stroke="#fff" stroke-width="0.9"/><line x1="31.1" y1="498.57" x2="63.7" y2="498.57" stroke="#fff" stroke-width="0.45"/><line x1="31.1" y1="482.8" x2="63.7" y2="482.8" stroke="#fff" stroke-width="0.9"/><line x1="39.99" y1="468.2" x2="39.99" y2="627.7" stroke="#fff" stroke-width="0.9"/><line x1="54.81" y1="468.2" x2="54.81" y2="627.7" stroke="#fff" stroke-width="0.9"/>
<text x="47.4" y="464.33" font-size="6.9" text-anchor="middle" font-weight="bold" fill="#1a1a1a">CTRL</text>
<line x1="39.99" y1="482.8" x2="39.99" y2="486.33" stroke="#222" stroke-width="0.8"/>
<line x1="39.99" y1="497.31" x2="39.99" y2="513.85" stroke="#222" stroke-width="0.8"/>
<rect x="34.43" y="486.33" width="11.11" height="10.98" fill="#4b0f62" stroke="#2a2a2a" stroke-width="0.6"/>
<line x1="34.43" y1="490.75" x2="45.55" y2="490.75" stroke="#3a3a3a" stroke-width="1.1"/>
<line x1="54.81" y1="484.06" x2="54.81" y2="501.1" stroke="#222" stroke-width="0.8"/>
<line x1="54.81" y1="533.66" x2="54.81" y2="573.29" stroke="#222" stroke-width="0.8"/>
<rect x="49.25" y="501.1" width="11.11" height="32.56" fill="#4b0f62" stroke="#2a2a2a" stroke-width="0.6"/>
<line x1="49.25" y1="509.43" x2="60.37" y2="509.43" stroke="#3a3a3a" stroke-width="1.1"/>
<path d="M37.92 513.85h0M41.72 510.88h0M39.33 510.49h0M42.25 509.9h0M39.49 509.31h0M42.17 506.94h0M40.27 505.54h0M38.69 505.37h0M41.2 504.04h0M40.86 499.7h0M40.91 499.48h0M39.81 499.47h0M38.6 497.52h0M40.7 496.19h0M38.03 495.76h0M40.95 495.35h0M40.67 495.3h0M39.37 494.7h0M41.48 494.19h0M38.46 493.94h0M39.44 493.04h0M41.48 492.88h0M39.39 492.09h0M41.06 491.58h0M40.55 490.79h0M42.2 490.45h0M42.45 490.26h0M41.11 489.57h0M41.54 489.53h0M38.26 489.2h0M41.06 488.88h0M41.73 488.63h0M39.5 488.1h0M40.26 487.8h0M39.89 487.65h0M42.28 487.19h0M39.08 486.49h0M39.5 486.43h0M37.5 486.29h0M39.59 485.63h0M40.65 485.52h0M42.17 485.1h0M42.11 485h0M39.13 484.76h0M42.44 484.15h0M38.43 484.07h0M41.61 483.79h0M38.28 483.69h0M39.52 483.55h0M37.86 482.8h0M41.78 522.68h0M54.98 573.29h0M53.89 569.28h0M54.78 565.31h0M52.56 564.21h0M52.52 559.36h0M54.96 556.02h0M54.69 555.79h0M56.47 548.52h0M52.41 547.26h0M55.09 544.15h0M54.76 543.95h0M55.3 541.25h0M55.96 536.71h0M54.93 532.96h0M55.12 528.38h0M54.77 526.65h0M55.39 526.62h0M53.55 524.84h0M55.07 521.97h0M55.67 519.67h0M53.26 519.19h0M57.26 515.69h0M56.04 515.59h0M57.09 512.8h0M53.78 510.25h0M54.53 509.43h0M53.62 508.48h0M52.54 508.24h0M52.39 507.81h0M53.54 507.54h0M56.62 506.71h0M53.13 505.96h0M55.76 505.32h0M53.56 504.91h0M52.64 503.99h0M53.27 502.74h0M55.7 501.82h0M54.82 501.64h0M55.05 501.15h0M54.57 499.7h0M53.68 497.51h0M54.75 495.84h0M56.92 494.48h0M53.32 494.01h0M55.97 492.08h0M53.56 491.92h0M53.28 489.6h0M53.93 489.04h0M52.77 486.21h0M56.99 486.05h0M54.13 484.06h0" stroke="#000" stroke-opacity="0.78" stroke-width="2.2" stroke-linecap="round" fill="none"/>
<path d="M39.99 482.7v-1.2H54.81v1.2" stroke="#222" stroke-width="0.7" fill="none"/>
<text x="47.4" y="480.4" font-size="8.25" text-anchor="middle" fill="#111">3.95e-09</text>
<text x="39.99" y="618.6" font-size="8.3" text-anchor="middle" fill="#111">51</text>
<text x="54.81" y="618.6" font-size="8.3" text-anchor="middle" fill="#111">51</text>
<line x1="39.99" y1="627.7" x2="39.99" y2="629.7" stroke="#222" stroke-width="0.8"/>
<text x="39.99" y="637" font-size="6.3" text-anchor="middle" fill="#333">N</text>
<line x1="54.81" y1="627.7" x2="54.81" y2="629.7" stroke="#222" stroke-width="0.8"/>
<text x="54.81" y="637" font-size="6.3" text-anchor="middle" fill="#333">T</text>
<rect x="67.65" y="455.5" width="32.6" height="12.7" fill="#d9d9d9"/>
<rect x="67.65" y="468.2" width="32.6" height="159.5" fill="#ebebeb"/>
<line x1="67.65" y1="609" x2="100.25" y2="609" stroke="#fff" stroke-width="0.9"/><line x1="67.65" y1="593.23" x2="100.25" y2="593.23" stroke="#fff" stroke-width="0.45"/><line x1="67.65" y1="577.45" x2="100.25" y2="577.45" stroke="#fff" stroke-width="0.9"/><line x1="67.65" y1="561.67" x2="100.25" y2="561.67" stroke="#fff" stroke-width="0.45"/><line x1="67.65" y1="545.9" x2="100.25" y2="545.9" stroke="#fff" stroke-width="0.9"/><line x1="67.65" y1="530.12" x2="100.25" y2="530.12" stroke="#fff" stroke-width="0.45"/><line x1="67.65" y1="514.35" x2="100.25" y2="514.35" stroke="#fff" stroke-width="0.9"/><line x1="67.65" y1="498.57" x2="100.25" y2="498.57" stroke="#fff" stroke-width="0.45"/><line x1="67.65" y1="482.8" x2="100.25" y2="482.8" stroke="#fff" stroke-width="0.9"/><line x1="76.54" y1="468.2" x2="76.54" y2="627.7" stroke="#fff" stroke-width="0.9"/><line x1="91.36" y1="468.2" x2="91.36" y2="627.7" stroke="#fff" stroke-width="0.9"/>
<text x="67.23" y="464.33" font-size="6.9" font-weight="bold" fill="#1a1a1a">CG11700</text>
<text x="96.78" y="464.47" font-size="7.59" font-weight="bold" fill="#111" textLength="3.8" lengthAdjust="spacingAndGlyphs" font-family="DejaVu Sans, sans-serif" stroke="#111" stroke-width="0.25">↓</text>
<line x1="76.54" y1="489.61" x2="76.54" y2="514.48" stroke="#222" stroke-width="0.8"/>
<line x1="76.54" y1="544.01" x2="76.54" y2="582.75" stroke="#222" stroke-width="0.8"/>
<rect x="70.98" y="514.48" width="11.11" height="29.53" fill="#481769" stroke="#2a2a2a" stroke-width="0.6"/>
<line x1="70.98" y1="530.38" x2="82.1" y2="530.38" stroke="#3a3a3a" stroke-width="1.1"/>
<line x1="91.36" y1="485.32" x2="91.36" y2="507.28" stroke="#222" stroke-width="0.8"/>
<line x1="91.36" y1="563.82" x2="91.36" y2="601.93" stroke="#222" stroke-width="0.8"/>
<rect x="85.8" y="507.28" width="11.11" height="56.54" fill="#481769" stroke="#2a2a2a" stroke-width="0.6"/>
<line x1="85.8" y1="534.79" x2="96.92" y2="534.79" stroke="#3a3a3a" stroke-width="1.1"/>
<path d="M74.17 582.75h0M74.82 581.42h0M78.63 576.35h0M74.71 570.29h0M75.91 563.7h0M78.79 557.32h0M74.61 548.86h0M76.09 547.85h0M78.05 545.39h0M74.14 542.42h0M74.38 541.21h0M78.69 539.71h0M77.46 537h0M75.35 536.84h0M76.44 534.16h0M75.29 534h0M78.5 531.47h0M78.79 530.35h0M74.4 530.29h0M76.66 525.61h0M74.96 523.52h0M76.06 523.18h0M77.75 521.78h0M77.61 518.2h0M74.99 517.52h0M75.7 514.32h0M76.17 514.02h0M75.97 511.79h0M77.45 509.03h0M77.98 508.24h0M75.72 503.92h0M76.25 501.4h0M74.38 499.7h0M75.87 493.59h0M78.78 489.61h0M92.99 601.93h0M88.89 595h0M89.15 590.27h0M89.16 586.43h0M93.52 581.09h0M92.95 579.78h0M88.94 576.27h0M93.52 566.24h0M89.99 565.94h0M90.18 561.78h0M91.78 558.65h0M89.88 553.57h0M93.73 552.74h0M90.69 549.51h0M91.71 545.72h0M91.72 543.13h0M90.27 539.52h0M92.53 538.35h0M93.82 534.42h0M91.84 527.9h0M89.28 527.88h0M92.9 524.61h0M92.19 522.01h0M91.31 514.32h0M92.13 511.58h0M90.17 511.04h0M90.38 510.56h0M91.44 505.44h0M89.2 505.14h0M91.8 501.92h0M89.77 501.47h0M90.13 498.82h0M93.36 495.87h0M91.8 493.29h0M90.08 488.04h0M92.35 485.32h0" stroke="#000" stroke-opacity="0.78" stroke-width="2.2" stroke-linecap="round" fill="none"/>
<path d="M76.54 485.22v-1.2H91.36v1.2" stroke="#222" stroke-width="0.7" fill="none"/>
<text x="83.95" y="482.92" font-size="8.25" text-anchor="middle" fill="#111">0.468</text>
<text x="76.54" y="618.6" font-size="8.3" text-anchor="middle" fill="#111">35</text>
<text x="91.36" y="618.6" font-size="8.3" text-anchor="middle" fill="#111">36</text>
<line x1="76.54" y1="627.7" x2="76.54" y2="629.7" stroke="#222" stroke-width="0.8"/>
<text x="76.54" y="637" font-size="6.3" text-anchor="middle" fill="#333">N</text>
<line x1="91.36" y1="627.7" x2="91.36" y2="629.7" stroke="#222" stroke-width="0.8"/>
<text x="91.36" y="637" font-size="6.3" text-anchor="middle" fill="#333">T</text>
<rect x="104.2" y="455.5" width="32.6" height="12.7" fill="#d9d9d9"/>
<rect x="104.2" y="468.2" width="32.6" height="159.5" fill="#ebebeb"/>
<line x1="104.2" y1="609" x2="136.8" y2="609" stroke="#fff" stroke-width="0.9"/><line x1="104.2" y1="593.23" x2="136.8" y2="593.23" stroke="#fff" stroke-width="0.45"/><line x1="104.2" y1="577.45" x2="136.8" y2="577.45" stroke="#fff" stroke-width="0.9"/><line x1="104.2" y1="561.67" x2="136.8" y2="561.67" stroke="#fff" stroke-width="0.45"/><line x1="104.2" y1="545.9" x2="136.8" y2="545.9" stroke="#fff" stroke-width="0.9"/><line x1="104.2" y1="530.12" x2="136.8" y2="530.12" stroke="#fff" stroke-width="0.45"/><line x1="104.2" y1="514.35" x2="136.8" y2="514.35" stroke="#fff" stroke-width="0.9"/><line x1="104.2" y1="498.57" x2="136.8" y2="498.57" stroke="#fff" stroke-width="0.45"/><line x1="104.2" y1="482.8" x2="136.8" y2="482.8" stroke="#fff" stroke-width="0.9"/><line x1="113.09" y1="468.2" x2="113.09" y2="627.7" stroke="#fff" stroke-width="0.9"/><line x1="127.91" y1="468.2" x2="127.91" y2="627.7" stroke="#fff" stroke-width="0.9"/>
<text x="103.58" y="464.33" font-size="6.9" font-weight="bold" fill="#1a1a1a">CG17691</text>
<text x="133.52" y="464.47" font-size="7.59" font-weight="bold" fill="#111" textLength="3.8" lengthAdjust="spacingAndGlyphs" font-family="DejaVu Sans, sans-serif" stroke="#111" stroke-width="0.25">↓</text>
<line x1="113.09" y1="482.8" x2="113.09" y2="487.47" stroke="#222" stroke-width="0.8"/>
<line x1="113.09" y1="500.59" x2="113.09" y2="514.98" stroke="#222" stroke-width="0.8"/>
<rect x="107.53" y="487.47" width="11.11" height="13.12" fill="#472a7a" stroke="#2a2a2a" stroke-width="0.6"/>
<line x1="107.53" y1="490.75" x2="118.65" y2="490.75" stroke="#3a3a3a" stroke-width="1.1"/>
<line x1="127.91" y1="482.8" x2="127.91" y2="488.48" stroke="#222" stroke-width="0.8"/>
<line x1="127.91" y1="505.01" x2="127.91" y2="521.54" stroke="#222" stroke-width="0.8"/>
<rect x="122.35" y="488.48" width="11.11" height="16.53" fill="#472a7a" stroke="#2a2a2a" stroke-width="0.6"/>
<line x1="122.35" y1="492.9" x2="133.47" y2="492.9" stroke="#3a3a3a" stroke-width="1.1"/>
<path d="M114.25 514.98h0M114.31 510.43h0M115.07 509.23h0M112.94 509.01h0M111.78 506.26h0M115.15 504.75h0M115.01 504.39h0M111.22 500.32h0M111.65 499.58h0M113.89 498.3h0M114.69 497.12h0M115.39 496.38h0M110.7 495.44h0M111.54 492.63h0M112.71 491.8h0M113.35 491.5h0M114.48 490.79h0M113.37 490.09h0M113.18 489.53h0M111.79 489.42h0M113.84 488.85h0M113.5 488.46h0M115.32 488.14h0M111.54 486.9h0M111.21 486.05h0M112.36 485.6h0M112.22 485.54h0M112.86 485.51h0M111.45 484.52h0M114.13 483.67h0M114.7 482.8h0M110.62 524.82h0M115.14 539.21h0M126.81 521.54h0M129.1 519.34h0M127.29 516.28h0M127.12 514.47h0M126.58 513.4h0M128.07 508.64h0M130.39 506.94h0M126.25 505.94h0M129.63 505.13h0M129.28 502.2h0M128.41 502.03h0M128.12 497.5h0M128.01 496.27h0M125.92 494.79h0M128.25 494.77h0M130.35 492.5h0M129.05 492.47h0M127.74 491.81h0M127.62 491.72h0M129.76 491.25h0M125.44 489.9h0M126.41 489.81h0M130.2 488.23h0M128.68 488.18h0M129.55 487.43h0M128.08 486.45h0M125.62 486.23h0M128.09 486.14h0M128.56 485.12h0M125.85 483.97h0M127.81 482.8h0M130.12 542.11h0M125.72 557.26h0" stroke="#000" stroke-opacity="0.78" stroke-width="2.2" stroke-linecap="round" fill="none"/>
<path d="M113.09 482.7v-1.2H127.91v1.2" stroke="#222" stroke-width="0.7" fill="none"/>
<text x="120.5" y="480.4" font-size="8.25" text-anchor="middle" fill="#111">0.575</text>
<text x="113.09" y="618.6" font-size="8.3" text-anchor="middle" fill="#111">33</text>
<text x="127.91" y="618.6" font-size="8.3" text-anchor="middle" fill="#111">33</text>
<line x1="113.09" y1="627.7" x2="113.09" y2="629.7" stroke="#222" stroke-width="0.8"/>
<text x="113.09" y="637" font-size="6.3" text-anchor="middle" fill="#333">N</text>
<line x1="127.91" y1="627.7" x2="127.91" y2="629.7" stroke="#222" stroke-width="0.8"/>
<text x="127.91" y="637" font-size="6.3" text-anchor="middle" fill="#333">T</text>
<rect x="140.75" y="455.5" width="32.6" height="12.7" fill="#d9d9d9"/>
<rect x="140.75" y="468.2" width="32.6" height="159.5" fill="#ebebeb"/>
<line x1="140.75" y1="609" x2="173.35" y2="609" stroke="#fff" stroke-width="0.9"/><line x1="140.75" y1="593.23" x2="173.35" y2="593.23" stroke="#fff" stroke-width="0.45"/><line x1="140.75" y1="577.45" x2="173.35" y2="577.45" stroke="#fff" stroke-width="0.9"/><line x1="140.75" y1="561.67" x2="173.35" y2="561.67" stroke="#fff" stroke-width="0.45"/><line x1="140.75" y1="545.9" x2="173.35" y2="545.9" stroke="#fff" stroke-width="0.9"/><line x1="140.75" y1="530.12" x2="173.35" y2="530.12" stroke="#fff" stroke-width="0.45"/><line x1="140.75" y1="514.35" x2="173.35" y2="514.35" stroke="#fff" stroke-width="0.9"/><line x1="140.75" y1="498.57" x2="173.35" y2="498.57" stroke="#fff" stroke-width="0.45"/><line x1="140.75" y1="482.8" x2="173.35" y2="482.8" stroke="#fff" stroke-width="0.9"/><line x1="149.64" y1="468.2" x2="149.64" y2="627.7" stroke="#fff" stroke-width="0.9"/><line x1="164.46" y1="468.2" x2="164.46" y2="627.7" stroke="#fff" stroke-width="0.9"/>
<text x="142.05" y="464.33" font-size="6.9" font-weight="bold" fill="#1a1a1a">CG2915</text>
<text x="168.15" y="464.47" font-size="7.59" font-weight="bold" fill="#111" textLength="3.8" lengthAdjust="spacingAndGlyphs" font-family="DejaVu Sans, sans-serif" stroke="#111" stroke-width="0.25">↓</text>
<line x1="149.64" y1="482.8" x2="149.64" y2="491.38" stroke="#222" stroke-width="0.8"/>
<line x1="149.64" y1="523.06" x2="149.64" y2="557.89" stroke="#222" stroke-width="0.8"/>
<rect x="144.08" y="491.38" width="11.11" height="31.68" fill="#433d84" stroke="#2a2a2a" stroke-width="0.6"/>
<line x1="144.08" y1="506.15" x2="155.2" y2="506.15" stroke="#3a3a3a" stroke-width="1.1"/>
<line x1="164.46" y1="485.32" x2="164.46" y2="498.45" stroke="#222" stroke-width="0.8"/>
<line x1="164.46" y1="526.47" x2="164.46" y2="540.22" stroke="#222" stroke-width="0.8"/>
<rect x="158.9" y="498.45" width="11.11" height="28.02" fill="#433d84" stroke="#2a2a2a" stroke-width="0.6"/>
<line x1="158.9" y1="513.47" x2="170.02" y2="513.47" stroke="#3a3a3a" stroke-width="1.1"/>
<path d="M148.84 557.89h0M147.87 553.87h0M149.16 536.35h0M149.17 530.94h0M148.34 525.31h0M149.24 519.2h0M150.55 517.44h0M150.03 512.94h0M148.36 509.41h0M150.7 507.45h0M150.69 503.21h0M149.25 497.9h0M149.44 497.19h0M148.01 491.49h0M151.31 491.13h0M148.92 487.75h0M148.61 487.2h0M151.78 485.54h0M148.67 482.8h0M162.44 540.22h0M163.71 535.43h0M164.38 530.25h0M163.76 525.45h0M162.47 523.66h0M166.4 519.58h0M162.71 517.4h0M165.6 507.43h0M164.08 506.93h0M164.44 503.27h0M165.34 499h0M162.04 496.72h0M164.41 488.12h0M164.26 485.32h0M164.1 601.43h0" stroke="#000" stroke-opacity="0.78" stroke-width="2.2" stroke-linecap="round" fill="none"/>
<path d="M149.64 482.7v-1.2H164.46v1.2" stroke="#222" stroke-width="0.7" fill="none"/>
<text x="157.05" y="480.4" font-size="8.25" text-anchor="middle" fill="#111">0.41</text>
<text x="149.64" y="618.6" font-size="8.3" text-anchor="middle" fill="#111">19</text>
<text x="164.46" y="618.6" font-size="8.3" text-anchor="middle" fill="#111">15</text>
<line x1="149.64" y1="627.7" x2="149.64" y2="629.7" stroke="#222" stroke-width="0.8"/>
<text x="149.64" y="637" font-size="6.3" text-anchor="middle" fill="#333">N</text>
<line x1="164.46" y1="627.7" x2="164.46" y2="629.7" stroke="#222" stroke-width="0.8"/>
<text x="164.46" y="637" font-size="6.3" text-anchor="middle" fill="#333">T</text>
<rect x="177.3" y="455.5" width="32.6" height="12.7" fill="#d9d9d9"/>
<rect x="177.3" y="468.2" width="32.6" height="159.5" fill="#ebebeb"/>
<line x1="177.3" y1="609" x2="209.9" y2="609" stroke="#fff" stroke-width="0.9"/><line x1="177.3" y1="593.23" x2="209.9" y2="593.23" stroke="#fff" stroke-width="0.45"/><line x1="177.3" y1="577.45" x2="209.9" y2="577.45" stroke="#fff" stroke-width="0.9"/><line x1="177.3" y1="561.67" x2="209.9" y2="561.67" stroke="#fff" stroke-width="0.45"/><line x1="177.3" y1="545.9" x2="209.9" y2="545.9" stroke="#fff" stroke-width="0.9"/><line x1="177.3" y1="530.12" x2="209.9" y2="530.12" stroke="#fff" stroke-width="0.45"/><line x1="177.3" y1="514.35" x2="209.9" y2="514.35" stroke="#fff" stroke-width="0.9"/><line x1="177.3" y1="498.57" x2="209.9" y2="498.57" stroke="#fff" stroke-width="0.45"/><line x1="177.3" y1="482.8" x2="209.9" y2="482.8" stroke="#fff" stroke-width="0.9"/><line x1="186.19" y1="468.2" x2="186.19" y2="627.7" stroke="#fff" stroke-width="0.9"/><line x1="201.01" y1="468.2" x2="201.01" y2="627.7" stroke="#fff" stroke-width="0.9"/>
<text x="176.68" y="464.33" font-size="6.9" font-weight="bold" fill="#1a1a1a">CG31301</text>
<text x="206.62" y="464.47" font-size="7.59" font-weight="bold" fill="#111" textLength="3.8" lengthAdjust="spacingAndGlyphs" font-family="DejaVu Sans, sans-serif" stroke="#111" stroke-width="0.25">↓</text>
<line x1="186.19" y1="482.8" x2="186.19" y2="486.33" stroke="#222" stroke-width="0.8"/>
<line x1="186.19" y1="494.66" x2="186.19" y2="513.85" stroke="#222" stroke-width="0.8"/>
<rect x="180.63" y="486.33" width="11.11" height="8.33" fill="#3d4e8a" stroke="#2a2a2a" stroke-width="0.6"/>
<line x1="180.63" y1="490.12" x2="191.75" y2="490.12" stroke="#3a3a3a" stroke-width="1.1"/>
<line x1="201.01" y1="482.8" x2="201.01" y2="486.96" stroke="#222" stroke-width="0.8"/>
<line x1="201.01" y1="507.66" x2="201.01" y2="534.79" stroke="#222" stroke-width="0.8"/>
<rect x="195.45" y="486.96" width="11.11" height="20.7" fill="#3d4e8a" stroke="#2a2a2a" stroke-width="0.6"/>
<line x1="195.45" y1="492.9" x2="206.57" y2="492.9" stroke="#3a3a3a" stroke-width="1.1"/>
<path d="M183.88 513.85h0M184.32 513.26h0M183.75 509.43h0M186.63 507.79h0M186.74 506.52h0M184.41 505.67h0M187.86 502.83h0M186.13 499.72h0M186.69 497.31h0M187 497.24h0M184.72 495.76h0M187.71 494.51h0M185.75 493.93h0M186.18 493.18h0M184.32 493.01h0M184.97 492.35h0M185.97 492.24h0M187.31 492.04h0M185.98 490.91h0M186.49 490.9h0M187.48 490.44h0M185.7 490.36h0M183.77 489.43h0M186.5 489.2h0M188.41 488.99h0M183.88 488.73h0M186 488.72h0M186.96 487.78h0M186.14 487.53h0M184.21 487.53h0M186.26 486.67h0M184.09 486.56h0M184.04 485.91h0M185.38 485.91h0M184.58 485.67h0M186.21 485.47h0M188.41 484.98h0M184.77 484.66h0M188.63 484.57h0M185.44 483.62h0M187.87 483.49h0M186.3 483.38h0M187.59 482.8h0M188.02 527.73h0M202.78 534.79h0M201.21 531.98h0M199.14 529.29h0M198.73 527.48h0M198.68 525.41h0M202.29 524.02h0M202.98 521.98h0M199.24 520.71h0M202.56 516.08h0M198.72 515.52h0M202.68 512.11h0M202.02 511.76h0M200.88 508.71h0M200.9 505.68h0M199.61 505.36h0M203.16 504.51h0M199.87 502.69h0M199.83 501.46h0M202.37 500.93h0M201.39 500.79h0M201.09 499.41h0M201.36 498.48h0M199.06 496.63h0M199.05 494.54h0M203.4 493.99h0M202.02 493.31h0M201.58 492.81h0M201.31 492.12h0M199.68 491.12h0M199.29 491.05h0M201.43 490.53h0M198.56 490.34h0M198.65 489.58h0M200.23 489.06h0M201.44 488.89h0M203.16 488.13h0M200.77 487.49h0M200.04 487.48h0M203.28 486.92h0M200 486.85h0M200.92 486.42h0M200.9 486.26h0M198.73 485.92h0M199.04 485.58h0M198.55 484.61h0M202.48 484.41h0M200.41 484.2h0M201.91 483.87h0M200.74 483.71h0M200.99 483.41h0M202.83 482.8h0M200.48 564.96h0" stroke="#000" stroke-opacity="0.78" stroke-width="2.2" stroke-linecap="round" fill="none"/>
<path d="M186.19 482.7v-1.2H201.01v1.2" stroke="#222" stroke-width="0.7" fill="none"/>
<text x="193.6" y="480.4" font-size="8.25" text-anchor="middle" fill="#111">0.115</text>
<text x="186.19" y="618.6" font-size="8.3" text-anchor="middle" fill="#111">44</text>
<text x="201.01" y="618.6" font-size="8.3" text-anchor="middle" fill="#111">52</text>
<line x1="186.19" y1="627.7" x2="186.19" y2="629.7" stroke="#222" stroke-width="0.8"/>
<text x="186.19" y="637" font-size="6.3" text-anchor="middle" fill="#333">N</text>
<line x1="201.01" y1="627.7" x2="201.01" y2="629.7" stroke="#222" stroke-width="0.8"/>
<text x="201.01" y="637" font-size="6.3" text-anchor="middle" fill="#333">T</text>
<rect x="213.85" y="455.5" width="32.6" height="12.7" fill="#d9d9d9"/>
<rect x="213.85" y="468.2" width="32.6" height="159.5" fill="#ebebeb"/>
<line x1="213.85" y1="609" x2="246.45" y2="609" stroke="#fff" stroke-width="0.9"/><line x1="213.85" y1="593.23" x2="246.45" y2="593.23" stroke="#fff" stroke-width="0.45"/><line x1="213.85" y1="577.45" x2="246.45" y2="577.45" stroke="#fff" stroke-width="0.9"/><line x1="213.85" y1="561.67" x2="246.45" y2="561.67" stroke="#fff" stroke-width="0.45"/><line x1="213.85" y1="545.9" x2="246.45" y2="545.9" stroke="#fff" stroke-width="0.9"/><line x1="213.85" y1="530.12" x2="246.45" y2="530.12" stroke="#fff" stroke-width="0.45"/><line x1="213.85" y1="514.35" x2="246.45" y2="514.35" stroke="#fff" stroke-width="0.9"/><line x1="213.85" y1="498.57" x2="246.45" y2="498.57" stroke="#fff" stroke-width="0.45"/><line x1="213.85" y1="482.8" x2="246.45" y2="482.8" stroke="#fff" stroke-width="0.9"/><line x1="222.74" y1="468.2" x2="222.74" y2="627.7" stroke="#fff" stroke-width="0.9"/><line x1="237.56" y1="468.2" x2="237.56" y2="627.7" stroke="#fff" stroke-width="0.9"/>
<text x="220.72" y="464.33" font-size="6.9" font-weight="bold" fill="#1a1a1a">cora</text>
<text x="235.69" y="464.47" font-size="7.59" font-weight="bold" fill="#111" textLength="3.8" lengthAdjust="spacingAndGlyphs" font-family="DejaVu Sans, sans-serif" stroke="#111" stroke-width="0.25">↓</text>
<line x1="222.74" y1="482.8" x2="222.74" y2="488.48" stroke="#222" stroke-width="0.8"/>
<line x1="222.74" y1="506.78" x2="222.74" y2="533.28" stroke="#222" stroke-width="0.8"/>
<rect x="217.18" y="488.48" width="11.11" height="18.3" fill="#355e8d" stroke="#2a2a2a" stroke-width="0.6"/>
<line x1="217.18" y1="496.18" x2="228.3" y2="496.18" stroke="#3a3a3a" stroke-width="1.1"/>
<line x1="237.56" y1="482.8" x2="237.56" y2="491.38" stroke="#222" stroke-width="0.8"/>
<line x1="237.56" y1="512.08" x2="237.56" y2="535.93" stroke="#222" stroke-width="0.8"/>
<rect x="232" y="491.38" width="11.11" height="20.7" fill="#355e8d" stroke="#2a2a2a" stroke-width="0.6"/>
<line x1="232" y1="498.45" x2="243.12" y2="498.45" stroke="#3a3a3a" stroke-width="1.1"/>
<path d="M221.36 533.28h0M222.35 529.98h0M221.99 528.69h0M223.57 524.76h0M222.83 523.2h0M224.39 520.45h0M223.35 516.3h0M223.85 513.25h0M220.32 510.13h0M223.62 508.77h0M224.79 506.52h0M220.92 505.6h0M224.16 505.29h0M224.16 504.73h0M220.66 504.5h0M223.32 502.55h0M221.8 502.5h0M222.09 501.18h0M225.21 499.75h0M223.09 498.79h0M222.63 497.01h0M224.23 496.74h0M222.2 495.93h0M220.89 495.48h0M225.14 494.06h0M221.05 493.85h0M224.75 493.29h0M225.12 492.58h0M222.58 491.54h0M220.84 491.4h0M222.54 489.71h0M222.96 488.73h0M224.17 488.39h0M225.24 488.07h0M221.47 487.35h0M220.41 486.65h0M225.15 486.36h0M220.25 486.11h0M225.05 485.63h0M224.71 485.46h0M224.74 484.64h0M222.25 484.09h0M221.24 483.84h0M223.23 482.8h0M222.4 541.36h0M223.79 546.28h0M221.2 579.97h0M236.44 535.93h0M238.98 529.99h0M235.74 529.46h0M237.73 525.13h0M237.08 524.9h0M239.62 523.76h0M238.33 519.85h0M237.87 519.59h0M235.79 518.11h0M235.58 513.7h0M238.09 512.68h0M239.66 511.5h0M235.47 509.03h0M237.17 508.35h0M236.91 505.41h0M235.17 505.31h0M238.18 504.06h0M237.37 501.69h0M237.47 500.41h0M239.21 498.22h0M238.17 497.55h0M236.26 497.34h0M239.86 496.73h0M239.68 496.65h0M238.52 494.84h0M235.67 494.73h0M238.22 494.61h0M235.07 493.1h0M236.49 492.75h0M237.23 492.22h0M237.36 490.61h0M239 489.73h0M237.85 489.61h0M238.3 488.08h0M237.31 488.04h0M238.72 486.01h0M236 485.87h0M239.55 485h0M239.26 484.77h0M239.62 482.8h0M239.82 545.14h0M238.97 552.84h0M236.51 554.99h0" stroke="#000" stroke-opacity="0.78" stroke-width="2.2" stroke-linecap="round" fill="none"/>
<path d="M222.74 482.7v-1.2H237.56v1.2" stroke="#222" stroke-width="0.7" fill="none"/>
<text x="230.15" y="480.4" font-size="8.25" text-anchor="middle" fill="#111">0.237</text>
<text x="222.74" y="618.6" font-size="8.3" text-anchor="middle" fill="#111">47</text>
<text x="237.56" y="618.6" font-size="8.3" text-anchor="middle" fill="#111">43</text>
<line x1="222.74" y1="627.7" x2="222.74" y2="629.7" stroke="#222" stroke-width="0.8"/>
<text x="222.74" y="637" font-size="6.3" text-anchor="middle" fill="#333">N</text>
<line x1="237.56" y1="627.7" x2="237.56" y2="629.7" stroke="#222" stroke-width="0.8"/>
<text x="237.56" y="637" font-size="6.3" text-anchor="middle" fill="#333">T</text>
<rect x="250.4" y="455.5" width="32.6" height="12.7" fill="#d9d9d9"/>
<rect x="250.4" y="468.2" width="32.6" height="159.5" fill="#ebebeb"/>
<line x1="250.4" y1="609" x2="283" y2="609" stroke="#fff" stroke-width="0.9"/><line x1="250.4" y1="593.23" x2="283" y2="593.23" stroke="#fff" stroke-width="0.45"/><line x1="250.4" y1="577.45" x2="283" y2="577.45" stroke="#fff" stroke-width="0.9"/><line x1="250.4" y1="561.67" x2="283" y2="561.67" stroke="#fff" stroke-width="0.45"/><line x1="250.4" y1="545.9" x2="283" y2="545.9" stroke="#fff" stroke-width="0.9"/><line x1="250.4" y1="530.12" x2="283" y2="530.12" stroke="#fff" stroke-width="0.45"/><line x1="250.4" y1="514.35" x2="283" y2="514.35" stroke="#fff" stroke-width="0.9"/><line x1="250.4" y1="498.57" x2="283" y2="498.57" stroke="#fff" stroke-width="0.45"/><line x1="250.4" y1="482.8" x2="283" y2="482.8" stroke="#fff" stroke-width="0.9"/><line x1="259.29" y1="468.2" x2="259.29" y2="627.7" stroke="#fff" stroke-width="0.9"/><line x1="274.11" y1="468.2" x2="274.11" y2="627.7" stroke="#fff" stroke-width="0.9"/>
<text x="258.42" y="464.33" font-size="6.9" font-weight="bold" fill="#1a1a1a">cpo</text>
<text x="271.09" y="464.47" font-size="7.59" font-weight="bold" fill="#111" textLength="3.8" lengthAdjust="spacingAndGlyphs" font-family="DejaVu Sans, sans-serif" stroke="#111" stroke-width="0.25">↓</text>
<line x1="259.29" y1="482.8" x2="259.29" y2="490.25" stroke="#222" stroke-width="0.8"/>
<line x1="259.29" y1="502.36" x2="259.29" y2="516.12" stroke="#222" stroke-width="0.8"/>
<rect x="253.73" y="490.25" width="11.11" height="12.12" fill="#2e6d8e" stroke="#2a2a2a" stroke-width="0.6"/>
<line x1="253.73" y1="495.17" x2="264.85" y2="495.17" stroke="#3a3a3a" stroke-width="1.1"/>
<line x1="274.11" y1="485.32" x2="274.11" y2="490.25" stroke="#222" stroke-width="0.8"/>
<line x1="274.11" y1="519.4" x2="274.11" y2="557.89" stroke="#222" stroke-width="0.8"/>
<rect x="268.55" y="490.25" width="11.11" height="29.15" fill="#2e6d8e" stroke="#2a2a2a" stroke-width="0.6"/>
<line x1="268.55" y1="495.17" x2="279.67" y2="495.17" stroke="#3a3a3a" stroke-width="1.1"/>
<path d="M257.13 516.12h0M261.75 513.03h0M260.72 512.77h0M261.68 512.63h0M261.03 509.5h0M258.94 508.36h0M257.75 508.25h0M259.48 505.62h0M257.99 503.81h0M257.59 503.24h0M259.57 502.63h0M259.64 500.79h0M261.71 500.45h0M260.81 499.73h0M256.88 498.96h0M257.65 497.87h0M259.58 497.37h0M260.33 497.2h0M261.74 496.48h0M259.54 494.83h0M259.14 494.52h0M256.84 494.38h0M258.97 494.15h0M261.1 493.21h0M257.08 492.97h0M259.42 492.5h0M261.54 491.86h0M261.6 491.16h0M256.87 490.74h0M258.33 490.35h0M257.76 490.27h0M261.7 489.42h0M260.78 487.94h0M258.13 487.5h0M258.72 486.92h0M260.17 486.16h0M256.92 484.67h0M257.62 484.54h0M260.74 484.28h0M258.32 482.8h0M257.98 523.82h0M261.34 541.36h0M260.39 548.05h0M261.08 549.69h0M260.71 553.47h0M273.61 557.89h0M275.27 555.29h0M275.89 547.5h0M274.93 545.24h0M274.32 540.22h0M276.21 537.18h0M272.54 535.38h0M275.09 532.71h0M273.51 530.96h0M276.29 521.43h0M272.58 519.59h0M272.88 518.44h0M272.18 516.36h0M273.88 514.27h0M275.05 513.78h0M273.07 511.29h0M276.09 509.68h0M275.61 506.72h0M272.96 504.16h0M274.63 502.94h0M274.89 497.68h0M272.29 495.82h0M274.85 494.74h0M274.74 494.28h0M275.96 493.98h0M273.1 493.88h0M272.3 493.36h0M274.33 492.37h0M275.9 492.09h0M272.21 491.65h0M272.64 491.54h0M272.13 491.31h0M276.55 490.5h0M275.41 489.83h0M272.07 489.59h0M275.85 488.85h0M273.79 488.46h0M271.73 488.38h0M271.92 487.57h0M272.85 487.2h0M271.8 486.89h0M272.45 486.7h0M271.93 486.11h0M272.31 485.32h0" stroke="#000" stroke-opacity="0.78" stroke-width="2.2" stroke-linecap="round" fill="none"/>
<path d="M259.29 482.7v-1.2H274.11v1.2" stroke="#222" stroke-width="0.7" fill="none"/>
<text x="266.7" y="480.4" font-size="8.25" text-anchor="middle" fill="#111">0.36</text>
<text x="259.29" y="618.6" font-size="8.3" text-anchor="middle" fill="#111">45</text>
<text x="274.11" y="618.6" font-size="8.3" text-anchor="middle" fill="#111">44</text>
<line x1="259.29" y1="627.7" x2="259.29" y2="629.7" stroke="#222" stroke-width="0.8"/>
<text x="259.29" y="637" font-size="6.3" text-anchor="middle" fill="#333">N</text>
<line x1="274.11" y1="627.7" x2="274.11" y2="629.7" stroke="#222" stroke-width="0.8"/>
<text x="274.11" y="637" font-size="6.3" text-anchor="middle" fill="#333">T</text>
<rect x="286.95" y="455.5" width="32.6" height="12.7" fill="#d9d9d9"/>
<rect x="286.95" y="468.2" width="32.6" height="159.5" fill="#ebebeb"/>
<line x1="286.95" y1="609" x2="319.55" y2="609" stroke="#fff" stroke-width="0.9"/><line x1="286.95" y1="593.23" x2="319.55" y2="593.23" stroke="#fff" stroke-width="0.45"/><line x1="286.95" y1="577.45" x2="319.55" y2="577.45" stroke="#fff" stroke-width="0.9"/><line x1="286.95" y1="561.67" x2="319.55" y2="561.67" stroke="#fff" stroke-width="0.45"/><line x1="286.95" y1="545.9" x2="319.55" y2="545.9" stroke="#fff" stroke-width="0.9"/><line x1="286.95" y1="530.12" x2="319.55" y2="530.12" stroke="#fff" stroke-width="0.45"/><line x1="286.95" y1="514.35" x2="319.55" y2="514.35" stroke="#fff" stroke-width="0.9"/><line x1="286.95" y1="498.57" x2="319.55" y2="498.57" stroke="#fff" stroke-width="0.45"/><line x1="286.95" y1="482.8" x2="319.55" y2="482.8" stroke="#fff" stroke-width="0.9"/><line x1="295.84" y1="468.2" x2="295.84" y2="627.7" stroke="#fff" stroke-width="0.9"/><line x1="310.66" y1="468.2" x2="310.66" y2="627.7" stroke="#fff" stroke-width="0.9"/>
<text x="291.71" y="464.33" font-size="6.9" font-weight="bold" fill="#1a1a1a">fs(1)h</text>
<text x="310.89" y="464.47" font-size="7.59" font-weight="bold" fill="#111" textLength="3.8" lengthAdjust="spacingAndGlyphs" font-family="DejaVu Sans, sans-serif" stroke="#111" stroke-width="0.25">↓</text>
<line x1="295.84" y1="482.8" x2="295.84" y2="488.48" stroke="#222" stroke-width="0.8"/>
<line x1="295.84" y1="509.43" x2="295.84" y2="529.24" stroke="#222" stroke-width="0.8"/>
<rect x="290.28" y="488.48" width="11.11" height="20.95" fill="#297b8e" stroke="#2a2a2a" stroke-width="0.6"/>
<line x1="290.28" y1="496.68" x2="301.4" y2="496.68" stroke="#3a3a3a" stroke-width="1.1"/>
<line x1="310.66" y1="484.06" x2="310.66" y2="489.61" stroke="#222" stroke-width="0.8"/>
<line x1="310.66" y1="516.12" x2="310.66" y2="535.93" stroke="#222" stroke-width="0.8"/>
<rect x="305.1" y="489.61" width="11.11" height="26.5" fill="#297b8e" stroke="#2a2a2a" stroke-width="0.6"/>
<line x1="305.1" y1="498.83" x2="316.22" y2="498.83" stroke="#3a3a3a" stroke-width="1.1"/>
<path d="M297.83 529.24h0M294.73 524.49h0M294.2 517.42h0M296.58 514.18h0M295.56 513.21h0M297.64 512.77h0M295.6 507.21h0M294.14 505.19h0M295.22 504.62h0M298.15 498.78h0M296.83 497.14h0M294.18 495.25h0M294.28 495.01h0M295.27 491.6h0M298.04 491.55h0M295.92 490.13h0M294.69 487.35h0M294.4 486.78h0M294.58 485.54h0M296.02 485.43h0M294.41 483.62h0M293.87 482.8h0M297.45 545.14h0M296.62 554.99h0M309.78 535.93h0M310.86 532.48h0M308.8 527.22h0M313.13 521.1h0M311.83 519.29h0M310.12 515.83h0M310.63 515.18h0M311.08 509.58h0M309.95 508.7h0M309.81 499.98h0M312.7 498.89h0M308.96 496.73h0M312.91 495.91h0M310.9 493.4h0M310.46 491.66h0M310.51 489.94h0M308.23 489.09h0M309.79 487.86h0M310.46 485.99h0M308.39 484.91h0M308.22 484.06h0M308.19 559.4h0M311.25 564.45h0M308.2 579.97h0" stroke="#000" stroke-opacity="0.78" stroke-width="2.2" stroke-linecap="round" fill="none"/>
<path d="M295.84 482.7v-1.2H310.66v1.2" stroke="#222" stroke-width="0.7" fill="none"/>
<text x="303.25" y="480.4" font-size="8.25" text-anchor="middle" fill="#111">0.396</text>
<text x="295.84" y="618.6" font-size="8.3" text-anchor="middle" fill="#111">24</text>
<text x="310.66" y="618.6" font-size="8.3" text-anchor="middle" fill="#111">24</text>
<line x1="295.84" y1="627.7" x2="295.84" y2="629.7" stroke="#222" stroke-width="0.8"/>
<text x="295.84" y="637" font-size="6.3" text-anchor="middle" fill="#333">N</text>
<line x1="310.66" y1="627.7" x2="310.66" y2="629.7" stroke="#222" stroke-width="0.8"/>
<text x="310.66" y="637" font-size="6.3" text-anchor="middle" fill="#333">T</text>
<rect x="323.5" y="455.5" width="32.6" height="12.7" fill="#d9d9d9"/>
<rect x="323.5" y="468.2" width="32.6" height="159.5" fill="#ebebeb"/>
<line x1="323.5" y1="609" x2="356.1" y2="609" stroke="#fff" stroke-width="0.9"/><line x1="323.5" y1="593.23" x2="356.1" y2="593.23" stroke="#fff" stroke-width="0.45"/><line x1="323.5" y1="577.45" x2="356.1" y2="577.45" stroke="#fff" stroke-width="0.9"/><line x1="323.5" y1="561.67" x2="356.1" y2="561.67" stroke="#fff" stroke-width="0.45"/><line x1="323.5" y1="545.9" x2="356.1" y2="545.9" stroke="#fff" stroke-width="0.9"/><line x1="323.5" y1="530.12" x2="356.1" y2="530.12" stroke="#fff" stroke-width="0.45"/><line x1="323.5" y1="514.35" x2="356.1" y2="514.35" stroke="#fff" stroke-width="0.9"/><line x1="323.5" y1="498.57" x2="356.1" y2="498.57" stroke="#fff" stroke-width="0.45"/><line x1="323.5" y1="482.8" x2="356.1" y2="482.8" stroke="#fff" stroke-width="0.9"/><line x1="332.39" y1="468.2" x2="332.39" y2="627.7" stroke="#fff" stroke-width="0.9"/><line x1="347.21" y1="468.2" x2="347.21" y2="627.7" stroke="#fff" stroke-width="0.9"/>
<text x="329.03" y="464.33" font-size="6.9" font-weight="bold" fill="#1a1a1a">LpR1</text>
<text x="346.68" y="464.47" font-size="7.59" font-weight="bold" fill="#111" textLength="3.8" lengthAdjust="spacingAndGlyphs" font-family="DejaVu Sans, sans-serif" stroke="#111" stroke-width="0.25">↓</text>
<line x1="332.39" y1="482.8" x2="332.39" y2="487.47" stroke="#222" stroke-width="0.8"/>
<line x1="332.39" y1="497.31" x2="332.39" y2="512.71" stroke="#222" stroke-width="0.8"/>
<rect x="326.83" y="487.47" width="11.11" height="9.84" fill="#23898e" stroke="#2a2a2a" stroke-width="0.6"/>
<line x1="326.83" y1="490.75" x2="337.95" y2="490.75" stroke="#3a3a3a" stroke-width="1.1"/>
<line x1="347.21" y1="482.8" x2="347.21" y2="486.96" stroke="#222" stroke-width="0.8"/>
<line x1="347.21" y1="528.61" x2="347.21" y2="564.07" stroke="#222" stroke-width="0.8"/>
<rect x="341.65" y="486.96" width="11.11" height="41.65" fill="#23898e" stroke="#2a2a2a" stroke-width="0.6"/>
<line x1="341.65" y1="501.73" x2="352.77" y2="501.73" stroke="#3a3a3a" stroke-width="1.1"/>
<path d="M333.17 512.71h0M330.65 509.24h0M330.94 508.09h0M334.79 506.89h0M330.86 504.01h0M330.71 503.48h0M329.97 498.94h0M330.28 498.26h0M331.89 497.74h0M332.97 496.22h0M334.3 495.61h0M334.83 495.14h0M331.67 493.36h0M332.37 493.07h0M331.9 491.18h0M332.21 490.72h0M334.17 490.19h0M331.96 489.91h0M333.61 489.39h0M334.17 489.35h0M331.93 488.87h0M331.59 488.73h0M330.35 487.69h0M333.26 487.63h0M333.89 486.65h0M333.06 486.59h0M331.27 486.23h0M333.41 485.17h0M331.01 484.96h0M333.91 484.39h0M334.6 483.25h0M331.52 482.8h0M332.91 516.12h0M332.16 528.61h0M349.19 564.07h0M349.31 554.34h0M349.31 552.54h0M346.9 544.2h0M347.84 542.47h0M347.09 539.92h0M345.05 530.03h0M346.08 529.61h0M348.9 526.16h0M345.62 521.91h0M346.93 518.72h0M348.08 514.95h0M346.77 508.73h0M347.63 508.5h0M347.54 506.46h0M345.35 499.54h0M344.9 499.11h0M347.33 496.63h0M347.88 496.39h0M347.5 492.04h0M349.58 490.37h0M345.47 488.29h0M345.14 487.01h0M348.88 486.39h0M349.17 485.9h0M349.56 485.83h0M349.17 484.92h0M346.7 484h0M347.55 483.37h0M347.9 482.8h0" stroke="#000" stroke-opacity="0.78" stroke-width="2.2" stroke-linecap="round" fill="none"/>
<path d="M332.39 482.7v-1.2H347.21v1.2" stroke="#222" stroke-width="0.7" fill="none"/>
<text x="339.8" y="480.4" font-size="8.25" text-anchor="middle" fill="#111">0.0768</text>
<text x="332.39" y="618.6" font-size="8.3" text-anchor="middle" fill="#111">34</text>
<text x="347.21" y="618.6" font-size="8.3" text-anchor="middle" fill="#111">30</text>
<line x1="332.39" y1="627.7" x2="332.39" y2="629.7" stroke="#222" stroke-width="0.8"/>
<text x="332.39" y="637" font-size="6.3" text-anchor="middle" fill="#333">N</text>
<line x1="347.21" y1="627.7" x2="347.21" y2="629.7" stroke="#222" stroke-width="0.8"/>
<text x="347.21" y="637" font-size="6.3" text-anchor="middle" fill="#333">T</text>
<rect x="360.05" y="455.5" width="32.6" height="12.7" fill="#d9d9d9"/>
<rect x="360.05" y="468.2" width="32.6" height="159.5" fill="#ebebeb"/>
<line x1="360.05" y1="609" x2="392.65" y2="609" stroke="#fff" stroke-width="0.9"/><line x1="360.05" y1="593.23" x2="392.65" y2="593.23" stroke="#fff" stroke-width="0.45"/><line x1="360.05" y1="577.45" x2="392.65" y2="577.45" stroke="#fff" stroke-width="0.9"/><line x1="360.05" y1="561.67" x2="392.65" y2="561.67" stroke="#fff" stroke-width="0.45"/><line x1="360.05" y1="545.9" x2="392.65" y2="545.9" stroke="#fff" stroke-width="0.9"/><line x1="360.05" y1="530.12" x2="392.65" y2="530.12" stroke="#fff" stroke-width="0.45"/><line x1="360.05" y1="514.35" x2="392.65" y2="514.35" stroke="#fff" stroke-width="0.9"/><line x1="360.05" y1="498.57" x2="392.65" y2="498.57" stroke="#fff" stroke-width="0.45"/><line x1="360.05" y1="482.8" x2="392.65" y2="482.8" stroke="#fff" stroke-width="0.9"/><line x1="368.94" y1="468.2" x2="368.94" y2="627.7" stroke="#fff" stroke-width="0.9"/><line x1="383.76" y1="468.2" x2="383.76" y2="627.7" stroke="#fff" stroke-width="0.9"/>
<text x="363.59" y="464.33" font-size="6.9" font-weight="bold" fill="#1a1a1a">LysRS</text>
<text x="385.21" y="464.47" font-size="7.59" font-weight="bold" fill="#111" textLength="3.8" lengthAdjust="spacingAndGlyphs" font-family="DejaVu Sans, sans-serif" stroke="#111" stroke-width="0.25">↓</text>
<line x1="368.94" y1="495.17" x2="368.94" y2="505.52" stroke="#222" stroke-width="0.8"/>
<line x1="368.94" y1="527.47" x2="368.94" y2="546.91" stroke="#222" stroke-width="0.8"/>
<rect x="363.38" y="505.52" width="11.11" height="21.96" fill="#1f978b" stroke="#2a2a2a" stroke-width="0.6"/>
<line x1="363.38" y1="512.71" x2="374.5" y2="512.71" stroke="#3a3a3a" stroke-width="1.1"/>
<line x1="383.76" y1="489.61" x2="383.76" y2="500.22" stroke="#222" stroke-width="0.8"/>
<line x1="383.76" y1="537.44" x2="383.76" y2="591.33" stroke="#222" stroke-width="0.8"/>
<rect x="378.2" y="500.22" width="11.11" height="37.23" fill="#1f978b" stroke="#2a2a2a" stroke-width="0.6"/>
<line x1="378.2" y1="526.47" x2="389.32" y2="526.47" stroke="#3a3a3a" stroke-width="1.1"/>
<path d="M370.75 546.91h0M369.49 543h0M368.86 537.09h0M369.03 536.82h0M369.06 534.5h0M368.49 528.04h0M369.01 527.49h0M370.57 523.95h0M368.33 520.37h0M370.23 519.84h0M366.5 519.67h0M368.03 515.54h0M370.16 514.22h0M369.71 513.31h0M366.92 511.97h0M368.23 509.23h0M368.65 509.02h0M370.51 507.89h0M366.99 507h0M367.21 505.09h0M367.95 503.44h0M368.47 501.49h0M369.97 501.21h0M368.41 498.76h0M370.03 497.53h0M367.59 495.17h0M368.25 563.82h0M370.31 570.64h0M368.61 594.23h0M383.03 591.33h0M384.6 582.72h0M383.59 581.36h0M384.07 569.06h0M384.82 568.35h0M384.49 560.77h0M382.14 545.2h0M385.81 538.53h0M382.11 535.61h0M384.08 534.99h0M385.85 534.78h0M386.18 534.06h0M383.04 532.72h0M384.03 531.24h0M384.5 528.02h0M382.43 527.81h0M383.33 526.26h0M384.28 523.16h0M382.3 523.03h0M385.04 517.52h0M386.24 516.12h0M381.28 509.51h0M386.24 509.43h0M383.71 500.68h0M385.22 500.14h0M383.74 499.26h0M383.59 499.14h0M381.65 497.38h0M382.61 496.08h0M381.45 492.78h0M383.96 492.78h0M384.56 491.51h0M383.27 489.61h0" stroke="#000" stroke-opacity="0.78" stroke-width="2.2" stroke-linecap="round" fill="none"/>
<path d="M368.94 489.51v-1.2H383.76v1.2" stroke="#222" stroke-width="0.7" fill="none"/>
<text x="376.35" y="487.21" font-size="8.25" text-anchor="middle" fill="#111">0.594</text>
<text x="368.94" y="618.6" font-size="8.3" text-anchor="middle" fill="#111">29</text>
<text x="383.76" y="618.6" font-size="8.3" text-anchor="middle" fill="#111">33</text>
<line x1="368.94" y1="627.7" x2="368.94" y2="629.7" stroke="#222" stroke-width="0.8"/>
<text x="368.94" y="637" font-size="6.3" text-anchor="middle" fill="#333">N</text>
<line x1="383.76" y1="627.7" x2="383.76" y2="629.7" stroke="#222" stroke-width="0.8"/>
<text x="383.76" y="637" font-size="6.3" text-anchor="middle" fill="#333">T</text>
<rect x="396.6" y="455.5" width="32.6" height="12.7" fill="#d9d9d9"/>
<rect x="396.6" y="468.2" width="32.6" height="159.5" fill="#ebebeb"/>
<line x1="396.6" y1="609" x2="429.2" y2="609" stroke="#fff" stroke-width="0.9"/><line x1="396.6" y1="593.23" x2="429.2" y2="593.23" stroke="#fff" stroke-width="0.45"/><line x1="396.6" y1="577.45" x2="429.2" y2="577.45" stroke="#fff" stroke-width="0.9"/><line x1="396.6" y1="561.67" x2="429.2" y2="561.67" stroke="#fff" stroke-width="0.45"/><line x1="396.6" y1="545.9" x2="429.2" y2="545.9" stroke="#fff" stroke-width="0.9"/><line x1="396.6" y1="530.12" x2="429.2" y2="530.12" stroke="#fff" stroke-width="0.45"/><line x1="396.6" y1="514.35" x2="429.2" y2="514.35" stroke="#fff" stroke-width="0.9"/><line x1="396.6" y1="498.57" x2="429.2" y2="498.57" stroke="#fff" stroke-width="0.45"/><line x1="396.6" y1="482.8" x2="429.2" y2="482.8" stroke="#fff" stroke-width="0.9"/><line x1="405.49" y1="468.2" x2="405.49" y2="627.7" stroke="#fff" stroke-width="0.9"/><line x1="420.31" y1="468.2" x2="420.31" y2="627.7" stroke="#fff" stroke-width="0.9"/>
<text x="397.52" y="464.33" font-size="6.9" font-weight="bold" fill="#1a1a1a">mei-P26</text>
<text x="424.38" y="464.47" font-size="7.59" font-weight="bold" fill="#111" textLength="3.8" lengthAdjust="spacingAndGlyphs" font-family="DejaVu Sans, sans-serif" stroke="#111" stroke-width="0.25">↓</text>
<line x1="405.49" y1="482.8" x2="405.49" y2="486.96" stroke="#222" stroke-width="0.8"/>
<line x1="405.49" y1="494.03" x2="405.49" y2="505.01" stroke="#222" stroke-width="0.8"/>
<rect x="399.93" y="486.96" width="11.11" height="7.07" fill="#21a585" stroke="#2a2a2a" stroke-width="0.6"/>
<line x1="399.93" y1="490.25" x2="411.05" y2="490.25" stroke="#3a3a3a" stroke-width="1.1"/>
<line x1="420.31" y1="482.8" x2="420.31" y2="489.24" stroke="#222" stroke-width="0.8"/>
<line x1="420.31" y1="517.63" x2="420.31" y2="557.26" stroke="#222" stroke-width="0.8"/>
<rect x="414.75" y="489.24" width="11.11" height="28.4" fill="#21a585" stroke="#2a2a2a" stroke-width="0.6"/>
<line x1="414.75" y1="492.9" x2="425.87" y2="492.9" stroke="#3a3a3a" stroke-width="1.1"/>
<path d="M407.98 505.01h0M406.77 501.95h0M406.82 500.8h0M405.34 499.99h0M404.48 498.86h0M407.85 497.17h0M404.96 493.93h0M407.81 493.25h0M406.71 492.46h0M404.64 492.42h0M404.02 492.06h0M406.59 491.41h0M406.33 490.77h0M405.87 490.22h0M405.7 489.99h0M404.37 489h0M407.56 488.99h0M405.54 488.73h0M407.57 487.29h0M407.02 486.75h0M406.73 486.69h0M403.82 486.17h0M403.69 485.84h0M404.83 485.14h0M407.75 484.48h0M403.64 483.69h0M403.29 482.8h0M403.99 521.54h0M404.26 527.47h0M420.64 557.26h0M421.07 554.09h0M419.96 543.5h0M418.02 540.97h0M419.98 536.4h0M419.05 530.34h0M422.52 529.61h0M421.45 520.25h0M418.4 519.5h0M418.71 515.22h0M418.01 511.61h0M421.77 511.59h0M421.51 508.28h0M419.47 505.88h0M418.66 502.29h0M419.11 499.73h0M420.77 499.61h0M418.48 493.81h0M417.98 492.22h0M419.25 492.1h0M422.81 492.05h0M418.5 491.37h0M421.16 490.79h0M422.48 490.41h0M422.25 490.01h0M421.04 489.55h0M420.14 489.53h0M421.49 488.45h0M422.18 488.18h0M419.73 487.7h0M420.6 486.83h0M420.48 485.2h0M417.87 484.91h0M422.15 484.6h0M422.03 483.04h0M422.18 482.8h0" stroke="#000" stroke-opacity="0.78" stroke-width="2.2" stroke-linecap="round" fill="none"/>
<path d="M405.49 482.7v-1.2H420.31v1.2" stroke="#222" stroke-width="0.7" fill="none"/>
<text x="412.9" y="480.4" font-size="8.25" text-anchor="middle" fill="#111">0.078</text>
<text x="405.49" y="618.6" font-size="8.3" text-anchor="middle" fill="#111">29</text>
<text x="420.31" y="618.6" font-size="8.3" text-anchor="middle" fill="#111">36</text>
<line x1="405.49" y1="627.7" x2="405.49" y2="629.7" stroke="#222" stroke-width="0.8"/>
<text x="405.49" y="637" font-size="6.3" text-anchor="middle" fill="#333">N</text>
<line x1="420.31" y1="627.7" x2="420.31" y2="629.7" stroke="#222" stroke-width="0.8"/>
<text x="420.31" y="637" font-size="6.3" text-anchor="middle" fill="#333">T</text>
<rect x="433.15" y="455.5" width="32.6" height="12.7" fill="#d9d9d9"/>
<rect x="433.15" y="468.2" width="32.6" height="159.5" fill="#ebebeb"/>
<line x1="433.15" y1="609" x2="465.75" y2="609" stroke="#fff" stroke-width="0.9"/><line x1="433.15" y1="593.23" x2="465.75" y2="593.23" stroke="#fff" stroke-width="0.45"/><line x1="433.15" y1="577.45" x2="465.75" y2="577.45" stroke="#fff" stroke-width="0.9"/><line x1="433.15" y1="561.67" x2="465.75" y2="561.67" stroke="#fff" stroke-width="0.45"/><line x1="433.15" y1="545.9" x2="465.75" y2="545.9" stroke="#fff" stroke-width="0.9"/><line x1="433.15" y1="530.12" x2="465.75" y2="530.12" stroke="#fff" stroke-width="0.45"/><line x1="433.15" y1="514.35" x2="465.75" y2="514.35" stroke="#fff" stroke-width="0.9"/><line x1="433.15" y1="498.57" x2="465.75" y2="498.57" stroke="#fff" stroke-width="0.45"/><line x1="433.15" y1="482.8" x2="465.75" y2="482.8" stroke="#fff" stroke-width="0.9"/><line x1="442.04" y1="468.2" x2="442.04" y2="627.7" stroke="#fff" stroke-width="0.9"/><line x1="456.86" y1="468.2" x2="456.86" y2="627.7" stroke="#fff" stroke-width="0.9"/>
<text x="438.29" y="464.33" font-size="6.9" font-weight="bold" fill="#1a1a1a">msl-2</text>
<text x="456.71" y="464.47" font-size="7.59" font-weight="bold" fill="#111" textLength="3.8" lengthAdjust="spacingAndGlyphs" font-family="DejaVu Sans, sans-serif" stroke="#111" stroke-width="0.25">↓</text>
<line x1="442.04" y1="484.06" x2="442.04" y2="490.75" stroke="#222" stroke-width="0.8"/>
<line x1="442.04" y1="499.58" x2="442.04" y2="501.73" stroke="#222" stroke-width="0.8"/>
<rect x="436.48" y="490.75" width="11.11" height="8.83" fill="#2eb37c" stroke="#2a2a2a" stroke-width="0.6"/>
<line x1="436.48" y1="494.66" x2="447.6" y2="494.66" stroke="#3a3a3a" stroke-width="1.1"/>
<line x1="456.86" y1="484.06" x2="456.86" y2="488.48" stroke="#222" stroke-width="0.8"/>
<line x1="456.86" y1="511.7" x2="456.86" y2="535.93" stroke="#222" stroke-width="0.8"/>
<rect x="451.3" y="488.48" width="11.11" height="23.22" fill="#2eb37c" stroke="#2a2a2a" stroke-width="0.6"/>
<line x1="451.3" y1="496.68" x2="462.42" y2="496.68" stroke="#3a3a3a" stroke-width="1.1"/>
<path d="M444.32 501.73h0M440.09 501.32h0M442.46 500.54h0M443.74 500.29h0M444.02 499.98h0M440.02 499.67h0M442.4 498.26h0M440.74 497.17h0M441.34 495.2h0M440.12 494.29h0M439.98 493.44h0M444.45 493.41h0M441.29 491.77h0M441.89 490.54h0M442.96 490.35h0M444.06 486.9h0M443.71 485.95h0M442.64 484.06h0M444.3 514.98h0M440.88 517.13h0M458.31 535.93h0M456.27 529.08h0M457.34 519.45h0M455.81 513.77h0M458.1 510.07h0M454.97 507.13h0M456.39 504.18h0M458.79 501.22h0M457.77 498.37h0M456.92 496.63h0M456.8 494.07h0M454.93 490.97h0M454.62 489h0M458.77 488.68h0M455.47 488.47h0M457.32 487.25h0M455.44 485.22h0M459.12 484.06h0M457.17 554.1h0" stroke="#000" stroke-opacity="0.78" stroke-width="2.2" stroke-linecap="round" fill="none"/>
<path d="M442.04 483.96v-1.2H456.86v1.2" stroke="#222" stroke-width="0.7" fill="none"/>
<text x="449.45" y="481.66" font-size="8.25" text-anchor="middle" fill="#111">0.478</text>
<text x="442.04" y="618.6" font-size="8.3" text-anchor="middle" fill="#111">20</text>
<text x="456.86" y="618.6" font-size="8.3" text-anchor="middle" fill="#111">19</text>
<line x1="442.04" y1="627.7" x2="442.04" y2="629.7" stroke="#222" stroke-width="0.8"/>
<text x="442.04" y="637" font-size="6.3" text-anchor="middle" fill="#333">N</text>
<line x1="456.86" y1="627.7" x2="456.86" y2="629.7" stroke="#222" stroke-width="0.8"/>
<text x="456.86" y="637" font-size="6.3" text-anchor="middle" fill="#333">T</text>
<rect x="469.7" y="455.5" width="32.6" height="12.7" fill="#d9d9d9"/>
<rect x="469.7" y="468.2" width="32.6" height="159.5" fill="#ebebeb"/>
<line x1="469.7" y1="609" x2="502.3" y2="609" stroke="#fff" stroke-width="0.9"/><line x1="469.7" y1="593.23" x2="502.3" y2="593.23" stroke="#fff" stroke-width="0.45"/><line x1="469.7" y1="577.45" x2="502.3" y2="577.45" stroke="#fff" stroke-width="0.9"/><line x1="469.7" y1="561.67" x2="502.3" y2="561.67" stroke="#fff" stroke-width="0.45"/><line x1="469.7" y1="545.9" x2="502.3" y2="545.9" stroke="#fff" stroke-width="0.9"/><line x1="469.7" y1="530.12" x2="502.3" y2="530.12" stroke="#fff" stroke-width="0.45"/><line x1="469.7" y1="514.35" x2="502.3" y2="514.35" stroke="#fff" stroke-width="0.9"/><line x1="469.7" y1="498.57" x2="502.3" y2="498.57" stroke="#fff" stroke-width="0.45"/><line x1="469.7" y1="482.8" x2="502.3" y2="482.8" stroke="#fff" stroke-width="0.9"/><line x1="478.59" y1="468.2" x2="478.59" y2="627.7" stroke="#fff" stroke-width="0.9"/><line x1="493.41" y1="468.2" x2="493.41" y2="627.7" stroke="#fff" stroke-width="0.9"/>
<text x="477.72" y="464.33" font-size="6.9" font-weight="bold" fill="#1a1a1a">pan</text>
<text x="490.39" y="464.47" font-size="7.59" font-weight="bold" fill="#111" textLength="3.8" lengthAdjust="spacingAndGlyphs" font-family="DejaVu Sans, sans-serif" stroke="#111" stroke-width="0.25">↓</text>
<line x1="478.59" y1="484.06" x2="478.59" y2="489.61" stroke="#222" stroke-width="0.8"/>
<line x1="478.59" y1="506.53" x2="478.59" y2="524.82" stroke="#222" stroke-width="0.8"/>
<rect x="473.03" y="489.61" width="11.11" height="16.91" fill="#46c06f" stroke="#2a2a2a" stroke-width="0.6"/>
<line x1="473.03" y1="496.68" x2="484.15" y2="496.68" stroke="#3a3a3a" stroke-width="1.1"/>
<line x1="493.41" y1="484.06" x2="493.41" y2="490.75" stroke="#222" stroke-width="0.8"/>
<line x1="493.41" y1="537.44" x2="493.41" y2="577.32" stroke="#222" stroke-width="0.8"/>
<rect x="487.85" y="490.75" width="11.11" height="46.69" fill="#46c06f" stroke="#2a2a2a" stroke-width="0.6"/>
<line x1="487.85" y1="513.85" x2="498.97" y2="513.85" stroke="#3a3a3a" stroke-width="1.1"/>
<path d="M478.24 524.82h0M479.82 520.83h0M478.99 520.1h0M478.02 518.65h0M479.17 516.81h0M479.2 513.59h0M477.55 508.34h0M477.3 507.85h0M480.49 506.47h0M478.79 505.19h0M477.51 505.05h0M480.5 501.57h0M477.97 501.05h0M476.93 500.65h0M477.17 499.32h0M477.51 496.84h0M479.78 496.47h0M477.46 496.18h0M480.71 495.7h0M476.7 493.14h0M478.17 493.12h0M479.64 492.01h0M480.97 491.72h0M480.22 490.96h0M477.89 490.38h0M477.69 489.11h0M476.21 488.51h0M476.97 487.89h0M476.65 487.01h0M479.4 486.32h0M476.35 486.29h0M476.32 485.8h0M479.92 484.06h0M476.33 559.4h0M495.84 577.32h0M494.46 573.54h0M493.92 564.84h0M491.36 555.91h0M492.3 552.4h0M492.79 541.88h0M493.45 541.52h0M493.47 535.97h0M493.23 535.3h0M494.4 530.7h0M493.19 529.11h0M493 527.43h0M491.45 518.64h0M495.51 516.33h0M493.87 514.83h0M491.39 513.92h0M492.25 509.33h0M493.95 507.7h0M493.95 505.71h0M490.99 503.36h0M495.49 496h0M492.4 491.05h0M495.37 490.71h0M495.14 490.67h0M495.52 488.91h0M491.82 487.92h0M493.93 487.42h0M491.97 486.58h0M494.37 485.52h0M495.01 484.06h0" stroke="#000" stroke-opacity="0.78" stroke-width="2.2" stroke-linecap="round" fill="none"/>
<path d="M478.59 483.96v-1.2H493.41v1.2" stroke="#222" stroke-width="0.7" fill="none"/>
<text x="486" y="481.66" font-size="8.25" text-anchor="middle" fill="#111">0.0768</text>
<text x="478.59" y="618.6" font-size="8.3" text-anchor="middle" fill="#111">34</text>
<text x="493.41" y="618.6" font-size="8.3" text-anchor="middle" fill="#111">30</text>
<line x1="478.59" y1="627.7" x2="478.59" y2="629.7" stroke="#222" stroke-width="0.8"/>
<text x="478.59" y="637" font-size="6.3" text-anchor="middle" fill="#333">N</text>
<line x1="493.41" y1="627.7" x2="493.41" y2="629.7" stroke="#222" stroke-width="0.8"/>
<text x="493.41" y="637" font-size="6.3" text-anchor="middle" fill="#333">T</text>
<rect x="506.25" y="455.5" width="32.6" height="12.7" fill="#d9d9d9"/>
<rect x="506.25" y="468.2" width="32.6" height="159.5" fill="#ebebeb"/>
<line x1="506.25" y1="609" x2="538.85" y2="609" stroke="#fff" stroke-width="0.9"/><line x1="506.25" y1="593.23" x2="538.85" y2="593.23" stroke="#fff" stroke-width="0.45"/><line x1="506.25" y1="577.45" x2="538.85" y2="577.45" stroke="#fff" stroke-width="0.9"/><line x1="506.25" y1="561.67" x2="538.85" y2="561.67" stroke="#fff" stroke-width="0.45"/><line x1="506.25" y1="545.9" x2="538.85" y2="545.9" stroke="#fff" stroke-width="0.9"/><line x1="506.25" y1="530.12" x2="538.85" y2="530.12" stroke="#fff" stroke-width="0.45"/><line x1="506.25" y1="514.35" x2="538.85" y2="514.35" stroke="#fff" stroke-width="0.9"/><line x1="506.25" y1="498.57" x2="538.85" y2="498.57" stroke="#fff" stroke-width="0.45"/><line x1="506.25" y1="482.8" x2="538.85" y2="482.8" stroke="#fff" stroke-width="0.9"/><line x1="515.14" y1="468.2" x2="515.14" y2="627.7" stroke="#fff" stroke-width="0.9"/><line x1="529.96" y1="468.2" x2="529.96" y2="627.7" stroke="#fff" stroke-width="0.9"/>
<text x="514.27" y="464.33" font-size="6.9" font-weight="bold" fill="#1a1a1a">pyd</text>
<text x="526.94" y="464.47" font-size="7.59" font-weight="bold" fill="#111" textLength="3.8" lengthAdjust="spacingAndGlyphs" font-family="DejaVu Sans, sans-serif" stroke="#111" stroke-width="0.25">↓</text>
<line x1="515.14" y1="483.43" x2="515.14" y2="490.12" stroke="#222" stroke-width="0.8"/>
<line x1="515.14" y1="512.33" x2="515.14" y2="534.79" stroke="#222" stroke-width="0.8"/>
<rect x="509.58" y="490.12" width="11.11" height="22.21" fill="#65cb5e" stroke="#2a2a2a" stroke-width="0.6"/>
<line x1="509.58" y1="499.58" x2="520.7" y2="499.58" stroke="#3a3a3a" stroke-width="1.1"/>
<line x1="529.96" y1="483.43" x2="529.96" y2="496.68" stroke="#222" stroke-width="0.8"/>
<line x1="529.96" y1="531.89" x2="529.96" y2="563.44" stroke="#222" stroke-width="0.8"/>
<rect x="524.4" y="496.68" width="11.11" height="35.21" fill="#65cb5e" stroke="#2a2a2a" stroke-width="0.6"/>
<line x1="524.4" y1="511.19" x2="535.52" y2="511.19" stroke="#3a3a3a" stroke-width="1.1"/>
<path d="M516.43 534.79h0M512.86 531.97h0M516.62 530.8h0M516.31 524.7h0M517.08 521.08h0M515.13 517.1h0M515.9 513.43h0M513.68 512.79h0M514.1 511.92h0M513.02 509.52h0M512.73 506.5h0M513.75 504.62h0M513.9 503.88h0M513.85 502.25h0M512.68 500.51h0M512.7 500.05h0M517.51 498.92h0M516.31 495.82h0M514.16 495.73h0M513.5 495.28h0M513.82 493.11h0M514.08 492.35h0M512.68 490.88h0M515.72 489.87h0M514.32 488.05h0M513.28 487.79h0M516.97 486.92h0M516.64 485.18h0M515.41 484.92h0M516.51 483.43h0M515.28 561.17h0M513.68 568.87h0M530.12 563.44h0M529.76 556.7h0M531.29 556.51h0M529.08 552.45h0M531.6 545.79h0M530.9 537.58h0M529.82 532.37h0M529.06 528.61h0M530.38 528.05h0M531.75 523.86h0M527.98 522.56h0M532.03 518.03h0M531.27 515.5h0M528.6 514.95h0M527.53 514.02h0M530.15 510.39h0M527.77 508.47h0M532.15 507.65h0M529.72 502.73h0M529.37 502h0M527.5 500.69h0M530.01 499.21h0M530.91 496.76h0M530.28 496.71h0M532.23 495.23h0M531.19 491.02h0M530.93 490.52h0M529.7 486.71h0M529.92 485.1h0M530.24 483.43h0" stroke="#000" stroke-opacity="0.78" stroke-width="2.2" stroke-linecap="round" fill="none"/>
<path d="M515.14 483.33v-1.2H529.96v1.2" stroke="#222" stroke-width="0.7" fill="none"/>
<text x="522.55" y="481.03" font-size="8.25" text-anchor="middle" fill="#111">0.0679</text>
<text x="515.14" y="618.6" font-size="8.3" text-anchor="middle" fill="#111">32</text>
<text x="529.96" y="618.6" font-size="8.3" text-anchor="middle" fill="#111">30</text>
<line x1="515.14" y1="627.7" x2="515.14" y2="629.7" stroke="#222" stroke-width="0.8"/>
<text x="515.14" y="637" font-size="6.3" text-anchor="middle" fill="#333">N</text>
<line x1="529.96" y1="627.7" x2="529.96" y2="629.7" stroke="#222" stroke-width="0.8"/>
<text x="529.96" y="637" font-size="6.3" text-anchor="middle" fill="#333">T</text>
<rect x="542.8" y="455.5" width="32.6" height="12.7" fill="#d9d9d9"/>
<rect x="542.8" y="468.2" width="32.6" height="159.5" fill="#ebebeb"/>
<line x1="542.8" y1="609" x2="575.4" y2="609" stroke="#fff" stroke-width="0.9"/><line x1="542.8" y1="593.23" x2="575.4" y2="593.23" stroke="#fff" stroke-width="0.45"/><line x1="542.8" y1="577.45" x2="575.4" y2="577.45" stroke="#fff" stroke-width="0.9"/><line x1="542.8" y1="561.67" x2="575.4" y2="561.67" stroke="#fff" stroke-width="0.45"/><line x1="542.8" y1="545.9" x2="575.4" y2="545.9" stroke="#fff" stroke-width="0.9"/><line x1="542.8" y1="530.12" x2="575.4" y2="530.12" stroke="#fff" stroke-width="0.45"/><line x1="542.8" y1="514.35" x2="575.4" y2="514.35" stroke="#fff" stroke-width="0.9"/><line x1="542.8" y1="498.57" x2="575.4" y2="498.57" stroke="#fff" stroke-width="0.45"/><line x1="542.8" y1="482.8" x2="575.4" y2="482.8" stroke="#fff" stroke-width="0.9"/><line x1="551.69" y1="468.2" x2="551.69" y2="627.7" stroke="#fff" stroke-width="0.9"/><line x1="566.51" y1="468.2" x2="566.51" y2="627.7" stroke="#fff" stroke-width="0.9"/>
<text x="551.78" y="464.33" font-size="6.9" font-weight="bold" fill="#1a1a1a">sdt</text>
<text x="562.53" y="464.47" font-size="7.59" font-weight="bold" fill="#111" textLength="3.8" lengthAdjust="spacingAndGlyphs" font-family="DejaVu Sans, sans-serif" stroke="#111" stroke-width="0.25">↓</text>
<line x1="551.69" y1="489.61" x2="551.69" y2="502.36" stroke="#222" stroke-width="0.8"/>
<line x1="551.69" y1="513.85" x2="551.69" y2="517.13" stroke="#222" stroke-width="0.8"/>
<rect x="546.13" y="502.36" width="11.11" height="11.48" fill="#89d548" stroke="#2a2a2a" stroke-width="0.6"/>
<line x1="546.13" y1="509.43" x2="557.25" y2="509.43" stroke="#3a3a3a" stroke-width="1.1"/>
<line x1="566.51" y1="488.48" x2="566.51" y2="500.59" stroke="#222" stroke-width="0.8"/>
<line x1="566.51" y1="517.13" x2="566.51" y2="530.38" stroke="#222" stroke-width="0.8"/>
<rect x="560.95" y="500.59" width="11.11" height="16.53" fill="#89d548" stroke="#2a2a2a" stroke-width="0.6"/>
<line x1="560.95" y1="509.05" x2="572.07" y2="509.05" stroke="#3a3a3a" stroke-width="1.1"/>
<path d="M551.07 517.13h0M550.79 516.24h0M553.4 515.84h0M553 515.7h0M552.17 514.39h0M554.11 514.36h0M553.14 513.72h0M549.19 513.32h0M551.76 512.8h0M551.83 511.79h0M551.79 510.09h0M553.16 509.61h0M550.47 508.96h0M552.5 507.03h0M554.07 506.15h0M549.81 506h0M552.76 505.42h0M552.51 504.29h0M551.26 503.11h0M553.78 498.84h0M549.62 498.68h0M550.62 495.11h0M553.11 494h0M553.6 489.61h0M553.25 536.31h0M566.01 530.38h0M567.32 526.4h0M566.69 525.04h0M566.86 518.47h0M565.11 515.83h0M567.48 515.54h0M566.24 515.25h0M564.48 511.92h0M565.93 509.33h0M565.07 507.43h0M567.57 507.32h0M564.63 504.6h0M564.35 502.74h0M565.76 502.72h0M564.46 498.77h0M567.06 497.1h0M564.21 494.74h0M564.36 493.02h0M565.61 488.48h0M565.64 540.73h0M564.65 545.14h0" stroke="#000" stroke-opacity="0.78" stroke-width="2.2" stroke-linecap="round" fill="none"/>
<path d="M551.69 488.38v-1.2H566.51v1.2" stroke="#222" stroke-width="0.7" fill="none"/>
<text x="559.1" y="486.08" font-size="8.25" text-anchor="middle" fill="#111">0.694</text>
<text x="551.69" y="618.6" font-size="8.3" text-anchor="middle" fill="#111">25</text>
<text x="566.51" y="618.6" font-size="8.3" text-anchor="middle" fill="#111">21</text>
<line x1="551.69" y1="627.7" x2="551.69" y2="629.7" stroke="#222" stroke-width="0.8"/>
<text x="551.69" y="637" font-size="6.3" text-anchor="middle" fill="#333">N</text>
<line x1="566.51" y1="627.7" x2="566.51" y2="629.7" stroke="#222" stroke-width="0.8"/>
<text x="566.51" y="637" font-size="6.3" text-anchor="middle" fill="#333">T</text>
<rect x="579.35" y="455.5" width="32.6" height="12.7" fill="#d9d9d9"/>
<rect x="579.35" y="468.2" width="32.6" height="159.5" fill="#ebebeb"/>
<line x1="579.35" y1="609" x2="611.95" y2="609" stroke="#fff" stroke-width="0.9"/><line x1="579.35" y1="593.23" x2="611.95" y2="593.23" stroke="#fff" stroke-width="0.45"/><line x1="579.35" y1="577.45" x2="611.95" y2="577.45" stroke="#fff" stroke-width="0.9"/><line x1="579.35" y1="561.67" x2="611.95" y2="561.67" stroke="#fff" stroke-width="0.45"/><line x1="579.35" y1="545.9" x2="611.95" y2="545.9" stroke="#fff" stroke-width="0.9"/><line x1="579.35" y1="530.12" x2="611.95" y2="530.12" stroke="#fff" stroke-width="0.45"/><line x1="579.35" y1="514.35" x2="611.95" y2="514.35" stroke="#fff" stroke-width="0.9"/><line x1="579.35" y1="498.57" x2="611.95" y2="498.57" stroke="#fff" stroke-width="0.45"/><line x1="579.35" y1="482.8" x2="611.95" y2="482.8" stroke="#fff" stroke-width="0.9"/><line x1="588.24" y1="468.2" x2="588.24" y2="627.7" stroke="#fff" stroke-width="0.9"/><line x1="603.06" y1="468.2" x2="603.06" y2="627.7" stroke="#fff" stroke-width="0.9"/>
<text x="584.49" y="464.33" font-size="6.9" font-weight="bold" fill="#1a1a1a">smox</text>
<text x="602.91" y="464.47" font-size="7.59" font-weight="bold" fill="#111" textLength="3.8" lengthAdjust="spacingAndGlyphs" font-family="DejaVu Sans, sans-serif" stroke="#111" stroke-width="0.25">↓</text>
<line x1="588.24" y1="484.06" x2="588.24" y2="490.75" stroke="#222" stroke-width="0.8"/>
<line x1="588.24" y1="506.53" x2="588.24" y2="527.1" stroke="#222" stroke-width="0.8"/>
<rect x="582.68" y="490.75" width="11.11" height="15.78" fill="#b0dd2f" stroke="#2a2a2a" stroke-width="0.6"/>
<line x1="582.68" y1="496.18" x2="593.8" y2="496.18" stroke="#3a3a3a" stroke-width="1.1"/>
<line x1="603.06" y1="483.43" x2="603.06" y2="488.98" stroke="#222" stroke-width="0.8"/>
<line x1="603.06" y1="510.56" x2="603.06" y2="539.21" stroke="#222" stroke-width="0.8"/>
<rect x="597.5" y="488.98" width="11.11" height="21.58" fill="#b0dd2f" stroke="#2a2a2a" stroke-width="0.6"/>
<line x1="597.5" y1="494.66" x2="608.62" y2="494.66" stroke="#3a3a3a" stroke-width="1.1"/>
<path d="M589.35 527.1h0M586.15 521.23h0M588.67 521.02h0M587.48 517.45h0M588.62 517.39h0M587.16 513.1h0M587.18 510.89h0M589.04 509.22h0M587.87 505.89h0M588.61 505.61h0M589.6 503.14h0M585.97 501.58h0M586.58 501h0M587.31 498.52h0M585.97 498.3h0M586.33 497.2h0M589.91 495.33h0M586.39 494.65h0M588.22 494.49h0M587.99 493.74h0M588.37 493.26h0M586.41 493.01h0M587.26 491.87h0M589.28 490.75h0M586.6 490.09h0M587.82 489.75h0M589.33 488.7h0M587.04 488.55h0M586.27 486.9h0M585.79 486.16h0M590.68 484.32h0M585.86 484.06h0M586.81 559.4h0M602.69 539.21h0M603.75 534.13h0M603.3 532.36h0M604.76 520.26h0M600.81 513.52h0M603.44 509.51h0M604.82 508.84h0M605.54 507.05h0M601.49 504.21h0M600.6 501.07h0M604.84 500.76h0M601.79 496.01h0M601.89 494.81h0M603.26 494.37h0M603.8 492.17h0M604.38 491.75h0M602.46 491.58h0M602.33 489.71h0M605.17 489.56h0M602.77 488.4h0M600.86 487.01h0M603.36 486.74h0M602.95 485.56h0M600.73 483.93h0M602.1 483.43h0M602.05 565.21h0" stroke="#000" stroke-opacity="0.78" stroke-width="2.2" stroke-linecap="round" fill="none"/>
<path d="M588.24 483.33v-1.2H603.06v1.2" stroke="#222" stroke-width="0.7" fill="none"/>
<text x="595.65" y="481.03" font-size="8.25" text-anchor="middle" fill="#111">0.982</text>
<text x="588.24" y="618.6" font-size="8.3" text-anchor="middle" fill="#111">33</text>
<text x="603.06" y="618.6" font-size="8.3" text-anchor="middle" fill="#111">26</text>
<line x1="588.24" y1="627.7" x2="588.24" y2="629.7" stroke="#222" stroke-width="0.8"/>
<text x="588.24" y="637" font-size="6.3" text-anchor="middle" fill="#333">N</text>
<line x1="603.06" y1="627.7" x2="603.06" y2="629.7" stroke="#222" stroke-width="0.8"/>
<text x="603.06" y="637" font-size="6.3" text-anchor="middle" fill="#333">T</text>
<rect x="615.9" y="455.5" width="32.6" height="12.7" fill="#d9d9d9"/>
<rect x="615.9" y="468.2" width="32.6" height="159.5" fill="#ebebeb"/>
<line x1="615.9" y1="609" x2="648.5" y2="609" stroke="#fff" stroke-width="0.9"/><line x1="615.9" y1="593.23" x2="648.5" y2="593.23" stroke="#fff" stroke-width="0.45"/><line x1="615.9" y1="577.45" x2="648.5" y2="577.45" stroke="#fff" stroke-width="0.9"/><line x1="615.9" y1="561.67" x2="648.5" y2="561.67" stroke="#fff" stroke-width="0.45"/><line x1="615.9" y1="545.9" x2="648.5" y2="545.9" stroke="#fff" stroke-width="0.9"/><line x1="615.9" y1="530.12" x2="648.5" y2="530.12" stroke="#fff" stroke-width="0.45"/><line x1="615.9" y1="514.35" x2="648.5" y2="514.35" stroke="#fff" stroke-width="0.9"/><line x1="615.9" y1="498.57" x2="648.5" y2="498.57" stroke="#fff" stroke-width="0.45"/><line x1="615.9" y1="482.8" x2="648.5" y2="482.8" stroke="#fff" stroke-width="0.9"/><line x1="624.79" y1="468.2" x2="624.79" y2="627.7" stroke="#fff" stroke-width="0.9"/><line x1="639.61" y1="468.2" x2="639.61" y2="627.7" stroke="#fff" stroke-width="0.9"/>
<text x="621.11" y="464.33" font-size="6.9" font-weight="bold" fill="#1a1a1a">Ten-a</text>
<text x="639.4" y="464.47" font-size="7.59" font-weight="bold" fill="#111" textLength="3.8" lengthAdjust="spacingAndGlyphs" font-family="DejaVu Sans, sans-serif" stroke="#111" stroke-width="0.25">↓</text>
<line x1="624.79" y1="482.8" x2="624.79" y2="489.61" stroke="#222" stroke-width="0.8"/>
<line x1="624.79" y1="501.73" x2="624.79" y2="514.98" stroke="#222" stroke-width="0.8"/>
<rect x="619.23" y="489.61" width="11.11" height="12.12" fill="#d8e219" stroke="#2a2a2a" stroke-width="0.6"/>
<line x1="619.23" y1="494.03" x2="630.35" y2="494.03" stroke="#3a3a3a" stroke-width="1.1"/>
<line x1="639.61" y1="482.8" x2="639.61" y2="490.75" stroke="#222" stroke-width="0.8"/>
<line x1="639.61" y1="516.5" x2="639.61" y2="559.02" stroke="#222" stroke-width="0.8"/>
<rect x="634.05" y="490.75" width="11.11" height="25.74" fill="#d8e219" stroke="#2a2a2a" stroke-width="0.6"/>
<line x1="634.05" y1="501.73" x2="645.17" y2="501.73" stroke="#3a3a3a" stroke-width="1.1"/>
<path d="M624.72 514.98h0M623.24 511.39h0M624.62 508.5h0M626.5 506.92h0M626.02 504.93h0M624.63 504.45h0M622.71 504.34h0M626.3 501.63h0M625.08 500.38h0M623.45 498.19h0M622.42 497.38h0M622.95 496.71h0M622.74 496.15h0M624.73 495.28h0M623.91 494.25h0M626.2 493.43h0M625.15 492.8h0M625.92 492.75h0M624.62 491.81h0M624.96 490.57h0M626.39 490.04h0M626.9 489.22h0M622.43 489.04h0M626.02 488.59h0M623.09 487.12h0M625.55 485.56h0M625.2 485.08h0M623.13 484.69h0M625.64 482.8h0M623.8 520.66h0M626.1 529.87h0M641.93 559.02h0M639.86 551.28h0M638.68 551.05h0M642.09 536.8h0M642.03 531.41h0M640.04 529.56h0M637.8 520.07h0M637.36 516.09h0M638.07 515.65h0M640.15 514.6h0M639.45 511.97h0M640.28 510.36h0M640 506.49h0M640.18 505.23h0M639.39 502.52h0M637.11 500.21h0M639.4 499.18h0M641.47 498.02h0M640.25 497.41h0M638.31 495.47h0M638.72 495.15h0M638.99 493.35h0M638.37 493.07h0M637.45 491.21h0M641.69 489.35h0M641.28 489.22h0M638.31 486.55h0M640.58 486.4h0M637.68 485.07h0M637.96 484.7h0M639.61 482.8h0" stroke="#000" stroke-opacity="0.78" stroke-width="2.2" stroke-linecap="round" fill="none"/>
<path d="M624.79 482.7v-1.2H639.61v1.2" stroke="#222" stroke-width="0.7" fill="none"/>
<text x="632.2" y="480.4" font-size="8.25" text-anchor="middle" fill="#111">0.103</text>
<text x="624.79" y="618.6" font-size="8.3" text-anchor="middle" fill="#111">31</text>
<text x="639.61" y="618.6" font-size="8.3" text-anchor="middle" fill="#111">31</text>
<line x1="624.79" y1="627.7" x2="624.79" y2="629.7" stroke="#222" stroke-width="0.8"/>
<text x="624.79" y="637" font-size="6.3" text-anchor="middle" fill="#333">N</text>
<line x1="639.61" y1="627.7" x2="639.61" y2="629.7" stroke="#222" stroke-width="0.8"/>
<text x="639.61" y="637" font-size="6.3" text-anchor="middle" fill="#333">T</text>
<rect x="652.45" y="455.5" width="32.6" height="12.7" fill="#d9d9d9"/>
<rect x="652.45" y="468.2" width="32.6" height="159.5" fill="#ebebeb"/>
<line x1="652.45" y1="609" x2="685.05" y2="609" stroke="#fff" stroke-width="0.9"/><line x1="652.45" y1="593.23" x2="685.05" y2="593.23" stroke="#fff" stroke-width="0.45"/><line x1="652.45" y1="577.45" x2="685.05" y2="577.45" stroke="#fff" stroke-width="0.9"/><line x1="652.45" y1="561.67" x2="685.05" y2="561.67" stroke="#fff" stroke-width="0.45"/><line x1="652.45" y1="545.9" x2="685.05" y2="545.9" stroke="#fff" stroke-width="0.9"/><line x1="652.45" y1="530.12" x2="685.05" y2="530.12" stroke="#fff" stroke-width="0.45"/><line x1="652.45" y1="514.35" x2="685.05" y2="514.35" stroke="#fff" stroke-width="0.9"/><line x1="652.45" y1="498.57" x2="685.05" y2="498.57" stroke="#fff" stroke-width="0.45"/><line x1="652.45" y1="482.8" x2="685.05" y2="482.8" stroke="#fff" stroke-width="0.9"/><line x1="661.34" y1="468.2" x2="661.34" y2="627.7" stroke="#fff" stroke-width="0.9"/><line x1="676.16" y1="468.2" x2="676.16" y2="627.7" stroke="#fff" stroke-width="0.9"/>
<text x="661.42" y="464.33" font-size="6.9" font-weight="bold" fill="#1a1a1a">svr</text>
<text x="672.18" y="464.47" font-size="7.59" font-weight="bold" fill="#111" textLength="3.8" lengthAdjust="spacingAndGlyphs" font-family="DejaVu Sans, sans-serif" stroke="#111" stroke-width="0.25">↓</text>
<line x1="661.34" y1="484.06" x2="661.34" y2="495.8" stroke="#222" stroke-width="0.8"/>
<line x1="661.34" y1="532.52" x2="661.34" y2="568.87" stroke="#222" stroke-width="0.8"/>
<rect x="655.78" y="495.8" width="11.11" height="36.72" fill="#fde725" stroke="#2a2a2a" stroke-width="0.6"/>
<line x1="655.78" y1="518.64" x2="666.9" y2="518.64" stroke="#3a3a3a" stroke-width="1.1"/>
<line x1="676.16" y1="483.43" x2="676.16" y2="492.26" stroke="#222" stroke-width="0.8"/>
<line x1="676.16" y1="517.63" x2="676.16" y2="544.64" stroke="#222" stroke-width="0.8"/>
<rect x="670.6" y="492.26" width="11.11" height="25.37" fill="#fde725" stroke="#2a2a2a" stroke-width="0.6"/>
<line x1="670.6" y1="501.73" x2="681.72" y2="501.73" stroke="#3a3a3a" stroke-width="1.1"/>
<path d="M660.04 568.87h0M661.31 558.45h0M661.9 543.18h0M663.1 537.33h0M659.17 534.53h0M660.44 526.24h0M661.69 523.99h0M663.39 522.4h0M659.23 514.77h0M662.07 509.43h0M661.13 508.24h0M661.19 501.54h0M659.03 494.64h0M660.78 491.78h0M660.27 490.19h0M661.13 484.06h0M673.87 544.64h0M674.31 524.65h0M677.35 518.33h0M677.02 513.88h0M677.95 511.6h0M677.44 505.92h0M677.3 501.71h0M676.6 500.93h0M674.22 498.34h0M677.22 493.45h0M674.39 490.23h0M677.14 490.12h0M678.52 483.43h0M677.93 556.75h0M678.22 565.59h0" stroke="#000" stroke-opacity="0.78" stroke-width="2.2" stroke-linecap="round" fill="none"/>
<path d="M661.34 483.33v-1.2H676.16v1.2" stroke="#222" stroke-width="0.7" fill="none"/>
<text x="668.75" y="481.03" font-size="8.25" text-anchor="middle" fill="#111">0.338</text>
<text x="661.34" y="618.6" font-size="8.3" text-anchor="middle" fill="#111">16</text>
<text x="676.16" y="618.6" font-size="8.3" text-anchor="middle" fill="#111">15</text>
<line x1="661.34" y1="627.7" x2="661.34" y2="629.7" stroke="#222" stroke-width="0.8"/>
<text x="661.34" y="637" font-size="6.3" text-anchor="middle" fill="#333">N</text>
<line x1="676.16" y1="627.7" x2="676.16" y2="629.7" stroke="#222" stroke-width="0.8"/>
<text x="676.16" y="637" font-size="6.3" text-anchor="middle" fill="#333">T</text>
<text x="27.4" y="611.6" font-size="6.5" text-anchor="end" fill="#4d4d4d">0.00</text>
<line x1="29.4" y1="609" x2="31.2" y2="609" stroke="#333" stroke-width="0.6"/>
<text x="27.4" y="580.05" font-size="6.5" text-anchor="end" fill="#4d4d4d">0.25</text>
<line x1="29.4" y1="577.45" x2="31.2" y2="577.45" stroke="#333" stroke-width="0.6"/>
<text x="27.4" y="548.5" font-size="6.5" text-anchor="end" fill="#4d4d4d">0.50</text>
<line x1="29.4" y1="545.9" x2="31.2" y2="545.9" stroke="#333" stroke-width="0.6"/>
<text x="27.4" y="516.95" font-size="6.5" text-anchor="end" fill="#4d4d4d">0.75</text>
<line x1="29.4" y1="514.35" x2="31.2" y2="514.35" stroke="#333" stroke-width="0.6"/>
<text x="27.4" y="485.4" font-size="6.5" text-anchor="end" fill="#4d4d4d">1.00</text>
<line x1="29.4" y1="482.8" x2="31.2" y2="482.8" stroke="#333" stroke-width="0.6"/>
<text x="24.1" y="618.4" font-size="8.2" font-weight="bold">n</text>
<text font-size="8.2" text-anchor="middle" font-weight="bold" textLength="63.4" lengthAdjust="spacingAndGlyphs" transform="translate(10.4 548.2) rotate(-90)">Courtship Index</text>
<text x="-1.4" y="662.9" font-size="18.3">F</text>
<path d="M105.6 737L105.6 658.8A79.7 78.2 0 0 1 179.23 707.07Z" fill="#f0f921" stroke="#000" stroke-width="1.2" stroke-linejoin="round"/>
<path d="M105.6 737L179.23 707.07A79.7 78.2 0 0 1 179.23 766.93Z" fill="#fca636" stroke="#000" stroke-width="1.2" stroke-linejoin="round"/>
<path d="M105.6 737L179.23 766.93A79.7 78.2 0 0 1 136.1 809.25Z" fill="#e16462" stroke="#000" stroke-width="1.2" stroke-linejoin="round"/>
<path d="M105.6 737L136.1 809.25A79.7 78.2 0 0 1 31.97 707.07Z" fill="#b12a90" stroke="#000" stroke-width="1.2" stroke-linejoin="round"/>
<path d="M105.6 737L31.97 707.07A79.7 78.2 0 0 1 105.6 658.8Z" fill="#6a00a8" stroke="#000" stroke-width="1.2" stroke-linejoin="round"/>
<rect x="56" y="676.5" width="45.6" height="35.9" fill="#fff" stroke="#333" stroke-width="0.8" rx="1.5"/>
<text x="78.8" y="686.1" font-size="9.3" text-anchor="middle" fill="#111">mei-P26,</text>
<text x="78.8" y="697.8" font-size="9.3" text-anchor="middle" fill="#111">msl-2,</text>
<text x="78.8" y="709.5" font-size="9.3" text-anchor="middle" fill="#111">CG11700</text>
<rect x="109.5" y="679.4" width="42.9" height="33" fill="#fff" stroke="#333" stroke-width="0.8" rx="1.5"/>
<text x="130.95" y="688.2" font-size="9.3" text-anchor="middle" fill="#111">LysRS,</text>
<text x="130.95" y="699.3" font-size="9.3" text-anchor="middle" fill="#111">CG2915,</text>
<text x="130.95" y="711" font-size="9.3" text-anchor="middle" fill="#111">CG17691</text>
<rect x="135.8" y="727.6" width="45.2" height="14" fill="#fff" stroke="#333" stroke-width="0.8" rx="1.5"/>
<text x="158.4" y="737.2" font-size="9.3" text-anchor="middle" fill="#111">sdt, pyd</text>
<rect x="129.9" y="760.6" width="29.2" height="24.8" fill="#fff" stroke="#333" stroke-width="0.8" rx="1.5"/>
<text x="144.5" y="769.9" font-size="9.3" text-anchor="middle" fill="#111">svr,</text>
<text x="144.5" y="781.6" font-size="9.3" text-anchor="middle" fill="#111">cora</text>
<rect x="40.3" y="743.1" width="66.3" height="37.6" fill="#fff" stroke="#333" stroke-width="0.8" rx="1.5"/>
<text x="73.45" y="753.3" font-size="9.3" text-anchor="middle" fill="#111">sr, Hr38,</text>
<text x="73.45" y="764.7" font-size="9.3" text-anchor="middle" fill="#111">CG31301, cpo,</text>
<text x="73.45" y="776.4" font-size="9.3" text-anchor="middle" fill="#111">pan, fs(1)h</text>
<text x="202" y="689.3" font-size="14.4" font-weight="bold" textLength="60.4" lengthAdjust="spacingAndGlyphs">Function</text>
<rect x="202.6" y="702.4" width="17.6" height="18.32" fill="#6a00a8" stroke="#000" stroke-width="1.2"/>
<text x="225.5" y="713.9" font-size="9.75">Ubiquitin</text>
<text x="288.6" y="713.9" font-size="9.75">19%</text>
<rect x="202.6" y="720.72" width="17.6" height="18.32" fill="#b12a90" stroke="#000" stroke-width="1.2"/>
<text x="225.5" y="732.7" font-size="9.75">Transcription</text>
<text x="288.6" y="732.7" font-size="9.75">38%</text>
<rect x="202.6" y="739.04" width="17.6" height="18.32" fill="#e16462" stroke="#000" stroke-width="1.2"/>
<text x="225.5" y="751.8" font-size="9.75">Synapses</text>
<text x="288.6" y="751.8" font-size="9.75">12%</text>
<rect x="202.6" y="757.36" width="17.6" height="18.32" fill="#fca636" stroke="#000" stroke-width="1.2"/>
<text x="225.5" y="769" font-size="9.75">Signaling</text>
<text x="288.6" y="769" font-size="9.75">12%</text>
<rect x="202.6" y="775.68" width="17.6" height="18.32" fill="#f0f921" stroke="#000" stroke-width="1.2"/>
<text x="225.5" y="787.8" font-size="9.75">Others</text>
<text x="288.6" y="787.8" font-size="9.75">19%</text>
<text x="322.2" y="663.2" font-size="18.3">G</text>
<text x="497.7" y="662.3" font-size="12.1" text-anchor="middle" font-weight="bold" textLength="163.5" lengthAdjust="spacingAndGlyphs">POSITIVE HIT PROPORTION</text>
<rect x="367.2" y="669.1" width="251.4" height="25.7" fill="#0000ee"/>
<rect x="367.2" y="669.1" width="35.7" height="25.7" fill="#f20000"/>
<rect x="350.6" y="669.6" width="10.6" height="24.7" fill="#7671b5" stroke="#444" stroke-width="0.9"/>
<text font-size="8.6" text-anchor="middle" font-weight="bold" transform="translate(358.9 681.95) rotate(-90)">A</text>
<rect x="367.2" y="697.2" width="251.4" height="25.7" fill="#0000ee"/>
<rect x="367.2" y="697.2" width="41.73" height="25.7" fill="#f20000"/>
<rect x="350.6" y="697.7" width="10.6" height="24.7" fill="#ffe22b" stroke="#444" stroke-width="0.9"/>
<text font-size="8.6" text-anchor="middle" font-weight="bold" transform="translate(358.9 710.05) rotate(-90)">B</text>
<rect x="367.2" y="725.3" width="251.4" height="25.7" fill="#0000ee"/>
<rect x="367.2" y="725.3" width="126.71" height="25.7" fill="#f20000"/>
<rect x="350.6" y="725.8" width="10.6" height="24.7" fill="#1f8a87" stroke="#444" stroke-width="0.9"/>
<text font-size="8.6" text-anchor="middle" font-weight="bold" transform="translate(358.9 738.15) rotate(-90)">C</text>
<rect x="367.2" y="753.4" width="251.4" height="25.7" fill="#0000ee"/>
<rect x="367.2" y="753.4" width="75.67" height="25.7" fill="#f20000"/>
<rect x="350.6" y="753.9" width="10.6" height="24.7" fill="#5ec867" stroke="#444" stroke-width="0.9"/>
<text font-size="7.4" text-anchor="middle" font-weight="bold" textLength="16.4" lengthAdjust="spacingAndGlyphs" transform="translate(358.5 766.25) rotate(-90)">C&gt;80</text>
<rect x="367.2" y="781.5" width="251.4" height="25.7" fill="#0000ee"/>
<rect x="367.2" y="781.5" width="107.85" height="25.7" fill="#f20000"/>
<rect x="350.6" y="782" width="10.6" height="24.7" fill="#f5842a" stroke="#444" stroke-width="0.9"/>
<text font-size="7.4" text-anchor="middle" font-weight="bold" textLength="23" lengthAdjust="spacingAndGlyphs" transform="translate(358.5 794.35) rotate(-90)">INTACT</text>
<line x1="347.1" y1="669.2" x2="347.1" y2="779" stroke="#555" stroke-width="1.4"/>
<text font-size="14" text-anchor="middle" font-weight="bold" textLength="49" lengthAdjust="spacingAndGlyphs" transform="translate(343.8 731.7) rotate(-90)">Cluster</text>
<line x1="367.2" y1="807.2" x2="367.2" y2="809.4" stroke="#333" stroke-width="0.7"/>
<text x="367.2" y="818.2" font-size="8.4" text-anchor="middle" fill="#222">0.00</text>
<line x1="430.05" y1="807.2" x2="430.05" y2="809.4" stroke="#333" stroke-width="0.7"/>
<text x="430.05" y="818.2" font-size="8.4" text-anchor="middle" fill="#222">0.25</text>
<line x1="492.9" y1="807.2" x2="492.9" y2="809.4" stroke="#333" stroke-width="0.7"/>
<text x="492.9" y="818.2" font-size="8.4" text-anchor="middle" fill="#222">0.50</text>
<line x1="555.75" y1="807.2" x2="555.75" y2="809.4" stroke="#333" stroke-width="0.7"/>
<text x="555.75" y="818.2" font-size="8.4" text-anchor="middle" fill="#222">0.75</text>
<line x1="618.6" y1="807.2" x2="618.6" y2="809.4" stroke="#333" stroke-width="0.7"/>
<text x="618.6" y="818.2" font-size="8.4" text-anchor="middle" fill="#222">1.00</text>
<rect x="623.8" y="706.3" width="18.2" height="18" fill="#0000ee" stroke="#000" stroke-width="1.3"/>
<rect x="623.8" y="742.5" width="18.2" height="18" fill="#f20000" stroke="#000" stroke-width="1.3"/>
<text x="648.2" y="718.8" font-size="10.5">Tested</text>
<text x="648.2" y="755.1" font-size="10.5" textLength="36.6" lengthAdjust="spacingAndGlyphs">Positive</text>
</svg>
</body></html>
